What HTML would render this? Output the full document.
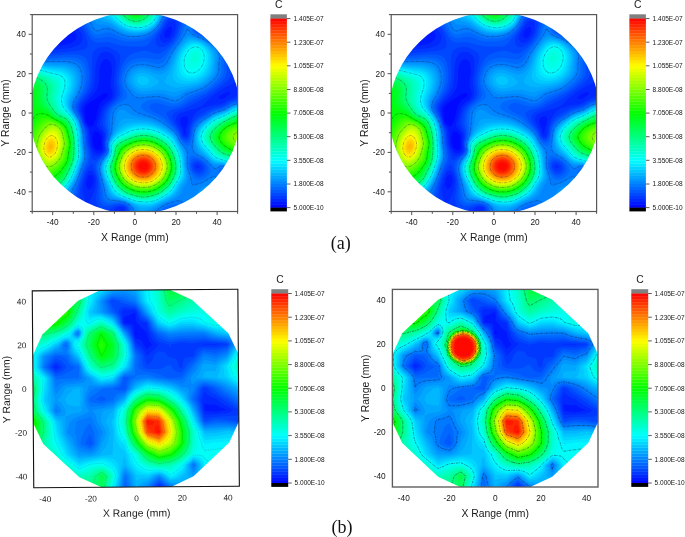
<!DOCTYPE html>
<html><head><meta charset="utf-8"><title>Figure</title>
<style>
html,body{margin:0;padding:0;background:#fff;}
svg{display:block;font-family:"Liberation Sans",sans-serif;}
</style></head><body>
<svg width="685" height="537" viewBox="0 0 685 537">
<rect width="685" height="537" fill="#fff"/>
<clipPath id="ct0"><ellipse cx="135.2" cy="113.0" rx="105.3" ry="100.9"/></clipPath>
<clipPath id="ct0f"><rect x="32.2" y="14.6" width="205.4" height="196.9"/></clipPath>
<g id="tf0"><g clip-path="url(#ct0f)"><g>
<rect x="30.2" y="12.6" width="209.4" height="200.9" fill="#0008ff"/>
<g transform="scale(.1)">
<path d="M240 2194l2218 0 0-2127-2218 0zM610 367l-21-4 21-20 16 20zM887 1252l-31-37-10-85 0-29 10-32 31-34 31-23 48-29 44-34 31-16 31-4 11 24-11 19-14 11-17 8-26 21-20 30-10 29-29 119-13 29-25 47zM979 1503l-31-23-12-25-9-29-3-30 1-29 7-30 16-27 31 13 14 14 17 24 2 6 2 29 0 89-4 7z" fill="#0018ff"/>
<path d="M240 2194l2218 0 0-2127-2218 0zM394 454l-27-32-6-30 10-29 28-30 118-69 47-20 46-7 30 1 30 6 32 18 15 12 26 30 18 29 6 30-9 29-33 30-23 10-31 10-38 9-23 3-93 3-61 9-31-1zM887 1896l-20-27-6-30 3-29 8-30 15-28 31-4 17 32 2 30-6 29-13 37zM948 1518l-22-33-13-30-6-29-3-30-2-59-4-29-11-20-3-10-19-29-9-9-9-21-22-93-3-25 3-30 18-29 13-17 42-42 27-30 23-29 20-30 11-29 8-30 3-29 0-89 12-59 12-30 27-34 31-5 31 30 12 39 4 29 1 30-4 30-7 29-4 30-1 29 3 30 17 59 1 29-13 30-9 10-26 19-34 30-22 29-22 59-16 60-10 29-7 30 15 29 29 31 16 28 7 30-6 59 6 59-13 29-10 10-31 9zM1657 379l-15-16 3-30 12-27 31-37 31 2 2 33-2 16-4 13-16 30-11 11zM1842 1344l-3-7-3-29-9-30-18-29-7-30 3-29 6-9 31-19 31 4 9 24-3 29-6 30-14 29-8 59zM2088 286l-24-12-4-30 28-14 31 11 3 3 13 30-16 20zM2212 993l-31-10 27-30 34-18 31-13 32 2-20 29-12 6-29 24z" fill="#0028ff"/>
<path d="M240 2194l2218 0 0-2127-2218 0zM425 513l-31-6-31-14-20-12-27-30-18-29-8-30-3-29 6-30 8-17 9-12 22-21 31-17 62-24 61-33 31-12 31-9 18-3 44-2 25 2 36 9 31 12 31 20 31 33 32 45 17 29 11 30 0 29-10 30-20 23-8 6-22 11-62 18-31 5-154 16-61 12zM856 2028l-20-71-6-29-3-30 6-59 15-59 11-29 28-41 31-4 29 45 9 29 2 30-4 59-7 29-23 59-6 20-8 10-23 49zM1164 2139l-18-4-10-30 31-29 28-9 31 0 17 9 5 29-22 22-31 12zM1626 425l-5-3-22-30 2-29 12-30 13-25 31-51 31-40 31-12 31 11 9 28-2 30-7 40-6 19-13 30-12 18-31 29-31 14zM1842 1373l-6-6-15-30-25-59-16-27-14-32-6-29 9-30 11-10 29-20 64-23 92-24 62-28 6-13 25-20 6-10 24-19 9-10 74-59 43-30 59-34 58-25 35-26 7-3 24-20 30 12 11 37 0 30-6 29-16 30-19 20-12 9-50 21-16 9-15 5-62 36-30 15-31 7-31 3-62 11-30 12-31 5-31 21-1 3-30 22-31 42-13 25-25 59-9 29-6 59-8 26-6 4zM1965 1687l-10-25 10-12 31 9 3 3-3 15zM948 1557l-30-43-22-59-10-59-3-59-4-29-11-30-12-16-18-43-35-118 1-30 12-29 9-14 38-45 45-59 29-59 7-30 4-29 6-119 7-59 8-29 10-26 23-33 8-8 31-15 31 0 31 13 14 10 26 29 10 30 3 29 0 30-18 148 0 29 14 89-2 29-13 30-4 5-30 31-28 23-25 29-16 30-11 29-21 89 0 30 33 59 6 12 5 17 3 30-8 59 1 29 4 30-4 29-32 30-31 14zM2150 363l-31-12-61-32-38-15-23-30 3-30 8-29 14-30 5-6 31-21 30-5 18 3 13 3 31 17 10 9 21 25 18 34 13 31 8 29-1 29-7 10-31 18z" fill="#0038ff"/>
<path d="M240 2194l459 0 14-30 49-88 12-30 9-29 11-84 19-94 12-43 28-75 34-55 9-4 22-26 22 56 8 13 22 75 5 30 0 59-12 88-2 30 3 30 9 29 6 14 11 16 20 21 31 7 31-4 31-14 14-10 47-17 31-7 31 2 31 15 6 7 5 29-11 18-12 12-19 12-31 13-31 7-31 3-30-1-62-6-31 2-31 7-31 10-26 12 1536 0 0-1268-31 33-30 19-11 5-51 14-33 15-29 16-31 20-61 20-62 15-31 15-92 51-31 24-31 38-20 38-9 29-10 59-9 30-13 20-31 3-21-23-10-18-18-41-56-89-13-29-2-30 20-30 131-61 106-57 17-7 62-36 65-45 81-59 73-59 22-30 11-29 5-30-2-89 14-88 0-30-4-29-11-30-8-9-24-20-38-14-92-17-31-13-61-34-62-28-19-12-8-30 5-89 7-29 15-23 7-7 24-14 31-11 30-3 31 3 31 10 28 15 34 34 16 25 25 59 20 34 31 37 20 18 11 13 31 22 48 24 44 25 0-350-2218 0 0 199 15-22 16-16 30-21 31-14 31-11 123-36 62-9 31 0 31 2 61 14 31 12 31 17 31 27 29 35 32 49 23 40 12 30 8 29 7 30 3 29-10 30-12 7-31 11-61 10-216 20-68 11-55 2-31-5-31-11-34-16-36-29-25-30-18-29-10-23zM948 1604l-30-11-9-49-20-59-7-30-5-29-6-89-6-29-36-89-18-59-24-59-2-30 9-30 31-44 12-14 40-59 16-30 12-29 12-59 3-30 1-89-2-88 2-30 5-29 10-30 12-10 31-18 31-9 31-5 31 1 31 9 60 32 33 30 8 29-3 30-31 148-7 59 1 29 10 59 3 30-3 29-14 30-26 29-32 30-27 29-18 30-11 29-8 30-10 59 4 30 22 59 7 29 0 30-12 59 0 29 6 30-4 29-10 17-31 29-22 14zM1595 473l-27-22-3-6-7-23 1-30 12-29 73-119 13-25 30-34 32-13 31 0 23 13 7 12 6 18 0 29-5 30-15 59-16 37-31 43-31 28-18 10-13 10-31 12zM1965 1716l-25-24-6-13-4-17 4-18 8-11 23-10 31 6 31 33 0 30-31 27z" fill="#0048ff"/>
<path d="M240 2194l343 0 27-30 61-55 32-33 30-42 9-17 12-30 40-143 31-92 31-75 24-44 7-29 4-30-2-30-24-118-7-89-5-29-9-30-19-46-13-42-12-30-28-59-5-30 9-29 16-30 42-59 18-29 15-30 11-29 13-59 3-59-1-30-6-53-8-36-11-29-12-18-14-12-17-10-31-9-30-4-31-1-62 1-92 6-123 12-31-1-31-5-62-19-45-29-33-29-14-17zM1145 2194l1313 0 0-1234-31 25-30 12-62 17-31 12-62 39-30 11-62 15-31 13-31 16-30 20-62 34-31 26-16 19-15 23-16 36-7 30-7 49-3 10-16 29-12 14-31-3-31-34-16-36-15-26-30-42-18-20-13-19-10-11-19-29-17-30-9-30 24-20 20-9 72-19 62-28 67-42 149-74 104-73 36-30 31-29 23-30 13-29 6-30-2-59 6-89 0-29-5-30-11-29-27-30-20-13-93-40-61-35-31-15-38-15-24-16-11-13-5-60-5-29-18-59 6-30 26-29 38-24 15-6-1771 0 0 81 31-16 30-11 31-8 93-16 31-3 61-3 62 4 61 12 31 10 23 9 39 21 31 22 17 16 25 30 20 29 65 119 27 37 30 19 31 6 93-5 31 4 61 20 62 14 61 8 154-1 31-14 31-30 16-29 70-88 21-30 47-84 31-29 31-14 31-6 30 1 30 14 1 2 9 27-5 30-29 118-12 30-24 40-31 38-31 30-31 27-31 23-31 14-30 3-31-7-31-12-31-9-31-5-14 5-47 9-31 9-31 13-31 16-30 33-31 53-17 44-16 60-8 59 1 29 17 89-4 29-14 30-27 29-33 30-28 29-18 30-12 29-8 30-6 59 3 30 16 57 3 31-2 30-16 59 0 29 7 30-3 29-20 32-59 57-20 30-5 29 3 30 19 70 9 48 5 59-2 88 2 30 9 30 8 13 16 16 15 10 31 6 31-4 41-12 20-4 31-2 31 2 31 14 21 20 6 29-17 30-41 29-31 14zM1965 1740l-31-26-13-22-8-30 4-29 17-25 31-6 31 9 34 22 19 29 3 30-14 29-11 10-31 13zM2420 274l38 19 0-226-274 0 28 15 21 15 30 29 21 30 20 36 18 23 13 13 31 20z" fill="#0058ff"/>
<path d="M240 2194l272 0 24-30 34-29 70-50 31-27 36-41 26-48 71-189 21-64 46-113 4-29 0-30-4-30-15-70-7-107-6-29-8-30-10-24-10-35-11-29-14-30-32-59-5-30 5-29 15-30 40-59 16-29 25-59 8-30 7-59-3-59-5-30-8-29-15-30-13-15-17-14-14-8-30-11-62-8-62 0-154 10-30 1-31-2-62-12-31-11-38-18-54-40zM1197 2194l457 0-17-30-3-29 18-30 5-4 31-15 31-7 31 4 30 15 10 7 30 30 20 29 10 30 608 0 0-1211-31 19-27 10-34 6-31 8-33 16-60 36-92 28-31 12-61 41-31 15-31 20-31 29-19 26-12 21-12 38-4 29-14 62-22 27-9 8-31-9-31-33-27-55-34-46-93-97-31-26-31-20-38-18-48-29-16-30 10-17 10-12 21-9 31-3 30 4 62 22 31 6 31 3 31-2 30-7 34-14 90-60 123-54 31-16 30-20 37-27 36-30 31-29 20-24 20-35 7-30-1-59 5-89-2-29-6-30-17-29-6-7-31-26-62-33-61-37-99-45-21-29-4-30-7-30-23-39-31-8-31 26-10 21-27 89-12 30-16 29-27 39-92 109-32 34-31 18-30 4-31-4-62-12-31-3-30 0-62 10-31 12-31 18-35 41-16 29-12 30-9 30-6 29-3 30 2 29 6 30 16 59-1 29-14 30-29 29-22 17-44 42-21 30-11 29-7 30-4 30-1 29 2 30 9 59 0 29-5 30-17 59-1 29 8 28-1 31-30 43-43 46-16 30-7 29 0 30 30 147 7 59 3 59 5 30 16 30 36 20 31 1 61-8 31 0 31 4 31 10 36 32 7 29-15 30-28 24-31 20zM1965 1766l-31-25-13-20-16-29-7-30 0-29 9-30 27-21 31 3 31 9 31 17 24 22 20 29 6 30-8 29-11 15-16 15-15 9-31 10zM2242 1790l-15-39 0-30 15-10 31 30 6 10 7 29-13 25zM1175 392l20 8 62 14 61 2 62-4 31-5 30-8 31-12 31-18 31-26 31-31 30-38 19-30 12-26 31-51 31-25 31-17 31-10 30-6 62-8 31-10 31-15 12-9-1292 0 47 16 62 30 31 21 25 22 28 29 21 30 17 29 30 60 18 29 15 20 30 23 31 7 31-2 62-11 31 1 30 7zM2413 156l45 27 0-116-157 0 65 54z" fill="#0068ff"/>
<path d="M240 2194l220 0 20-30 29-29 42-30 59-35 30-22 34-31 24-30 17-30 49-109 28-68 33-98 21-49 9-30 6-29 1-30-14-89-8-118-6-29-26-89-27-59-36-59-6-30 4-29 12-30 38-59 16-29 13-30 10-29 7-30 6-59-1-29-4-30-8-30-13-29-27-30-28-15-31-10-31-5-62-4-154 6-61-2-31-6-62-17-31-13-41-22-20-14zM1226 2194l383 0-18-30-4-29 17-30 37-29 16-9 31-13 27-8 35-3 30 5 31 17 49 40 29 30 23 29 16 30 530 0 0-1195-21 13-10 4-30 8-31 5-31 9-31 14-31 21-31 16-30 11-31 7-31 10-31 15-123 79-31 31-22 36-9 27-17 91-13 49-31 21-11-11-20-9-16-20-15-15-31-60-30-41-62-59-31-27-31-23-31-18-30-16-85-37-49-29-20-30 6-29 24-17 22-13 9-3 31-8 31-5 31-1 30 3 31 8 62 21 31 7 31 2 30-5 31-15 62-48 28-15 64-23 62-25 64-40 28-22 41-37 25-30 18-29 9-29 0-38-2-22 7-89-3-29-8-30-19-29-35-30-95-59-30-15-62-26-28-18-18-29-3-30-12-28-4-2-27-7-8 7-23 34-15 55-14 30-17 29-46 65-42 53-38 59-13 25-31 32-31 12-30 1-93-20-31-3-61 2-31 7-31 12-31 23-22 27-8 14-8 16-11 30-8 29-3 30 2 29 9 30 27 59 6 29-9 30-5 5-31 24-31 18-31 22-21 19-22 30-12 29-6 30-3 30-1 59 3 59-4 29-7 30-11 29-7 30-2 29 5 30 0 29-4 12-31 43-28 34-18 30-8 29 0 30 4 29 27 118 11 59 7 59 9 30 27 27 10 3 21 3 61-2 31 2 31 5 31 11 19 10 33 30 7 29-14 30-45 39zM1965 1798l-31-22-31-55-11-29-6-30-2-29 4-30 16-44 30-5 62 24 31 16 13 9 32 30 21 29 12 30-1 29-21 30-25 21-31 17-31 9zM2242 1853l-33-43-21-59-6-30 12-29 18-11 30-2 19 13 12 11 16 18 15 23 14 36 2 30-9 29-7 12-31 13zM1193 363l33 13 31 7 30 4 31 1 62-3 31-5 30-8 31-11 31-15 31-23 31-29 17-20 20-30 29-59 26-37 28-22 34-20 31-13 73-26-1117 0 58 35 31 24 31 30 24 29 19 30 43 89 6 8 30 28 31 6 31-5 31-10 31-7 31 2 30 9zM2445 67l13 8 0-8z" fill="#0078ff"/>
<path d="M240 2194l178 0 19-30 19-23 30-29 31-20 62-32 31-19 33-24 30-30 29-42 9-17 53-108 17-40 44-128 9-19 10-30 5-29 1-30-1-30-10-59-3-29-5-89-13-59-17-59-7-16-22-43-39-59-6-30 2-29 10-30 35-59 15-29 22-59 7-30 4-59-2-29-7-30-11-30-8-13-14-16-16-13-37-17-56-11-31-2-92-1-62 2-61-4-63-13-30-9-52-21-40-22zM1247 2194l326 0-19-30-8-29 17-30 39-29 50-30 67-25 31-9 30-6 31 3 48 37 84 59 35 30 27 29 21 30 432 0 0-1180-31 13-61 12-31 8-31 15-64 39-59 16-62 26-23 17-69 43-22 16-30 30-20 29-11 30-6 29-16 118 1 30 11 28 28 31 65 33 31 23 33 33 27 29 1 3 31 23 31-12 23-14 8-2 32 2 39 30 27 29 18 30 13 29 6 30 0 29-5 30-7 19-31 33-31 6-31-10-30-29-14-19-17-30-13-29-10-30-8-14-31 4-12 10-80 44-31 11-21 4-41 16-17-16-10-59-7-29-21-59-6-30-2-29 1-30 5-59-6-30-13-29-16-15-9-15-22-26-19-33-14-29-28-41-31-29-62-50-31-21-31-18-61-29-31-11-92-27-31-12-45-28-27-30-21-17-30-8-31 2-31 10-21 13-10 9-18 21-13 28-4 31-12 148-7 29-22 59-9 30-3 29 5 30 0 29-9 24-49 65-16 30-9 29-1 30 4 29 38 148 18 88 14 30 32 15 61 5 62 10 31 11 35 18 33 30 11 29-16 30-33 30zM1658 983l61 20 31 5 30-6 30-19 32-28 31-18 92-30 62-25 31-18 30-22 41-36 27-30 19-29 12-30 1-30-2-29 7-59 1-30-3-29-10-30-20-29-36-30-67-45-31-16-69-27-24-13-25-17-5-13-21-16-10-19-5 19-11 29-15 17-6 13-105 147-34 59-9 23-20 36-11 14-19 16-12 8-31 10-30-1-93-24-31-4-30 0-31 3-31 7-31 15-19 15-12 13-11 17-14 30-5 15-4 14-4 30 3 29 5 13 8 17 22 34 22 25 9 15 31 30 31 9 31 1 92-11 62-4 30 2 31 7zM1277 363l41 4 31 0 45-4 47-9 31-10 31-15 31-23 31-28 25-34 17-29 19-43 31-40 31-24 31-20 41-21-1002 0 41 30 33 29 24 25 27 34 19 30 46 89 31 4 62-22 31-2 31 7 30 13 31 17 62 29z" fill="#0087ff"/>
<path d="M240 2194l143 0 18-30 22-29 33-34 30-21 93-44 32-19 37-30 23-25 31-47 62-118 19-46 11-37 39-111 6-29 2-30-2-30-12-88-4-89-12-59-17-59-13-29-17-29-40-60-8-30 0-29 7-30 14-29 27-47 17-42 16-59 3-29 0-30-5-29-9-30-16-30-37-29-31-12-31-8-61-6-124-1-30-1-31-4-31-6-62-16-61-23-31-15zM1266 2194l275 0-22-30-14-29 14-30 107-63 121-55 46-30 21-29 27-59 20-30 14-29 8-30-1-29-14-59-5-30-4-118-8-30-9-14-6-15-19-30-6-6-30-53-14-29-17-25-31-29-31-25-62-42-31-17-61-27-31-10-157-32-28-11-31-18-30-23-31-13-31 4-25 31-6 20-4 40-5 29-23 89-10 29-26 59-11 30-4 29 4 30 1 29-14 35-39 54-16 30-8 29-2 30 3 29 6 30 17 59 20 59 15 59 11 29 24 25 30 9 93 18 31 11 51 26 10 10 26 20 5 13 10 16-10 15-7 15zM2190 2194l268 0 0-1169-31 13-61 10-31 8-31 16-46 29-16 7-92 30-31 16-92 62-31 26-31 41-10 25-7 29-5 30-2 29-1 30 2 29 7 30 16 29 33 30 29 17 31 23 61 57 31 16 31-1 31-5 30 3 20 8 39 30 25 29 20 30 14 29 6 19 8 40 1 30-3 29-6 30-31 60-31 32-31 18-31 5-30-18-60-127-33-39-31-7-30 7-31 12-35 27-31 59-6 30 12 30 29 25 31 19 31 16 78 28 14 8 25 22 6 12 5 17zM1678 953l41 12 31 5 30-9 62-38 31-12 92-26 50-20 43-25 42-34 28-30 20-29 13-30 4-30 1-29 6-59 1-30-3-29-11-30-22-29-34-30-45-32-31-17-23-10-70-25-18-4-12-7-31 2-31 27-62 81-29 44-18 30-45 103-31 38-31 21-31 7-30-2-64-20-29-7-31-5-30-1-31 4-32 9-30 19-10 11-21 31-9 28-4 30 5 29 17 30 22 25 31 28 31 17 31 8 30 1 93-9 31-2 30 1 31 4zM1237 333l20 7 30 7 31 4 62 0 31-4 30-8 31-10 31-14 31-22 31-29 15-20 15-27 31-64 31-36 31-26 36-24-923 0 67 59 53 59 27 36 31 23 62 4 31 4 31 11 92 52z" fill="#0097ff"/>
<path d="M240 2194l110 0 41-59 25-30 34-29 57-30 69-29 34-20 30-24 15-16 16-19 26-40 50-88 27-59 20-66 20-52 9-30 6-29 2-30-1-30-11-88-3-89-12-59-17-59-23-45-31-43-19-30-9-30-2-29 5-30 11-29 31-59 12-30 14-59 3-29-2-30-6-29-13-30-25-30-31-17-31-11-31-6-30-3-124-5-61-6-31-6-93-26-61-24zM1284 2194l227 0-27-30-12-17-14-12 1-30 44-16 26-13 36-14 30-18 52-27 63-30 46-30 25-29 18-30 12-26 40-62 12-30 3-29-3-30-10-59-6-88-4-30-8-30-13-29-36-59-31-59-5-8-21-22-41-33-62-40-61-31-31-11-31-9-62-11-184-16-31 7-31 33-12 23-19 29-14 30-47 88-12 30-5 29 4 30 1 29-11 30-8 15-30 44-17 30-8 29-2 30 3 29 15 59 33 89 18 59 18 29 31 20 93 25 31 10 68 34 24 19 21 11 10 15 21 14-21 19-7 11-24 12zM2333 2194l125 0 0-1159-15 7-16 4-61 9-31 10-31 16-30 20-32 15-44 14-48 18-31 16-80 55-35 30-8 9-16 20-15 30-8 29-4 30-2 29 2 30 6 29 11 30 20 29 68 54 61 55 31 17 31 3 31-1 30 4 37 16 37 30 26 29 24 36 12 23 19 58 5 31 2 29-3 59-4 28-8 32-23 77-15 41zM1368 894l12 8 31 10 30 3 31-2 62-10 61-6 31 1 31 6 62 16 31 2 30-6 62-22 117-29 37-14 31-15 43-30 30-30 22-29 15-30 6-30 7-59 4-59-5-29-11-30-23-29-33-30-24-18-31-19-31-14-62-18-30-4-31 8-31 25-31 37-43 62-29 59-20 57-15 32-16 28-31 35-31 19-31 5-30-4-62-24-31-10-31-6-30-1-31 5-31 13-30 29-13 29-4 30 8 29 21 30 18 17zM1304 333l45 5 31-1 31-4 30-6 31-9 31-16 31-21 31-30 23-36 38-77 31-35 31-28 12-8-862 0 110 101 31 23 31 14 62 19 31 14 92 57 31 16 31 13 30 7z" fill="#00a7ff"/>
<path d="M240 2194l79 0 21-30 47-59 38-37 34-22 89-34 31-14 31-19 30-26 23-25 21-30 49-81 31-64 12-32 17-59 12-29 9-30 6-29 3-30-1-30-10-88-3-89-12-59-17-59-16-32-59-86-11-30-4-29 3-30 9-29 28-59 12-30 14-59 1-29-2-30-9-29-13-23-5-7-26-22-13-8-49-16-61-7-93-5-61-8-31-6-62-16-92-30zM1303 2194l179 0-10-10-31-23-30-11-31 3-31 13-31 17zM2414 2194l44 0 0-1149-31 9-61 9-26 8-36 18-31 20-31 14-61 21-31 13-31 16-65 46-27 22-31 33-20 34-9 29-4 30-1 29 3 26 9 33 15 30 25 29 105 94 31 18 31 5 31 1 30 6 53 24 36 30 26 29 21 30 17 29 13 30 18 59 9 59 2 29-3 89-10 89zM1439 2076l33-2 31-5 31-9 31-14 123-62 31-18 31-26 11-12 50-89 22-29 13-30 7-29-1-30-9-59-6-88-5-30-9-30-14-29-59-108-38-40-55-39-34-20-28-15-61-24-62-14-92-6-31 0-62 6-30 9-31 18-30 26-32 35-31 44-22 39-14 30-6 29 5 59-11 30-13 26-23 33-15 30-9 29-2 30 3 29 16 59 11 30 19 42 15 46 13 30 26 29 7 5 31 14 62 19 61 23 57 28 36 20 31 8zM1372 865l8 5 31 12 30 3 31-3 31-8 29-9 52-30 1-29-20-11-19-19-43-25-31-14-31-8-30-1-31 8-19 11-12 12-11 17-4 30 9 29zM1714 865l36 8 30 1 31-3 93-14 61-16 31-12 31-16 10-7 35-30 25-29 16-30 9-30 10-59 3-29 0-30-5-29-12-30-22-29-32-30-37-25-31-14-31-10-31-5-30-1-31 11-31 27-31 38-31 49-23 48-38 113-31 59-24 35-7 17-13 13 15 29zM1245 304l42 13 31 6 62 3 61-10 36-12 26-13 31-22 31-31 14-23 28-59 19-32 31-36 23-21-807 0 75 64 31 22 31 18 31 13 62 31 85 59 38 22z" fill="#00b7ff"/>
<path d="M240 2194l49 0 72-89 33-35 28-24 34-17 92-33 31-15 31-19 37-34 43-59 37-59 29-59 50-148 7-29 2-30 0-30-10-88-3-89-11-59-18-59-15-29-62-89-13-30-6-29 1-30 7-29 37-89 9-29 5-30 0-29-3-25-13-34-25-30-24-15-41-15-20-4-124-11-61-9-31-6-62-16-92-28zM1322 2194l129 0-10-7-30-14-31-1-31 8zM1370 2046l10 5 31 7 30 3 31-1 31-4 62-20 123-64 31-21 24-23 7-9 14-21 16-34 37-54 16-30 7-29 1-30-9-88-1-30-3-29-6-30-24-59-48-89-31-39-31-25-62-38-61-29-31-11-62-13-61-4-62 2-31 5-31 9-30 12-31 18-31 23-31 28-31 39-30 53-7 29 4 59-10 30-18 36-16 23-14 30-9 29-2 30 3 29 7 30 9 29 27 59 23 59 15 30 18 19 31 18 93 34 30 12 62 29zM2457 1898l1-845-31 8-63 10-29 9-62 36-31 15-92 34-31 17-51 37-36 30-27 29-18 30-10 29-5 30 0 29 6 30 11 29 7 13 11 17 89 89 23 20 31 20 31 8 31 3 30 6 31 12 37 19 35 30 27 29 39 59 15 30 12 29zM1386 835l25 14 30 2 31-9 11-7 11-29-20-30-33-14-30-2-32 16-9 30 10 21zM1802 835l9 2 31 1 31-1 31-3 61-14 33-14 29-18 15-12 28-29 20-30 11-30 8-29 5-30 3-29 0-30-5-29-13-30-22-29-32-30-18-12-31-16-31-9-31-4-30 3-31 15-26 23-24 30-20 29-23 46-15 43-15 62-16 56-6 30 0 29 13 30 9 7 30 17zM1286 304l32 7 31 3 31 1 31-3 36-8 25-8 31-16 31-21 31-35 6-9 24-52 20-37 11-17 37-42-755 0 40 34 31 22 31 20 62 32 31 19 92 69 31 18 31 14z" fill="#00c7ff"/>
<path d="M240 2194l19 0 73-85 31-33 32-30 30-20 19-9 73-24 31-12 31-15 31-19 30-28 18-21 21-29 39-59 17-30 13-29 16-43 34-105 7-29 3-30-3-59-7-59-3-89-11-59-8-29-10-30-16-29-17-26-27-34-20-29-15-35-7-24-1-30 5-29 10-30 24-58 9-30 4-30 0-29-6-30-16-29-22-21-13-9-18-8-30-9-124-15-92-17-154-41zM1349 2194l63 0-32-6zM1456 2046l47-2 31-7 31-12 123-65 31-23 9-9 22-29 30-57 24-32 16-30 10-29 2-30-10-118-4-29-7-30-9-30-14-29-38-71-12-18-19-24-31-27-31-20-62-34-61-23-31-8-62-7-61 1-31 3-31 6-31 11-30 14-62 36-31 25-31 36-23 41-10 29 5 59-2 9-7 21-47 89-8 29-2 30 3 29 16 59 29 59 24 59 22 33 35 26 27 12 62 23 92 39 31 9 31 4zM2458 1839l0-777-31 7-61 9-31 10-62 35-31 15-92 35-31 18-38 28-35 30-28 29-20 30-11 29-5 30 0 29 8 30 14 29 21 30 85 89 42 29 29 10 31 4 30 7 31 11 31 15 20 12 35 30 27 29 41 59zM1831 806l42 5 31 0 32-5 29-9 31-14 31-21 16-15 22-30 15-30 16-59 3-29 0-30-5-29-13-30-23-31-31-27-31-17-31-9-31-2-30 6-31 17-31 32-21 31-17 30-12 29-9 30-6 29-9 59-2 30 2 30 14 29 29 22zM1357 304l54-2 30-6 31-10 31-16 31-22 31-37 30-66 11-19 20-32 23-27-708 0 38 30 31 21 62 35 31 20 48 42 44 33 31 20 31 15 30 10z" fill="#00d7ff"/>
<path d="M240 2164l0 17 71-76 52-51 31-25 18-12 13-7 31-12 61-19 31-12 31-15 31-20 30-28 28-35 41-59 24-43 19-46 30-88 9-30 6-29 3-30 0-30-8-88-3-89-11-59-8-29-11-30-16-29-21-30-25-30-20-29-17-30-10-29-3-30 4-29 9-30 22-59 8-29 4-30-1-29-8-30-20-29-25-17-33-13-121-19-61-12-185-46zM1337 2017l43 14 31 5 61 2 31-3 31-8 31-12 92-47 31-19 26-21 25-30 33-59 21-29 16-30 10-29 4-30 0-29-9-89-4-29-7-30-10-30-14-29-29-53-23-36-8-10-31-28-62-38-61-30-62-17-31-5-61-2-62 6-31 8-31 11-61 31-31 18-31 23-31 35-17 28-11 29 4 59-6 25-47 94-9 29-2 30 4 29 7 30 10 29 14 30 17 29 25 59 11 17 11 13 20 16 23 13 39 17zM2444 1780l14 25 0-735-92 15-31 10-62 36-123 51-31 18-60 49-29 29-21 30-12 29-6 30 2 29 3 12 6 18 16 29 24 30 83 89 25 18 30 11 62 14 31 10 31 14 31 19 31 26 34 35zM1845 776l28 8 31 2 30-3 31-9 31-16 15-11 16-15 12-15 19-30 11-29 12-59 0-30-5-29-12-30-23-29-14-13-31-21-31-9-31 0-38 13-23 17-12 13-23 29-16 30-11 25-9 34-8 59 0 29 3 30 12 30zM1264 274l23 8 31 7 31 5 31 1 31-2 30-7 31-10 31-16 31-23 19-22 12-20 30-67 31-49 10-12-663 0 41 30 89 57 61 56 31 25 31 21z" fill="#00e7ff"/>
<path d="M240 2135l0 15 109-104 45-34 31-16 23-9 69-21 31-12 31-15 31-20 30-28 18-22 44-62 31-57 12-29 39-118 6-29 3-30 0-30-7-88-3-89-5-29-14-58-12-31-19-33-67-85-19-30-11-29-5-30 3-29 6-27 22-62 8-29 3-30-2-29-11-30-20-23-30-16-31-8-93-18-246-58zM1360 2017l20 6 31 4 61 2 31-4 33-8 29-10 94-50 29-18 14-11 27-30 34-59 37-59 10-29 5-30 0-29-4-30-4-59-5-29-7-30-11-30-30-59-18-29-21-30-27-26-31-21-92-47-31-11-31-7-62-5-30 0-62 6-31 8-31 13-92 45-31 24-31 33-10 18-12 29 1 59-6 30-44 89-8 29-2 30 3 29 8 30 11 29 14 30 15 24 14 35 16 30 24 29 7 6 39 23 84 35zM2439 1751l19 27 0-701-31 6-61 8-27 10-97 51-92 38-31 19-14 10-63 59-21 30-14 29-6 30 2 29 11 30 18 29 87 99 21 20 10 7 31 13 92 26 31 12 31 18 17 12 34 30 28 29zM1859 747l14 6 31 7 30-2 34-11 28-18 13-12 18-21 19-38 12-37 4-22 1-30-5-31-13-28-18-23-31-25-30-11-9 0-23 2-30 12-21 16-10 11-15 18-18 30-12 29-7 30-3 29 0 30 3 29 11 30 10 15zM1296 274l53 11 31 1 31-2 30-7 31-11 31-16 31-24 9-11 22-37 30-67 28-44-620 0 100 70 30 26 31 32 31 27 31 21 31 18z" fill="#00f7ff"/>
<path d="M240 2105l0 18 87-77 36-29 31-19 31-15 92-29 31-12 31-15 31-21 30-28 52-68 18-30 23-48 45-129 6-29 3-60-6-88 0-30-5-59-4-29-15-59-12-30-17-29-26-35-49-54-20-30-13-29-5-30 1-29 6-30 19-59 7-29 2-30-3-29-15-30-22-17-31-13-62-14-176-45-101-21zM1398 2017l43 3 31 0 30-3 32-7 31-11 61-32 31-17 31-21 31-31 19-29 16-30 20-29 17-30 11-29 5-30 1-29-8-89-5-29-8-30-11-30-14-29-12-22-31-48-16-19-15-14-31-22-62-34-61-24-31-7-31-4-61-2-31 3-31 5-31 9-31 12-30 16-31 13-31 16-31 22-31 34-17 36 0 59-6 30-7 19-21 40-13 30-9 29-2 30 4 29 8 30 11 29 52 103 10 15 21 25 31 22 62 29 92 33 31 8zM2454 1751l4 6 0-672-92 13-31 12-93 49-74 31-51 29-62 59-23 30-14 29-7 30 3 29 12 30 21 29 72 85 31 30 31 15 123 39 31 16 31 22 31 27zM1876 717l28 12 30 0 31-10 31-25 25-36 12-30 7-29 2-30-4-29-12-30-30-31-31-11-31 3-30 16-23 23-19 30-13 29-7 29 0 43 2 17 10 29zM1340 274l9 2 31 1 31-2 30-7 31-11 31-17 31-25 31-55 14-34 16-32 17-27-582 0 79 59 24 21 31 33 31 29 31 23 31 19 30 12z" fill="#00fff7"/>
<path d="M240 2076l0 23 92-75 31-22 25-15 37-16 92-29 36-14 26-13 31-21 30-28 44-56 18-29 31-67 38-111 6-29 4-60-6-88-1-59-10-68-14-50-12-30-17-29-19-25-62-64-23-30-13-29-6-30 0-29 5-30 16-59 6-29 1-30-6-29-10-16-15-14-16-8-62-22-123-36-93-21-61-11zM1310 1987l39 13 31 8 31 4 30 1 31 0 31-4 31-7 31-11 92-49 31-23 31-33 11-17 16-30 20-29 16-30 12-29 6-30 1-29-4-59-4-30-5-29-9-30-11-30-18-36-31-50-31-34-31-23-31-19-61-29-31-11-31-7-62-6-61 3-62 15-123 56-31 23-31 34-11 25-2 59-6 30-11 31-15 28-13 30-8 29-2 30 4 29 8 30 11 29 45 88 19 30 12 14 31 25 31 17zM2443 1721l15 17 0-646-92 13-31 12-62 34-92 41-50 27-43 38-21 21-23 30-15 29-7 30 3 29 14 30 22 29 58 69 17 20 14 13 25 17 129 41 31 16 44 31zM1910 687l24 4 31-12 21-21 10-14 8-16 10-29 4-30-4-29-14-30-4-4-31-18-31 6-24 16-22 30-15 29-5 30 2 29 3 13 7 17 24 28zM1265 244l22 10 31 8 31 6 31 1 31-3 30-7 37-15 25-15 17-14 14-15 9-15 58-118-546 0 72 59 68 71 31 25 31 19z" fill="#00ffe7"/>
<path d="M240 2076l92-68 32-21 65-30 57-16 62-22 31-15 31-20 30-29 36-45 19-30 28-59 33-88 8-28 10-61 0-59-6-118-4-34-11-55-9-29-13-30-17-29-12-16-31-31-49-42-21-30-13-29-7-30-1-29 3-30 14-59 5-29-2-30-12-29-9-10-29-20-94-36-93-27-62-13-61-10zM1330 1987l50 14 31 5 61 0 31-4 31-8 61-24 71-42 33-30 20-24 39-64 16-30 12-29 7-30 2-29-1-30-7-59-6-29-9-30-11-30-15-29-27-44-31-36-10-9-52-34-31-16-61-24-31-8-31-4-31-1-61 3-31 6-31 9-123 56-31 22-31 37-6 13-3 30 0 29-5 30-16 42-22 47-8 29-2 30 4 29 8 30 12 29 38 75 31 46 30 27 32 19 61 26zM2458 1721l0-622-61 8-31 6-31 11-66 36-119 56-31 24-31 29-30 36-18 32-7 30 4 29 14 30 68 83 31 35 31 22 16 8 107 33 31 15 31 20 31 23zM1931 628l3 3 31-16 9-16 7-30-6-29-10-11-31 4-6 7-16 29-2 30zM1286 244l32 10 31 6 31 1 31-4 30-7 31-13 35-22 27-30 41-88 16-30-514 0 56 50 62 68 36 30 26 16z" fill="#00ffd7"/>
<path d="M240 2046l0 11 61-44 40-26 22-13 35-17 150-48 31-16 31-20 30-29 28-34 19-30 15-28 26-60 22-59 8-30 6-28 4-61-4-122-5-55-12-59-14-40-9-19-22-35-31-32-31-22-36-29-20-30-12-29-8-30-3-29 3-30 11-59 3-29-5-30-18-29-44-30-55-24-31-11-31-10-62-15-92-13zM1350 1987l30 8 31 4 30 2 31-1 31-5 62-18 61-31 31-20 31-26 31-37 48-83 11-29 8-30 2-59-3-29-11-59-9-30-15-37-30-52-32-39-23-20-39-24-31-17-30-13-31-11-31-8-62-6-61 4-31 6-62 22-61 27-31 16-31 22-32 41-4 30 0 29-5 30-10 30-26 59-8 29-2 30 4 29 9 30 26 59 33 59 15 21 31 30 31 20 61 27zM2442 1692l16 15 0-600-61 7-31 6-28 10-65 35-111 54-43 33-31 30-21 26-16 29-7 30 5 29 15 30 72 88 29 30 16 12 40 18 83 25 31 14 31 19 31 22zM1313 244l36 8 31 1 31-4 30-9 31-13 19-12 12-9 19-21 12-19 46-99-484 0 37 36 62 70 31 28 31 21 30 15z" fill="#00ffc7"/>
<path d="M240 2017l0 21 77-51 53-30 55-21 61-17 62-21 31-15 31-20 30-28 21-25 19-30 29-59 24-58 11-30 14-59 4-60-5-147-9-59-17-59-14-30-18-29-28-28-31-22-19-10-34-29-18-30-13-29-8-25-6-34 2-30 9-59 1-29-8-30-22-29-7-5-39-25-53-23-62-20-62-11-61-7zM1376 1987l35 6 30 2 31-2 31-5 62-18 30-14 49-28 44-37 31-38 41-73 12-29 7-30 3-29 0-30-3-29-11-59-22-60-27-48-32-40-30-26-31-20-61-30-31-11-31-7-31-5-61-1-62 10-62 22-61 27-31 16-31 23-24 31-8 30 0 29-5 30-10 30-25 59-8 29-1 30 5 29 8 30 26 59 11 20 31 49 17 19 14 13 23 17 39 21 61 23zM2457 1692l1-578-61 7-41 9-21 9-62 33-95 47-28 19-31 26-31 33-9 11-16 29-7 30 4 29 16 30 72 88 31 30 33 17 34 13 58 16 31 15 31 18 31 21zM1364 244l16 1 31-5 30-10 33-15 29-23 7-7 19-29 41-89-457 0 54 59 24 30 29 29 37 28 30 15 31 10 31 6z" fill="#00ffb7"/>
<path d="M240 2017l0 2 4-2 48-30 52-30 19-9 31-13 31-10 92-26 62-26 31-20 30-28 13-15 18-28 31-61 31-73 14-45 5-29 3-30 2-59-3-89-12-88-9-34-22-55-20-29-20-20-31-20-39-20-22-20-25-39-14-29-11-30-5-29 0-30 8-59-1-29-10-30-25-29-10-7-37-23-55-23-31-10-31-6-92-9zM1409 1987l32 2 31-2 31-5 31-8 61-24 38-22 24-18 42-41 20-26 19-33 27-59 8-30 3-29 0-30-3-29-5-30-16-59-13-30-20-36-31-41-31-28-19-13-73-38-31-11-62-12-61 0-31 3-31 6-31 10-99 42-24 13-23 17-8 7-17 22-9 30-1 29-5 30-10 30-24 59-8 29-1 30 5 29 20 59 19 39 31 50 27 29 35 28 31 17 61 23 31 9zM2436 1662l22 19 0-560-61 7-31 6-31 13-142 72-42 30-32 28-28 31-17 29-7 30 5 29 16 31 62 75 31 31 15 11 16 8 30 12 62 18 31 14 62 38zM1277 215l41 16 31 6 31 0 31-6 43-16 18-11 31-26 15-22 16-30 26-59-432 0 36 41 38 48 24 24 31 23z" fill="#00ffa7"/>
<path d="M240 1987l0 15 77-45 46-22 62-21 61-16 62-21 31-14 31-20 30-27 6-6 34-59 28-59 25-59 8-30 5-29 3-30 2-59-2-89-3-29-10-59-8-30-11-29-13-30-33-41-31-18-61-31-21-28-34-59-12-30-7-29 0-30 7-59-2-29-12-30-28-29-14-10-34-20-28-12-31-10-31-6-31-4-61-4zM1312 1957l68 19 31 5 30 2 62-8 62-18 30-13 27-16 35-26 31-30 31-39 31-61 8-21 8-30 4-29 0-30-8-59-7-29-5-17-18-43-13-24-25-35-37-37-33-22-59-29-31-12-31-8-31-4-31-2-61 4-31 7-31 10-92 39-31 16-31 26-9 12-11 30-8 59-9 30-23 59-8 29-1 30 5 29 9 30 24 56 31 52 31 35 31 24 31 19zM2451 1662l7 6 0-539-61 6-31 7-31 12-127 65-43 30-46 41-15 18-16 24-10 35 5 29 16 30 49 59 33 36 33 23 28 11 62 18 31 15 62 36zM1295 215l23 8 31 6 31 0 31-6 30-12 40-26 22-24 20-35 27-59-408 0 71 89 13 13 31 25 30 18z" fill="#00ff97"/>
<path d="M240 1957l0 28 61-34 62-28 31-11 123-34 31-11 31-14 31-19 27-24 20-30 14-27 31-63 24-57 9-30 5-29 6-89 0-59-2-30-8-59-6-29-19-59-15-30-25-32-31-18-61-29-11-10-23-29-36-59-14-30-9-28 0-32 7-58-4-29-13-30-31-29-51-30-31-11-62-9-30-2-31 0zM1332 1957l48 13 31 5 30 2 62-8 31-8 61-24 17-9 40-30 31-29 36-46 33-72 8-30 4-29 1-30-3-29-12-56-11-33-14-30-17-29-22-30-29-28-48-31-44-22-62-20-31-4-31-2-30 1-62 10-62 23-61 26-31 18-33 29-12 30-9 59-9 30-23 59-8 29 0 30 5 29 9 30 18 43 25 45 22 30 15 16 15 13 42 30 35 15zM2424 1633l34 24 0-521-61 7-31 6-31 12-113 58-41 29-36 30-26 26-22 33-7 30 5 29 16 30 39 48 37 40 25 19 30 14 62 18 31 14 62 35zM1316 215l33 7 31-1 31-7 30-14 24-15 7-5 22-24 9-14 24-45 12-30-383 0 70 91 31 27 30 18z" fill="#00ff87"/>
<path d="M240 1957l0 11 61-32 62-26 36-12 87-21 62-20 31-14 31-19 16-14 23-30 53-105 18-42 9-30 5-29 5-60 2-59-2-59-6-43-9-45-9-30-13-34-14-25-17-22-31-20-42-17-19-10-23-20-23-29-40-59-15-30-9-29 0-30 4-29 1-30-5-29-15-30-29-26-31-18-31-14-31-6-61-4-31 0zM1354 1957l26 7 31 5 30 2 31-3 62-14 31-10 36-16 56-42 31-31 31-43 15-32 16-44 4-15 4-29 1-30-3-29-6-33-7-26-24-59-31-47-31-32-31-22-31-18-30-15-31-11-31-8-31-5-31-2-30 1-31 4-31 7-62 22-61 27-18 10-13 8-23 21-8 11-8 19-10 59-9 30-22 59-8 29 0 30 5 29 9 30 12 30 14 29 17 29 31 37 31 27 39 25 22 9zM2440 1633l18 12 0-501-61 6-40 10-22 9-99 50-44 30-34 29-30 30-19 29-8 30 5 29 16 30 49 59 30 29 11 8 30 16 62 19 31 14 59 32zM1272 185l15 10 31 13 31 6 31-1 31-8 30-15 31-24 9-10 22-33 26-56-360 0 41 59 25 30z" fill="#00ff78"/>
<path d="M1380 1957l31 6 30 2 31-3 62-14 61-24 31-21 31-25 31-32 26-36 5-10 20-49 9-30 5-29 1-30-9-59-8-29-11-30-14-30-19-29-25-30-42-34-61-32-31-12-31-8-31-5-31-2-30 1-62 10-92 36-35 17-27 17-14 12-19 30-11 59-31 89-7 29-1 30 6 29 9 30 26 59 19 29 23 28 31 28 31 21 23 12 69 22zM240 1928l0 23 61-30 57-23 67-18 61-14 62-19 31-14 36-23 26-30 61-119 12-28 9-30 10-87 3-61-2-59-10-59-7-29-8-30-12-29-17-30-9-12-31-22-61-24-35-31-47-59-21-29-15-30-9-29 0-30 4-59-7-29-18-30-37-30-31-13-31-8-61-3-31 1zM2456 1633l2 1 0-483-61 7-31 7-31 12-85 42-46 30-54 49-30 39-8 30 5 29 16 30 48 57 31 29 30 17 62 20 31 14 62 33zM1286 185l32 15 31 6 31-1 31-10 30-17 27-22 22-30 16-29 12-30-337 0 40 59 26 30z" fill="#00ff68"/>
<path d="M1418 1957l23 2 31-3 62-14 31-11 30-14 31-21 32-27 30-32 19-27 12-24 14-35 9-30 5-29 1-30-3-29-14-59-12-31-14-29-17-26-31-35-31-24-31-18-61-28-31-8-31-4-31-2-30 1-31 3-31 7-92 36-31 15-35 24-22 30-5 15-9 44-22 66-14 52-1 30 5 29 10 30 31 66 15 22 27 30 20 18 31 22 39 19 53 16 62 13zM240 1928l0 5 78-35 45-15 154-36 31-11 31-14 31-19 20-23 10-16 68-131 8-30 5-29 10-119 0-29-3-30-4-29-13-59-9-31-13-28-17-30-32-25-74-34-33-30-51-59-22-29-16-30-7-29 0-89-8-29-22-30-13-10-31-18-31-8-31-3-61 2zM2425 1603l33 21 0-465-31 2-61 12-31 12-70 34-23 13-30 21-29 25-33 33-18 26-9 30 5 29 16 30 37 44 31 30 30 20 69 24 55 26zM1304 185l14 7 31 6 31-1 31-11 43-30 18-22 22-37 13-30-313 0 38 59 27 30 28 21z" fill="#00ff58"/>
<path d="M1315 1928l34 10 62 13 30 1 62-8 31-9 31-11 30-15 31-21 31-26 31-35 12-17 27-59 9-30 5-29 1-30-8-59-15-45-21-44-20-29-21-23-31-26-61-33-31-13-31-9-62-6-61 4-31 7-31 11-61 26-31 16-25 16-24 30-11 29-6 30-27 82-8 36-1 30 5 29 10 30 27 59 29 39 19 20 38 29 35 19zM240 1898l0 16 61-26 31-10 185-42 62-24 31-22 28-39 64-118 8-30 5-29 11-119 0-29-3-30-18-88-9-30-14-29-11-18-10-12-21-16-61-29-25-14-32-30-57-59-24-29-14-30-6-29 1-59-3-30-12-29-13-16-16-14-15-9-31-10-31-4-30 0-31 3zM2442 1603l16 10 0-446-31 2-61 12-31 12-55 26-38 21-48 38-29 30-22 29-9 30 5 29 17 30 25 31 31 32 30 21 93 37 62 31zM1326 185l23 5 31-2 31-12 29-20 26-30 17-29 13-30-290 0 17 30 21 29 29 30 14 11 31 16z" fill="#00ff48"/>
<path d="M1334 1928l46 11 31 5 30 2 31-3 31-6 31-8 31-12 30-15 31-21 31-27 14-15 22-29 26-54 11-35 5-29 1-30-2-29-6-30-9-30-12-29-16-30-34-44-16-15-15-11-61-35-33-13-29-8-31-5-31-2-30 1-31 4-41 10-82 34-45 25-17 16-10 14-12 29-17 60-11 29-9 30-5 29-1 30 5 29 10 30 28 59 21 29 29 30 34 25 30 16zM240 1869l0 23 92-30 124-22 30-7 31-8 42-15 20-10 31-23 30-47 39-68 15-29 8-23 6-36 13-119 0-29-3-30-11-59-18-59-18-34-22-25-9-7-30-17-31-14-36-21-98-89-23-29-13-30-5-29 0-59-5-30-5-10-13-19-18-16-31-15-31-4-30 0-31 3zM2406 1574l52 28 0-427-31 2-61 12-69 30-55 29-37 30-28 30-22 29-10 30 5 30 17 29 24 29 30 30 21 15 31 15 62 24zM1286 156l32 18 31 8 31-3 31-14 13-9 17-16 12-14 18-29 13-30-266 0 17 30 21 29z" fill="#00ff38"/>
<path d="M1356 1928l55 10 30 1 31-2 62-14 31-13 30-16 37-25 25-23 29-36 29-59 9-30 6-29 1-30-3-29-9-42-18-47-17-30-21-29-31-30-48-29-50-23-31-9-31-5-31-2-30 1-31 4-31 7-62 24-64 32-31 30-13 29-38 119-5 29 0 30 5 29 10 30 30 59 21 29 24 24 31 23 30 17 31 13zM240 1839l0 28 92-21 93-13 61-11 31-8 31-11 31-16 9-7 22-20 61-98 15-29 11-30 5-29 14-119 0-29-15-89-8-29-11-30-16-29-29-30-27-16-28-13-34-19-16-11-46-41-27-18-3-4-34-26-23-29-11-30-3-29-1-59-9-30-12-16-18-13-13-7-31-6-30 0-31 4zM2424 1574l34 18 0-409-31 2-30 5-31 8-62 26-31 15-31 18-25 21-29 30-22 29-10 30 5 29 17 30 34 39 30 25 62 29 62 26zM1303 156l15 8 31 9 31-4 28-13 32-30 19-29 14-30-242 0 16 30 22 29 18 18z" fill="#00ff28"/>
<path d="M1384 1928l57 4 31-2 31-5 31-9 31-13 30-16 31-21 31-28 22-28 30-59 10-30 5-29 1-30-2-29-4-21-11-38-30-60-21-27-35-32-57-33-31-13-31-9-31-5-31-1-30 0-31 4-31 7-31 11-83 39-34 30-6 9-10 20-39 119-5 29 0 30 5 29 11 30 14 29 17 30 22 29 16 17 17 13 14 10 30 17 31 14 31 11zM240 1810l0 27 185-17 63-10 29-8 31-12 31-17 31-30 69-110 10-30 6-29 16-119 0-29-4-30-13-59-8-29-11-30-18-29-17-18-16-12-14-9-62-32-27-18-35-28-30-19-24-12-41-30-20-29-7-30-3-88-21-30-8-6-31-9-30-1-31 5zM2443 1574l15 7 0-390-61 8-31 8-32 12-61 28-45 31-28 30-22 29-11 30 4 29 18 30 23 26 30 27 62 32 93 40zM1322 156l27 8 31-4 8-4 23-16 14-14 21-29 13-30-215 0 16 30 27 34z" fill="#00ff18"/>
<path d="M1306 1898l43 17 31 7 61 4 31-2 31-5 31-9 31-13 30-17 31-21 22-20 24-29 31-59 10-30 5-29 1-34-7-55-10-29-14-30-17-30-24-29-35-30-47-26-31-14-31-9-31-5-31-2-30 1-31 4-31 7-31 11-71 33-21 15-17 15-17 29-28 77-12 42-5 29 0 30 5 29 12 33 13 26 18 30 23 29 8 9 31 24zM240 1780l0 20 31 5 30 3 62 2 62-3 61-9 31-9 31-12 31-20 31-32 61-92 11-30 23-148 1-29-4-30-22-88-12-30-21-29-7-8-30-23-54-28-49-30-21-16-30-17-78-26-15-10-19-20-10-29-4-30-3-59-18-29-8-4-30-4-31 4zM2401 1544l57 27 0-371-61 8-31 8-62 25-31 15-31 20-31 32-21 29-12 30 5 29 19 30 10 12 30 29 31 20 62 29zM1299 126l19 15 31 13 31-7 31-21 21-29 14-30-189 0 17 30 13 17z" fill="#00ff08"/>
<path d="M1321 1898l28 11 31 7 31 3 61 0 31-6 31-9 31-14 30-17 45-34 25-29 23-40 20-49 5-29 1-30-2-29-6-30-10-29-14-30-17-30-25-29-39-30-36-20-31-14-31-9-31-5-31-2-61 4-31 8-31 11-59 27-41 30-20 29-33 89-8 30-5 29 0 30 6 29 11 30 32 59 24 29 32 26 30 18zM301 1780l31 7 31 4 31 3 31-1 61-8 31-9 31-13 31-21 31-34 33-46 18-29 14-30 13-89 12-59 1-29-28-118-13-30-20-27-30-25-31-18-37-18-56-35-30-13-31-6-31 1-31 11-15 12-18 30-26 29-20 30-12 29-9 30-12 59-9 88-2 49 0 237 6 10 25 16zM2422 1544l36 16 0-351-31 2-39 8-53 18-29 12-33 17-19 12-12 10-18 20-22 29-12 30 5 29 19 30 28 29 45 30zM1316 126l33 14 31-6 11-8 20-21 6-8 14-30-158 0 16 30z" fill="#08ff00"/>
<path d="M1337 1898l12 5 31 7 31 4 61-1 31-5 31-10 31-14 26-15 41-30 26-29 33-59 11-30 6-29 1-30-2-29-6-30-13-35-30-54-26-29-41-30-26-14-31-14-31-9-31-6-31-2-30 1-31 4-31 7-77 33-45 30-22 29-10 22-25 67-8 30-5 29 0 30 6 29 12 30 15 29 18 30 18 22 31 26 18 11 43 22zM310 1751l53 21 31 5 31 2 31-2 30-5 31-9 31-15 35-27 27-29 30-42 11-17 15-30 7-29 8-60 12-59 2-29-20-89-9-29-13-30-24-29-19-16-31-19-51-24-42-23-30-11-31 0-15 4-16 7-25 23-45 59-17 29-22 59-11 59-6 59-1 59 2 60-4 88 4 30 12 29zM2445 1544l13 6 0-333-31 3-30 6-31 9-38 14-55 26-31 26-6 7-22 29-11 30 5 29 20 30 14 15 17 14 46 30zM1349 126l31-10 18-19 13-21 3-9-125 0 19 30 10 11z" fill="#18ff00"/>
<path d="M1354 1898l26 6 31 4 61-1 31-5 31-10 61-32 31-23 25-27 19-30 18-36 8-23 7-29 1-30-2-29-7-30-10-29-15-30-19-30-27-29-44-30-46-22-31-10-31-5-31-2-61 4-31 8-64 27-28 16-20 14-11 10-14 19-17 36-20 53-8 30-4 29 1 36 5 23 12 30 34 59 27 29 15 12 30 18 31 16zM367 1751l27 8 31 4 31-1 30-4 31-9 31-16 31-24 31-34 31-42 15-30 8-29 22-119 2-29-12-59-17-59-14-30-5-7-30-30-31-20-93-43-30-6-31 5-22 13-28 29-22 30-21 34-12 25-11 29-18 89-4 59 14 182 6 25 17 29zM2396 1514l62 25 0-312-31 3-30 6-31 9-31 11-47 22-15 10-31 29-14 20-11 30 5 29 20 30 31 28 52 31zM1339 97l10 5 17-5 14-9 12-21-80 0 6 11z" fill="#28ff00"/>
<path d="M1378 1898l33 4 61-1 31-5 31-10 34-17 27-16 31-23 19-20 19-30 15-29 12-30 6-29 2-30-2-29-7-30-11-29-22-41-13-19-18-19-31-24-30-18-31-14-31-10-31-6-31-1-30 0-31 4-31 8-31 12-31 14-30 17-11 8-27 29-24 49-15 40-8 30-4 29 0 30 7 29 11 30 35 59 36 34 30 19 31 16 31 12zM364 1721l30 17 31 8 31 1 30-4 31-9 31-16 31-25 31-34 30-44 6-12 9-29 11-60 14-59 1-29-12-59-17-59-14-30-28-29-31-21-31-16-62-22-30-3-31 12-24 20-24 30-20 29-16 30-11 29-16 59-8 59 0 30 2 29 10 60 6 59 5 29 11 30zM2422 1514l36 14 0-291-31 3-42 9-77 29-35 23-7 7-24 29-10 30 6 29 21 30 14 13 31 23 31 17z" fill="#38ff00"/>
<path d="M1310 1869l39 17 31 7 61 4 31-2 31-5 31-10 61-33 31-25 12-12 19-28 17-31 11-30 7-29 2-30-2-29-8-30-11-29-16-32-19-28-32-29-49-30-54-21-31-5-31-2-30 1-31 3-31 8-31 12-31 15-30 18-32 30-16 30-14 32-10 27-8 30-4 29 1 30 6 29 12 30 16 29 20 30 29 27 30 20zM407 1721l18 6 31 4 30-3 31-8 31-17 31-26 38-44 19-30 10-29 11-60 16-59 1-29-5-30-24-88-15-30-20-21-31-22-31-16-31-11-31-7-30 3-31 17-31 35-16 22-18 30-14 29-21 89-4 29-1 30 4 29 14 60 8 59 8 29 15 30 25 22zM2452 1514l6 3 0-270-31 3-30 6-65 22-28 16-20 14-11 11-14 18-11 30 7 29 21 30 28 22 31 19 37 18z" fill="#48ff00"/>
<path d="M1323 1869l26 11 31 8 31 3 61-1 31-5 31-11 31-16 30-18 36-30 26-39 11-20 12-30 7-29 2-30-1-15-9-44-11-29-16-30-21-30-34-29-32-20-31-15-31-10-31-6-31-2-30 1-31 4-31 8-27 10-56 30-33 29-18 30-20 46-13 43-5 29 2 30 7 29 12 30 16 29 22 30 21 20 13 9zM399 1692l26 15 31 8 30-2 31-8 31-17 31-28 31-35 15-22 12-29 12-60 16-59 2-29-20-89-9-29-17-30-11-12-31-24-31-15-31-11-31-4-28 7-33 26-31 38-17 25-14 29-11 30-13 59-4 29-1 30 4 29 17 60 11 59 11 29zM2400 1485l58 19 0-246-31 3-30 6-31 9-62 32-28 29-10 30 7 31 23 28 39 29z" fill="#58ff00"/>
<path d="M1336 1869l44 13 31 3 30 1 31-2 31-5 31-11 31-16 30-19 29-23 22-30 16-29 12-30 7-29 3-30-3-29-8-30-11-29-16-30-22-30-37-29-53-29-31-10-31-6-31-2-30 0-31 4-44 13-59 30-20 14-16 15-15 21-31 68-8 30-5 29 2 30 8 29 12 30 16 29 23 30 14 13 30 21zM437 1692l19 6 30 0 31-8 31-17 31-29 31-36 18-34 12-56 17-63 2-29-5-30-14-59-10-29-17-30-34-28-31-16-31-10-31 0-30 14-31 30-31 39-17 30-11 30-15 59-5 29 0 30 4 29 20 60 14 59 15 29 26 25zM2433 1485l25 7 0-223-31 3-31 6-61 26-31 25-7 8-11 30 7 29 24 30 43 29z" fill="#68ff00"/>
<path d="M1350 1869l30 8 61 4 31-2 31-6 31-11 42-23 39-29 11-11 14-19 16-29 12-30 8-29 3-30-3-29-8-30-11-27-17-32-24-30-39-29-43-23-31-11-31-6-31-2-30 1-31 4-30 7-63 30-30 22-8 7-22 30-14 30-18 48-8 40 2 30 8 29 13 30 16 29 31 36 30 22 31 17zM422 1662l34 19 30 3 31-8 31-18 31-30 22-25 9-13 8-16 9-30 6-30 17-59 1-29-5-30-14-59-10-29-12-22-6-8-25-20-31-16-31-9-31 3-22 13-39 40-16 19-19 29-12 30-8 29-12 59-1 30 5 29 39 119zM2389 1455l38 15 31 9 0-198-31 3-30 8-40 16-37 29-13 30 7 29 21 25 31 22z" fill="#78ff00"/>
<path d="M1371 1869l40 6 61-2 31-5 31-12 31-16 42-30 19-20 7-10 17-29 7-17 13-42 3-30-3-29-8-30-12-29-16-30-27-30-40-29-33-17-37-13-25-4-31-2-30 0-31 4-31 8-50 24-43 29-22 30-16 30-21 59-5 29 3 31 8 28 13 30 17 29 25 30 29 21 31 18 31 14zM451 1662l35 7 31-7 31-19 31-29 31-44 32-115 1-29-5-30-14-59-14-38-17-21-14-11-31-18-31-7-31 7-34 29-28 30-21 29-13 30-9 29-8 30-5 29 0 30 4 29 10 30 13 30 8 29 14 30 8 10zM2425 1455l33 9 0-169-31 3-30 8-31 16-20 15-15 30 7 29 27 30 32 17z" fill="#87ff00"/>
<path d="M1408 1869l33 1 31-2 31-6 31-12 31-17 30-20 31-31 18-31 13-30 8-29 3-30-3-29-8-30-13-29-17-30-28-30-34-24-31-16-31-12-41-7-58 0-24 4-31 8-31 14-31 17-21 16-26 30-16 30-12 29-9 30-5 29 3 30 8 29 13 30 18 29 17 20 10 10 51 33 31 14 31 9zM435 1633l21 16 30 6 31-6 31-19 31-30 19-26 12-29 7-31 17-59 1-29-5-30-14-59-6-20-5-9-23-30-34-18-31-8-31 11-47 45-24 29-14 30-10 29-8 30-5 29-1 30 5 29 33 89 10 18zM2396 1426l31 13 31 9 0-139-31 4-30 12-21 12-18 30 7 29z" fill="#97ff00"/>
<path d="M1324 1839l25 12 31 9 31 4 61-2 31-6 31-12 31-17 25-17 30-30 18-29 12-30 9-29 4-30-6-37-19-51-18-30-30-30-46-29-41-17-31-6-61-2-31 4-31 9-31 14-31 18-12 9-28 30-21 39-17 50-5 29 3 30 8 29 13 30 19 29 29 30 42 27zM455 1633l31 9 31-6 31-19 15-14 25-29 13-30 25-89 1-29-5-30-14-59-14-29-15-20-14-10-17-8-31-5-31 13-32 30-26 29-17 30-18 59-6 29-1 30 5 29 22 60 14 29zM2446 1426l12 3 0-101-31 4-13 5-17 17-9 13 7 29 32 23z" fill="#a7ff00"/>
<path d="M1336 1839l13 6 31 9 31 4 61-2 31-6 31-12 31-18 30-22 17-18 19-29 13-30 9-29 4-33-4-26-9-30-18-39-14-20-31-30-47-28-31-12-31-6-31-3-30 1-31 4-31 9-14 6-51 29-27 26-20 34-11 24-11 35-5 29 3 30 8 29 14 30 22 33 30 27zM441 1603l15 16 30 10 31-5 31-19 30-31 15-30 17-56 8-33 1-29-5-30-4-20-12-39-14-29-5-6-31-22-31-3-31 16-30 27-15 17-16 24-15 35-14 59-1 30 5 29 10 30 12 30zM2449 1396l9 3 0-42-31 8-2 2 2 6z" fill="#b7ff00"/>
<path d="M1349 1839l31 10 61 4 31-2 31-7 31-13 31-17 40-34 20-29 13-30 9-29 4-30-4-29-9-30-13-29-20-30-34-30-37-21-31-13-31-7-31-2-30 1-31 4-31 9-31 15-31 20-25 24-5 7-14 23-13 29-10 30-4 29 3 30 7 23 16 36 19 29 26 24 31 19zM454 1603l32 15 31-5 31-20 18-19 13-19 24-70 7-30 1-29-5-30-8-29-10-30-9-18-31-25-31-3-31 16-33 30-21 30-13 29-14 59-1 30 4 29 17 46z" fill="#c7ff00"/>
<path d="M1368 1839l12 4 31 4 30 0 31-2 31-7 31-13 31-18 32-27 21-29 14-30 8-29 4-30-4-29-9-30-13-29-21-30-36-30-27-15-34-14-28-6-61-2-31 4-31 10-43 23-19 14-17 16-20 30-14 29-10 30-4 29 3 30 10 29 14 30 8 12 13 17 17 16 31 21 31 16zM480 1603l6 3 31-5 31-20 7-7 24-38 16-51 6-30 1-29-5-30-18-55-31-32-31-3-31 16-17 15-13 13-13 17-14 29-10 30-6 29-1 30 4 29 10 30 17 30 13 16z" fill="#d7ff00"/>
<path d="M1397 1839l44 3 32-3 30-7 45-22 17-11 23-19 7-8 15-21 15-30 9-29 4-30-4-29-9-30-15-29-22-30-23-19-31-19-31-14-29-7-33-3-30 1-31 4-31 11-31 15-31 23-31 38-13 29-10 30-5 29 4 30 10 29 13 30 32 37 31 22 31 16 31 11zM453 1574l33 20 31-4 31-21 17-25 14-30 14-59 0-29-5-30-9-29-20-30-11-10-31-5-31 14-30 29-17 31-11 30-6 29-2 30 4 29 12 30z" fill="#e7ff00"/>
<path d="M1330 1810l19 9 31 11 31 5 61-2 31-8 34-15 28-19 13-11 25-29 15-30 10-29 3-30-4-29-9-30-15-29-25-30-13-11-28-19-34-15-31-8-31-3-30 1-31 5-31 11-20 9-42 30-23 30-14 29-10 30-4 29 3 30 9 29 15 30 24 29zM471 1574l15 9 31-4 8-5 23-19 8-11 23-57 6-32-1-29-5-28-15-31-16-22-31-7-31 13-30 33-7 12-11 30-7 29-2 30 4 29 12 30 11 17z" fill="#f7ff00"/>
<path d="M1343 1810l37 14 31 4 30 1 31-2 31-8 31-15 31-21 31-32 14-30 10-29 4-30-4-29-10-30-14-29-31-33-31-21-31-15-31-7-31-3-30 1-31 4-31 11-31 18-31 25-15 20-16 29-9 30-4 29 3 30 9 29 17 30 15 19 31 25zM454 1544l32 27 31-4 31-27 12-26 10-29 6-30-1-29-10-30-17-30-31-12-31 12-26 30-13 30-7 29-2 30 5 29z" fill="#fff700"/>
<path d="M1359 1810l21 7 31 5 30 1 31-3 31-8 31-16 23-16 8-6 21-23 17-30 9-29 4-30-4-29-9-30-17-29-21-24-31-22-25-14-37-10-31-3-30 1-31 5-22 7-40 23-31 27-7 10-16 29-10 30-4 29 3 30 10 29 17 30 7 9 31 27 31 19zM471 1544l15 12 31-3 11-9 20-23 13-36 5-30-3-29-11-30-4-8-31-16-31 11-11 13-18 30-8 29-2 30 5 29 4 10z" fill="#ffe700"/>
<path d="M1377 1810l34 5 30 1 31-2 31-9 31-17 31-24 12-13 18-30 10-29 3-30-3-29-10-30-18-29-12-14-31-24-31-17-31-8-31-3-30 1-34 5-28 12-31 19-31 30-14 28-11 30-4 29 3 30 11 29 15 28 31 29 31 20zM466 1514l20 26 31-3 20-23 11-18 4-11 4-30-4-29-4-11-20-19-11-6-31 11-15 25-11 29-3 30z" fill="#ffd700"/>
<path d="M1334 1780l15 10 31 13 31 6 30 1 31-3 31-10 31-17 31-26 21-33 11-29 3-30-3-29-11-30-21-32-31-27-31-17-31-10-30-3-31 1-31 6-31 13-31 22-19 18-12 16-17 43-4 29 4 30 10 29 7 13 12 17zM482 1514l4 6 31-1 21-34 6-30-11-29-16-15-31 12-14 32-1 30z" fill="#ffc700"/>
<path d="M1347 1780l33 16 31 5 30 1 31-3 31-10 16-9 15-10 22-19 9-10 12-20 11-29 4-30-4-29-11-30-12-19-9-10-22-20-31-19-31-10-31-3-30 1-31 6-31 13-31 24-8 8-23 33-8 26-4 29 3 30 9 26 23 33zM485 1485l1 3 31 5 5-8 5-30-10-18-31 16z" fill="#ffb700"/>
<path d="M1363 1780l17 8 31 6 30 1 31-3 33-12 29-20 11-9 20-24 14-35 4-30-4-29-14-35-20-24-11-10-29-20-33-11-31-4-30 1-31 7-17 7-14 8-31 25-19 26-12 28-3 31 3 32 11 27 23 30 28 21z" fill="#ffa700"/>
<path d="M1381 1780l30 7 30 0 31-3 31-12 30-21 25-30 12-29 4-30-4-29-12-30-24-29-31-22-31-12-31-3-30 1-31 6-31 18-15 12-16 16-10 13-12 30-3 29 3 30 12 29 26 30 15 12z" fill="#ff9700"/>
<path d="M1346 1751l34 20 31 8 30 1 31-4 31-13 17-12 14-13 14-17 13-29 4-30-4-29-13-30-14-16-31-26-31-13-31-4-30 1-31 8-31 18-31 32-13 30-3 29 3 30 13 29z" fill="#ff8700"/>
<path d="M1360 1751l20 12 31 8 30 1 31-4 35-17 27-26 18-33 4-30-4-29-18-34-31-28-31-15-31-4-30 1-31 8-31 21-20 21-11 21-4 9-3 29 3 30 15 29z" fill="#ff7800"/>
<path d="M1374 1751l37 13 30 1 31-5 19-9 12-8 24-22 16-29 4-30-4-29-16-30-24-22-31-17-31-5-30 2-31 9-31 24-9 9-16 30-4 29 4 30 16 29 9 10z" fill="#ff6800"/>
<path d="M1395 1751l16 5 30 1 34-6 28-18 12-12 19-29 4-30-4-29-19-30-12-12-31-19-31-5-30 2-31 10-29 24-18 30-5 29 5 30 18 29 29 24z" fill="#ff5800"/>
<path d="M1363 1721l17 14 31 12 30 2 31-6 31-21 21-30 5-30-5-29-20-30-32-21-31-7-30 2-31 12-17 14-20 30-6 29 6 30 6 11z" fill="#ff4800"/>
<path d="M1375 1721l5 4 31 13 30 2 31-7 18-12 13-14 10-15 7-30-7-29-10-16-13-14-18-12-31-7-30 2-31 13-5 4-22 30-7 29 7 30z" fill="#ff3800"/>
<path d="M1392 1721l19 8 30 2 31-7 31-32 7-30-7-30-27-29-35-10-30 2-18 8-13 10-15 20-8 29 8 30 15 20z" fill="#ff2800"/>
<path d="M1431 1721l10 1 31-13 16-17 10-30-10-29-16-17-31-14-30 4-31 23-3 4-8 29 8 30 3 4 31 23z" fill="#ff1800"/>
<path d="M1399 1692l12 8 30 3 31-11 8-30-8-29-31-11-30 2-12 9-15 29z" fill="#ff0800"/>
<path d="M418 2194l19-30 19-23 30-29 31-20 62-32 31-19 33-24 30-30 29-42 62-125 28-69 33-99 9-19 10-30 5-29 0-60-10-59-8-118-6-29-24-89-29-59-39-59-6-30 2-29 10-30 35-59 15-29 22-59 7-30 3-29 1-30-2-29-7-30-11-30-8-13-14-16-16-13-31-15-31-8-31-5-31-2-92-1-62 2-61-4-63-13-30-9-52-21-40-22M1573 2194l-19-30-8-29 17-30 39-29 50-30 67-25 31-9 30-6 31 3 48 37 84 59 35 30 27 29 21 30M2458 1014l-31 13-61 12-31 8-31 15-64 39-59 16-62 26-23 17-69 43-22 16-30 30-20 29-11 30-6 29-16 118 1 30 11 28 28 31 65 33 31 23 33 33 27 29 1 3 31 23 31-12 23-14 8-2 32 2 39 30 27 29 18 30 13 29 6 30 0 29-5 30-7 19-31 33-31 6-31-10-30-29-14-19-17-30-13-29-10-30-8-14-31 4-12 10-80 44-31 11-21 4-41 16-17-16-10-59-7-29-21-59-6-30-2-29 1-30 5-59-6-30-13-29-16-15-9-15-22-26-19-33-14-29-28-41-31-29-62-50-31-21-31-18-61-29-31-11-92-27-31-12-45-28-27-30-21-17-30-8-31 2-31 10-21 13-10 9-18 21-13 28-4 31-12 148-7 29-22 59-9 30-3 29 5 30 0 29-9 24-49 65-16 30-9 29-1 30 4 29 38 148 18 88 14 30 32 15 61 5 62 10 31 11 35 18 33 30 11 29-16 30-33 30-40 29M1658 983l61 20 31 5 30-6 30-19 32-28 31-18 92-30 62-25 31-18 30-22 41-36 27-30 19-29 12-30 1-30-2-29 7-59 1-30-3-29-10-30-20-29-36-30-67-45-31-16-69-27-24-13-25-17-5-13-21-16-10-19-5 19-11 29-15 17-6 13-105 147-34 59-9 23-20 36-11 14-19 16-12 8-31 10-30-1-93-24-31-4-30 0-31 3-31 7-31 15-19 15-12 13-11 17-14 30-5 15-4 14-4 30 3 29 5 13 8 17 22 34 22 25 9 15 31 30 31 9 31 1 92-11 62-4 30 2 31 7 32 10M758 67l41 30 33 29 24 25 27 34 19 30 46 89 31 4 62-22 31-2 31 7 30 13 31 17 62 29 31 9 30 6 31 2 62-2 61-11 31-10 31-15 31-23 31-28 25-34 17-29 19-43 31-40 31-24 31-20 41-21M240 2123l87-77 36-29 31-19 31-15 92-29 31-12 31-15 31-21 30-28 52-68 18-30 23-48 45-129 6-29 3-60-6-88 0-30-5-59-4-29-15-59-12-30-17-29-26-35-49-54-20-30-13-29-5-30 1-29 6-30 19-59 7-29 2-30-3-29-15-30-22-17-31-13-62-14-176-45-101-21M1398 2017l43 3 31 0 30-3 32-7 31-11 61-32 31-17 31-21 31-31 19-29 16-30 20-29 17-30 11-29 5-30 1-29-8-89-5-29-8-30-11-30-14-29-12-22-31-48-16-19-15-14-31-22-62-34-61-24-31-7-31-4-61-2-31 3-31 5-31 9-31 12-30 16-31 13-31 16-31 22-31 34-17 36 0 59-6 30-7 19-21 40-13 30-9 29-2 30 4 29 8 30 11 29 52 103 10 15 21 25 31 22 62 29 92 33 31 8 18 2M2458 1085l-92 13-31 12-93 49-74 31-51 29-62 59-23 30-14 29-7 30 3 29 12 30 21 29 72 85 31 30 31 15 123 39 31 16 31 22 31 27 31 32 30 36M1876 717l28 12 30 0 31-10 31-25 25-36 12-30 7-29 2-30-4-29-12-30-30-31-31-11-31 3-30 16-23 23-19 30-13 29-7 29 0 43 2 17 10 29 22 30M1030 67l79 59 24 21 36 38 33 30 55 36 30 12 31 7 31 6 31 1 31-2 30-7 31-11 31-17 31-25 31-55 14-34 16-32 17-27M240 1968l61-32 62-26 36-12 87-21 62-20 31-14 31-19 16-14 23-30 53-105 18-42 9-30 5-29 5-60 2-59-2-59-6-43-9-45-9-30-13-34-14-25-17-22-31-20-42-17-19-10-23-20-23-29-40-59-15-30-9-29 0-30 4-29 1-30-5-29-15-30-29-26-31-18-34-15-28-5-61-4-31 0M1354 1957l26 7 31 5 30 2 31-3 62-14 31-10 36-16 56-42 31-31 31-43 15-32 16-44 4-15 4-29 1-30-3-29-6-33-7-26-24-59-31-47-31-32-31-22-31-18-30-15-31-11-31-8-31-5-31-2-30 1-31 4-31 7-62 22-61 27-18 10-13 8-23 21-8 11-8 19-10 59-9 30-22 59-8 29 0 30 5 29 9 30 12 30 14 29 17 29 31 37 31 27 39 25 22 9 67 20M2458 1144l-61 6-40 10-22 9-99 50-44 30-34 29-30 30-19 29-8 30 5 29 16 30 49 59 30 29 11 8 30 16 62 19 31 14 59 32 64 42M1169 67l41 59 25 30 22 18 30 21 31 13 31 6 31-1 31-8 30-15 31-24 9-10 22-33 26-56M1321 1898l28 11 31 7 31 3 61 0 31-6 31-9 31-14 30-17 45-34 25-29 23-40 20-49 5-29 1-30-2-29-6-30-10-29-14-30-17-30-25-29-39-30-36-20-31-14-31-9-31-5-31-2-61 4-31 8-31 11-59 27-41 30-20 29-33 89-8 30-5 29 0 30 6 29 11 30 32 59 24 29 32 26 30 18 34 15M240 1741l6 10 25 16 30 13 31 7 62 7 62-4 30-5 31-9 31-13 18-12 13-9 31-34 33-46 18-29 14-30 13-89 12-59 1-29-20-89-10-35-11-24-22-29-39-30-57-29-56-35-30-13-31-6-31 1-31 11-15 12-18 30-26 29-20 30-12 29-16 59-12 89-4 78M2458 1209l-31 2-39 8-53 18-29 12-33 17-19 12-12 10-18 20-22 29-12 30 5 29 19 30 28 29 45 30 171 75M1273 67l16 30 29 31 31 12 31-6 11-8 26-29 14-30M1371 1869l40 6 61-2 31-5 31-12 31-16 42-30 19-20 7-10 17-29 7-17 13-42 3-30-3-29-8-30-12-29-16-30-27-30-40-29-33-17-37-13-25-4-31-2-30 0-31 4-31 8-50 24-43 29-22 30-16 30-21 59-5 29 3 31 8 28 13 30 17 29 25 30 29 21 31 18 31 14 22 6M451 1662l35 7 31-7 31-19 31-29 31-44 32-115 1-29-5-30-14-59-14-38-17-21-14-11-31-18-31-7-31 7-34 29-28 30-21 29-13 30-9 29-8 30-5 29 0 30 4 29 10 30 13 30 8 29 14 30 8 10 26 19M2458 1295l-31 3-30 8-31 16-20 15-15 30 7 29 27 30 32 17 30 13 31 8M1343 1810l37 14 31 4 30 1 31-2 31-8 31-15 31-21 31-32 14-30 10-29 4-30-4-29-10-30-14-29-31-33-31-21-31-15-31-7-31-3-30 1-31 4-31 11-31 18-31 25-15 20-16 29-9 30-4 29 3 30 9 29 17 30 15 19 31 25 25 15M454 1544l32 27 31-4 31-27 12-26 10-29 6-30-1-29-10-30-17-30-31-12-31 12-26 30-13 30-7 29-2 30 5 29 11 30M1360 1751l20 12 31 8 30 1 31-4 35-17 27-26 18-33 4-30-4-29-18-34-31-28-31-15-31-4-30 1-31 8-31 21-20 21-11 21-4 9-3 29 3 30 15 29 31 30" fill="none" stroke="#1a1a3a" stroke-opacity="0.75" stroke-width="4.5" stroke-dasharray="30 8 8 8"/>
</g>
</g></g>
<path d="M31.2 13.6H238.6V212.5H31.2ZM29.90 113.00a105.28 100.88 0 1 0 210.60 0a105.28 100.88 0 1 0 -210.60 0Z" fill="#fff" fill-rule="evenodd"/>
</g>
<rect x="32.2" y="14.6" width="205.4" height="196.9" fill="none" stroke="#585858" stroke-width="1.2"/>
<path d="M32.2 211.5v2.3M32.2 211.5h-2.3M52.7 211.5v3.6M32.2 191.8h-3.6M73.3 211.5v2.3M32.2 172.1h-2.3M93.8 211.5v3.6M32.2 152.4h-3.6M114.4 211.5v2.3M32.2 132.7h-2.3M134.9 211.5v3.6M32.2 113.0h-3.6M155.4 211.5v2.3M32.2 93.4h-2.3M176.0 211.5v3.6M32.2 73.7h-3.6M196.5 211.5v2.3M32.2 54.0h-2.3M217.1 211.5v3.6M32.2 34.3h-3.6M237.6 211.5v2.3M32.2 14.6h-2.3" stroke="#505050" stroke-width="1" fill="none"/>
<text x="52.7" y="225.3" font-size="8.3" text-anchor="middle" fill="#181818">-40</text>
<text x="25.8" y="194.8" font-size="8.3" text-anchor="end" fill="#181818">-40</text>
<text x="93.8" y="225.3" font-size="8.3" text-anchor="middle" fill="#181818">-20</text>
<text x="25.8" y="155.4" font-size="8.3" text-anchor="end" fill="#181818">-20</text>
<text x="134.9" y="225.3" font-size="8.3" text-anchor="middle" fill="#181818">0</text>
<text x="25.8" y="116.0" font-size="8.3" text-anchor="end" fill="#181818">0</text>
<text x="176.0" y="225.3" font-size="8.3" text-anchor="middle" fill="#181818">20</text>
<text x="25.8" y="76.7" font-size="8.3" text-anchor="end" fill="#181818">20</text>
<text x="217.1" y="225.3" font-size="8.3" text-anchor="middle" fill="#181818">40</text>
<text x="25.8" y="37.3" font-size="8.3" text-anchor="end" fill="#181818">40</text>
<text x="134.9" y="240.7" font-size="10.4" text-anchor="middle" fill="#181818">X Range (mm)</text>
<text transform="translate(9.0 113.0) rotate(-90)" font-size="10.4" text-anchor="middle" fill="#181818">Y Range (mm)</text>
<rect x="270.4" y="14.3" width="16.5" height="4.6" fill="#808080"/>
<rect x="270.4" y="204.65" width="16.5" height="3.25" fill="#0008ff"/>
<rect x="270.4" y="201.69" width="16.5" height="3.25" fill="#0018ff"/>
<rect x="270.4" y="198.74" width="16.5" height="3.25" fill="#0028ff"/>
<rect x="270.4" y="195.79" width="16.5" height="3.25" fill="#0038ff"/>
<rect x="270.4" y="192.83" width="16.5" height="3.25" fill="#0048ff"/>
<rect x="270.4" y="189.88" width="16.5" height="3.25" fill="#0058ff"/>
<rect x="270.4" y="186.93" width="16.5" height="3.25" fill="#0068ff"/>
<rect x="270.4" y="183.97" width="16.5" height="3.25" fill="#0078ff"/>
<rect x="270.4" y="181.02" width="16.5" height="3.25" fill="#0087ff"/>
<rect x="270.4" y="178.07" width="16.5" height="3.25" fill="#0097ff"/>
<rect x="270.4" y="175.12" width="16.5" height="3.25" fill="#00a7ff"/>
<rect x="270.4" y="172.16" width="16.5" height="3.25" fill="#00b7ff"/>
<rect x="270.4" y="169.21" width="16.5" height="3.25" fill="#00c7ff"/>
<rect x="270.4" y="166.26" width="16.5" height="3.25" fill="#00d7ff"/>
<rect x="270.4" y="163.30" width="16.5" height="3.25" fill="#00e7ff"/>
<rect x="270.4" y="160.35" width="16.5" height="3.25" fill="#00f7ff"/>
<rect x="270.4" y="157.40" width="16.5" height="3.25" fill="#00fff7"/>
<rect x="270.4" y="154.44" width="16.5" height="3.25" fill="#00ffe7"/>
<rect x="270.4" y="151.49" width="16.5" height="3.25" fill="#00ffd7"/>
<rect x="270.4" y="148.54" width="16.5" height="3.25" fill="#00ffc7"/>
<rect x="270.4" y="145.58" width="16.5" height="3.25" fill="#00ffb7"/>
<rect x="270.4" y="142.63" width="16.5" height="3.25" fill="#00ffa7"/>
<rect x="270.4" y="139.68" width="16.5" height="3.25" fill="#00ff97"/>
<rect x="270.4" y="136.72" width="16.5" height="3.25" fill="#00ff87"/>
<rect x="270.4" y="133.77" width="16.5" height="3.25" fill="#00ff78"/>
<rect x="270.4" y="130.82" width="16.5" height="3.25" fill="#00ff68"/>
<rect x="270.4" y="127.87" width="16.5" height="3.25" fill="#00ff58"/>
<rect x="270.4" y="124.91" width="16.5" height="3.25" fill="#00ff48"/>
<rect x="270.4" y="121.96" width="16.5" height="3.25" fill="#00ff38"/>
<rect x="270.4" y="119.01" width="16.5" height="3.25" fill="#00ff28"/>
<rect x="270.4" y="116.05" width="16.5" height="3.25" fill="#00ff18"/>
<rect x="270.4" y="113.10" width="16.5" height="3.25" fill="#00ff08"/>
<rect x="270.4" y="110.15" width="16.5" height="3.25" fill="#08ff00"/>
<rect x="270.4" y="107.19" width="16.5" height="3.25" fill="#18ff00"/>
<rect x="270.4" y="104.24" width="16.5" height="3.25" fill="#28ff00"/>
<rect x="270.4" y="101.29" width="16.5" height="3.25" fill="#38ff00"/>
<rect x="270.4" y="98.33" width="16.5" height="3.25" fill="#48ff00"/>
<rect x="270.4" y="95.38" width="16.5" height="3.25" fill="#58ff00"/>
<rect x="270.4" y="92.43" width="16.5" height="3.25" fill="#68ff00"/>
<rect x="270.4" y="89.47" width="16.5" height="3.25" fill="#78ff00"/>
<rect x="270.4" y="86.52" width="16.5" height="3.25" fill="#87ff00"/>
<rect x="270.4" y="83.57" width="16.5" height="3.25" fill="#97ff00"/>
<rect x="270.4" y="80.62" width="16.5" height="3.25" fill="#a7ff00"/>
<rect x="270.4" y="77.66" width="16.5" height="3.25" fill="#b7ff00"/>
<rect x="270.4" y="74.71" width="16.5" height="3.25" fill="#c7ff00"/>
<rect x="270.4" y="71.76" width="16.5" height="3.25" fill="#d7ff00"/>
<rect x="270.4" y="68.80" width="16.5" height="3.25" fill="#e7ff00"/>
<rect x="270.4" y="65.85" width="16.5" height="3.25" fill="#f7ff00"/>
<rect x="270.4" y="62.90" width="16.5" height="3.25" fill="#fff700"/>
<rect x="270.4" y="59.94" width="16.5" height="3.25" fill="#ffe700"/>
<rect x="270.4" y="56.99" width="16.5" height="3.25" fill="#ffd700"/>
<rect x="270.4" y="54.04" width="16.5" height="3.25" fill="#ffc700"/>
<rect x="270.4" y="51.08" width="16.5" height="3.25" fill="#ffb700"/>
<rect x="270.4" y="48.13" width="16.5" height="3.25" fill="#ffa700"/>
<rect x="270.4" y="45.18" width="16.5" height="3.25" fill="#ff9700"/>
<rect x="270.4" y="42.22" width="16.5" height="3.25" fill="#ff8700"/>
<rect x="270.4" y="39.27" width="16.5" height="3.25" fill="#ff7800"/>
<rect x="270.4" y="36.32" width="16.5" height="3.25" fill="#ff6800"/>
<rect x="270.4" y="33.37" width="16.5" height="3.25" fill="#ff5800"/>
<rect x="270.4" y="30.41" width="16.5" height="3.25" fill="#ff4800"/>
<rect x="270.4" y="27.46" width="16.5" height="3.25" fill="#ff3800"/>
<rect x="270.4" y="24.51" width="16.5" height="3.25" fill="#ff2800"/>
<rect x="270.4" y="21.55" width="16.5" height="3.25" fill="#ff1800"/>
<rect x="270.4" y="18.60" width="16.5" height="3.25" fill="#ff0800"/>
<rect x="270.4" y="207.6" width="16.5" height="3.8" fill="#000"/>
<line x1="286.9" y1="207.6" x2="290.5" y2="207.6" stroke="#333" stroke-width="0.8"/>
<text x="293.6" y="209.9" font-size="6.5" fill="#151515">5.000E-10</text>
<line x1="286.9" y1="184.0" x2="290.5" y2="184.0" stroke="#333" stroke-width="0.8"/>
<text x="293.6" y="186.3" font-size="6.5" fill="#151515">1.800E-08</text>
<line x1="286.9" y1="160.3" x2="290.5" y2="160.3" stroke="#333" stroke-width="0.8"/>
<text x="293.6" y="162.7" font-size="6.5" fill="#151515">3.550E-08</text>
<line x1="286.9" y1="136.7" x2="290.5" y2="136.7" stroke="#333" stroke-width="0.8"/>
<text x="293.6" y="139.1" font-size="6.5" fill="#151515">5.300E-08</text>
<line x1="286.9" y1="113.1" x2="290.5" y2="113.1" stroke="#333" stroke-width="0.8"/>
<text x="293.6" y="115.4" font-size="6.5" fill="#151515">7.050E-08</text>
<line x1="286.9" y1="89.5" x2="290.5" y2="89.5" stroke="#333" stroke-width="0.8"/>
<text x="293.6" y="91.8" font-size="6.5" fill="#151515">8.800E-08</text>
<line x1="286.9" y1="65.8" x2="290.5" y2="65.8" stroke="#333" stroke-width="0.8"/>
<text x="293.6" y="68.2" font-size="6.5" fill="#151515">1.055E-07</text>
<line x1="286.9" y1="42.2" x2="290.5" y2="42.2" stroke="#333" stroke-width="0.8"/>
<text x="293.6" y="44.6" font-size="6.5" fill="#151515">1.230E-07</text>
<line x1="286.9" y1="18.6" x2="290.5" y2="18.6" stroke="#333" stroke-width="0.8"/>
<text x="293.6" y="20.9" font-size="6.5" fill="#151515">1.405E-07</text>
<text x="278.8" y="8.0" font-size="10.4" text-anchor="middle" fill="#222">C</text>
<use href="#tf0" x="359"/>
<rect x="391.2" y="14.6" width="205.4" height="196.9" fill="none" stroke="#585858" stroke-width="1.2"/>
<path d="M391.2 211.5v2.3M391.2 211.5h-2.3M411.7 211.5v3.6M391.2 191.8h-3.6M432.3 211.5v2.3M391.2 172.1h-2.3M452.8 211.5v3.6M391.2 152.4h-3.6M473.4 211.5v2.3M391.2 132.7h-2.3M493.9 211.5v3.6M391.2 113.0h-3.6M514.4 211.5v2.3M391.2 93.4h-2.3M535.0 211.5v3.6M391.2 73.7h-3.6M555.5 211.5v2.3M391.2 54.0h-2.3M576.1 211.5v3.6M391.2 34.3h-3.6M596.6 211.5v2.3M391.2 14.6h-2.3" stroke="#505050" stroke-width="1" fill="none"/>
<text x="411.7" y="225.3" font-size="8.3" text-anchor="middle" fill="#181818">-40</text>
<text x="384.8" y="194.8" font-size="8.3" text-anchor="end" fill="#181818">-40</text>
<text x="452.8" y="225.3" font-size="8.3" text-anchor="middle" fill="#181818">-20</text>
<text x="384.8" y="155.4" font-size="8.3" text-anchor="end" fill="#181818">-20</text>
<text x="493.9" y="225.3" font-size="8.3" text-anchor="middle" fill="#181818">0</text>
<text x="384.8" y="116.0" font-size="8.3" text-anchor="end" fill="#181818">0</text>
<text x="535.0" y="225.3" font-size="8.3" text-anchor="middle" fill="#181818">20</text>
<text x="384.8" y="76.7" font-size="8.3" text-anchor="end" fill="#181818">20</text>
<text x="576.1" y="225.3" font-size="8.3" text-anchor="middle" fill="#181818">40</text>
<text x="384.8" y="37.3" font-size="8.3" text-anchor="end" fill="#181818">40</text>
<text x="493.9" y="240.7" font-size="10.4" text-anchor="middle" fill="#181818">X Range (mm)</text>
<text transform="translate(368.0 113.0) rotate(-90)" font-size="10.4" text-anchor="middle" fill="#181818">Y Range (mm)</text>
<rect x="629.4" y="14.3" width="16.5" height="4.6" fill="#808080"/>
<rect x="629.4" y="204.65" width="16.5" height="3.25" fill="#0008ff"/>
<rect x="629.4" y="201.69" width="16.5" height="3.25" fill="#0018ff"/>
<rect x="629.4" y="198.74" width="16.5" height="3.25" fill="#0028ff"/>
<rect x="629.4" y="195.79" width="16.5" height="3.25" fill="#0038ff"/>
<rect x="629.4" y="192.83" width="16.5" height="3.25" fill="#0048ff"/>
<rect x="629.4" y="189.88" width="16.5" height="3.25" fill="#0058ff"/>
<rect x="629.4" y="186.93" width="16.5" height="3.25" fill="#0068ff"/>
<rect x="629.4" y="183.97" width="16.5" height="3.25" fill="#0078ff"/>
<rect x="629.4" y="181.02" width="16.5" height="3.25" fill="#0087ff"/>
<rect x="629.4" y="178.07" width="16.5" height="3.25" fill="#0097ff"/>
<rect x="629.4" y="175.12" width="16.5" height="3.25" fill="#00a7ff"/>
<rect x="629.4" y="172.16" width="16.5" height="3.25" fill="#00b7ff"/>
<rect x="629.4" y="169.21" width="16.5" height="3.25" fill="#00c7ff"/>
<rect x="629.4" y="166.26" width="16.5" height="3.25" fill="#00d7ff"/>
<rect x="629.4" y="163.30" width="16.5" height="3.25" fill="#00e7ff"/>
<rect x="629.4" y="160.35" width="16.5" height="3.25" fill="#00f7ff"/>
<rect x="629.4" y="157.40" width="16.5" height="3.25" fill="#00fff7"/>
<rect x="629.4" y="154.44" width="16.5" height="3.25" fill="#00ffe7"/>
<rect x="629.4" y="151.49" width="16.5" height="3.25" fill="#00ffd7"/>
<rect x="629.4" y="148.54" width="16.5" height="3.25" fill="#00ffc7"/>
<rect x="629.4" y="145.58" width="16.5" height="3.25" fill="#00ffb7"/>
<rect x="629.4" y="142.63" width="16.5" height="3.25" fill="#00ffa7"/>
<rect x="629.4" y="139.68" width="16.5" height="3.25" fill="#00ff97"/>
<rect x="629.4" y="136.72" width="16.5" height="3.25" fill="#00ff87"/>
<rect x="629.4" y="133.77" width="16.5" height="3.25" fill="#00ff78"/>
<rect x="629.4" y="130.82" width="16.5" height="3.25" fill="#00ff68"/>
<rect x="629.4" y="127.87" width="16.5" height="3.25" fill="#00ff58"/>
<rect x="629.4" y="124.91" width="16.5" height="3.25" fill="#00ff48"/>
<rect x="629.4" y="121.96" width="16.5" height="3.25" fill="#00ff38"/>
<rect x="629.4" y="119.01" width="16.5" height="3.25" fill="#00ff28"/>
<rect x="629.4" y="116.05" width="16.5" height="3.25" fill="#00ff18"/>
<rect x="629.4" y="113.10" width="16.5" height="3.25" fill="#00ff08"/>
<rect x="629.4" y="110.15" width="16.5" height="3.25" fill="#08ff00"/>
<rect x="629.4" y="107.19" width="16.5" height="3.25" fill="#18ff00"/>
<rect x="629.4" y="104.24" width="16.5" height="3.25" fill="#28ff00"/>
<rect x="629.4" y="101.29" width="16.5" height="3.25" fill="#38ff00"/>
<rect x="629.4" y="98.33" width="16.5" height="3.25" fill="#48ff00"/>
<rect x="629.4" y="95.38" width="16.5" height="3.25" fill="#58ff00"/>
<rect x="629.4" y="92.43" width="16.5" height="3.25" fill="#68ff00"/>
<rect x="629.4" y="89.47" width="16.5" height="3.25" fill="#78ff00"/>
<rect x="629.4" y="86.52" width="16.5" height="3.25" fill="#87ff00"/>
<rect x="629.4" y="83.57" width="16.5" height="3.25" fill="#97ff00"/>
<rect x="629.4" y="80.62" width="16.5" height="3.25" fill="#a7ff00"/>
<rect x="629.4" y="77.66" width="16.5" height="3.25" fill="#b7ff00"/>
<rect x="629.4" y="74.71" width="16.5" height="3.25" fill="#c7ff00"/>
<rect x="629.4" y="71.76" width="16.5" height="3.25" fill="#d7ff00"/>
<rect x="629.4" y="68.80" width="16.5" height="3.25" fill="#e7ff00"/>
<rect x="629.4" y="65.85" width="16.5" height="3.25" fill="#f7ff00"/>
<rect x="629.4" y="62.90" width="16.5" height="3.25" fill="#fff700"/>
<rect x="629.4" y="59.94" width="16.5" height="3.25" fill="#ffe700"/>
<rect x="629.4" y="56.99" width="16.5" height="3.25" fill="#ffd700"/>
<rect x="629.4" y="54.04" width="16.5" height="3.25" fill="#ffc700"/>
<rect x="629.4" y="51.08" width="16.5" height="3.25" fill="#ffb700"/>
<rect x="629.4" y="48.13" width="16.5" height="3.25" fill="#ffa700"/>
<rect x="629.4" y="45.18" width="16.5" height="3.25" fill="#ff9700"/>
<rect x="629.4" y="42.22" width="16.5" height="3.25" fill="#ff8700"/>
<rect x="629.4" y="39.27" width="16.5" height="3.25" fill="#ff7800"/>
<rect x="629.4" y="36.32" width="16.5" height="3.25" fill="#ff6800"/>
<rect x="629.4" y="33.37" width="16.5" height="3.25" fill="#ff5800"/>
<rect x="629.4" y="30.41" width="16.5" height="3.25" fill="#ff4800"/>
<rect x="629.4" y="27.46" width="16.5" height="3.25" fill="#ff3800"/>
<rect x="629.4" y="24.51" width="16.5" height="3.25" fill="#ff2800"/>
<rect x="629.4" y="21.55" width="16.5" height="3.25" fill="#ff1800"/>
<rect x="629.4" y="18.60" width="16.5" height="3.25" fill="#ff0800"/>
<rect x="629.4" y="207.6" width="16.5" height="3.8" fill="#000"/>
<line x1="645.9" y1="207.6" x2="649.5" y2="207.6" stroke="#333" stroke-width="0.8"/>
<text x="652.6" y="209.9" font-size="6.5" fill="#151515">5.000E-10</text>
<line x1="645.9" y1="184.0" x2="649.5" y2="184.0" stroke="#333" stroke-width="0.8"/>
<text x="652.6" y="186.3" font-size="6.5" fill="#151515">1.800E-08</text>
<line x1="645.9" y1="160.3" x2="649.5" y2="160.3" stroke="#333" stroke-width="0.8"/>
<text x="652.6" y="162.7" font-size="6.5" fill="#151515">3.550E-08</text>
<line x1="645.9" y1="136.7" x2="649.5" y2="136.7" stroke="#333" stroke-width="0.8"/>
<text x="652.6" y="139.1" font-size="6.5" fill="#151515">5.300E-08</text>
<line x1="645.9" y1="113.1" x2="649.5" y2="113.1" stroke="#333" stroke-width="0.8"/>
<text x="652.6" y="115.4" font-size="6.5" fill="#151515">7.050E-08</text>
<line x1="645.9" y1="89.5" x2="649.5" y2="89.5" stroke="#333" stroke-width="0.8"/>
<text x="652.6" y="91.8" font-size="6.5" fill="#151515">8.800E-08</text>
<line x1="645.9" y1="65.8" x2="649.5" y2="65.8" stroke="#333" stroke-width="0.8"/>
<text x="652.6" y="68.2" font-size="6.5" fill="#151515">1.055E-07</text>
<line x1="645.9" y1="42.2" x2="649.5" y2="42.2" stroke="#333" stroke-width="0.8"/>
<text x="652.6" y="44.6" font-size="6.5" fill="#151515">1.230E-07</text>
<line x1="645.9" y1="18.6" x2="649.5" y2="18.6" stroke="#333" stroke-width="0.8"/>
<text x="652.6" y="20.9" font-size="6.5" fill="#151515">1.405E-07</text>
<text x="637.8" y="8.0" font-size="10.4" text-anchor="middle" fill="#222">C</text>
<clipPath id="cb0"><polygon points="238.6,354.6 228.8,333.9 192.9,300.4 170.8,290.1 100.8,290.1 78.7,300.4 42.8,333.9 33.0,354.6 33.0,422.5 42.8,443.2 78.7,476.7 100.8,487.0 170.8,487.0 192.9,476.7 228.8,443.2 238.6,422.5"/></clipPath>
<g transform="rotate(-0.44 135.8 388.6)">
<clipPath id="cb0r"><rect x="33" y="290.1" width="205.6" height="196.9"/></clipPath>
<g clip-path="url(#cb0r)">
<rect x="33" y="290.1" width="205.6" height="196.9" fill="#0008ff"/>
<g transform="scale(.1)">
<path d="M216 4979l2284 0 0-2187-2284 0zM1358 3346l-2-7 2-22 21 22z" fill="#0018ff"/>
<path d="M216 4979l2284 0 0-2187-2284 0zM558 3668l0-3 2 2zM1472 3497l-13-22-23-27-8-27-13-17-18-11-39-9-13-45-3-55-5-27-8-13-28-9-57-4-2-2 2-58 67-24 47-23 6 78 13 27 38 44 57 54 17 66 13 28 21 27zM1586 4877l-2-7 2-2 4 2zM2043 4111l-2-7 2-62 32 8 83 3 38 24 47 20 22 7-50 11-57 9-86-8z" fill="#0028ff"/>
<path d="M216 4979l2284 0 0-2187-2284 0zM558 3690l-23-23 23-30 5 2 33 28zM1472 3564l-15-34-13-23-25-32-32-30-29-22-15-57-10-27-4-28-9-27-19-23-29-12-28-6-11-14-3-55-4-27-8-27 26-26 114 7 14 19 5 27 8 27 17 28 13 10 29 12 20 5 8 9 9 46 8 27 14 28 10 27 16 30 29 31 28 19 6 2-6 3-82 79zM1586 4920l-11-23-10-27 21-18 24 18-11 27zM2043 4151l-14-47-8-109 22-77 17 22 35 28 34 15 29 10 28 25 29 20 28 17 29 13 28 19 31 17-2 3-29 19-28 10-114 12zM2043 3451l-25-3 25-3 115 0 26 3-26 5z" fill="#0038ff"/>
<path d="M216 4979l2284 0 0-2187-2284 0zM558 3713l-28-32-17-14 19-28 26-31 29 16 20 15 24 28-15 14-18 13zM1130 3018l-4-8 4-2 9 2zM1586 4963l-22-38-11-28-7-27 40-34 45 34-8 27-11 28-17 27zM1786 3668l-4-29-8-27-16-21-11-6-18-6-28-5-28-17-14-27-15-9-29-5-29-2-45 43-7 28-14 27-19 22-29 17-15-39-8-27-5-26-17-29-12-17-28-31-29-23-16-66-20-54-8-28-13-23-29-23-28-10-19-26-9-55-8-27-20-27 10-28 17-18 29-11 57 12 57 7 28 38 8 27 21 35 25 20 32 13 11 14 5 28 9 27 12 27 21 28 15 27 13 18 28 27 29 13 77 24 9 31 10-31 104-21 114 9 114-13 57 6 58 3 114 12 5 4-5 8-114 24-115-6-28 3-29 7-28 22-10 24-6 27-13 16-28 1-29 4-18 7-11 9-7 18-5 27-2 28-14 19zM2043 4192l-17-60-10-28-7-54-14-55 20-57 15-52 13-9 29 9 28 33 29 21 29 16 16 12 46 27 23 17 29 17 28 23 57 35 29 14 20 3-20 49-5 6-24 7-199 7-58 7-35 6z" fill="#0048ff"/>
<path d="M216 4979l1345 0-14-27-9-27-11-55 31-28 28-22 28 23 38 27-12 55-10 27-16 27 886 0 0-791-14 26-71 10-29 2-84-12-30-10-29-3-85-4-70 17-45 7-5-7-15-55-19-55-5-27-13-47-17-35 22-55 18-54 6-6 28-17 74 23 67 54 42 28 46 24 28 24 46 34 40 22 57 6 57 9 0-1295-2284 0zM558 3735l-28-34-39-34 16-28 20-27 31-33 29 10 29 16 9 7 26 27 16 28-23 28-28 20-29 12zM901 4436l-6-4 6-11 3 11zM1244 3886l-5 0 5-25zM1786 3723l-28-10-25-19-16-27-16-18-29 11-28 17-29 9-29 5-114-1-28-15-11-8-6-28-11-82-29-39-29-28-25-97-32-78-26-31-31-17-28-38-5-27-8-28-16-30-29-24-8-28-23-27-22-55 25-18 28 6 41 12 16 14 57 19 57 15 29 5 23 29 19 28 15 32 18 22 11 9 28 17 22 29 8 28 11 27 16 27 28 28 29 38 29 15 73 29 13 4 114-20 114 5 114-9 86 15 143 16 20 16-20 29-86 21-28 9-115-11-28 11-30 23-16 27-40 47-19 8-9 6-24 21-14 28-48 62z" fill="#0058ff"/>
<path d="M216 4979l1304 0-8-54-4-55 50-45 28-20 48 38 38 27-4 55-8 54 840 0 0-741-114 3-114-16-114-6-115 18-15-23-13-44-24-66-6-27-10-27-12-28-20-27 15-32 29-77 28-24 28-13 57 15 58 20 57 45 28 19 29 16 79 58 35 22 114-3 0-1249-2284 0zM558 3758l-27-37-27-27-35-27 14-28 18-29 29-35 19-18 9-4 51 4 35 13 29 26 5 16 23 32 29 17 20 6-27 27-22 15-27 12-30 19-28 9zM873 4447l-26-15 24-54 19-28 11-13 15 41 10 54-25 27zM958 3995l43-27 14-11 29 15 18 23-47 14zM1158 3897l-22-11 22-4 29-9 20-15 8-11 7-16 7-28 4-27 11-9 50 9-19 27-3 8-5 20-7 55-16 19-57-4zM1244 4873l0-12 2 9zM1672 3779l-18-3-10-9-29-15-57-18-29-7-57-8-28-8-29-13-29-31 4-110-32-36-18-73-27-82-29-55-12-12-28-20-37-50-7-27-11-28-19-27-12-11-29-16-15-28-13-31-17-51 35-27 11-7 57 9 57 18 28 14 29 11 57 16 37 48 35 55 14 16 28 21 29 38 5 7 9 28 14 28 20 26 37 31 40 24 46 22 29 11 114-16 114 2 114-6 48 14 38 8 143 19 28 21 6 7-34 51-29 7-57 18-28 11-115-17-20 12-27 27-38 47-29 31-28 26-86 111-57 8-57 3z" fill="#0068ff"/>
<path d="M216 4979l1262 0 8-54 4-55 39-39 29-23 28-19 68 54 39 27 4 55 7 54 796 0 0-714-28-4-86-5-114-16-114-2-115 14-26-38-17-55-41-109-17-28-13-15-7-12 7-24 15-31 22-54 24-28 25-14 28-9 57 13 58 17 42 21 35 27 42 27 109 76 29-3 57-10 28-8 0-1203-2284 0zM558 3792l-2-16-19-27-23-28-41-37-26-17 12-28 14-27 17-27 24-28 44-21 115 8 12 13 8 28 8 16 8 11 21 20 12 7 16 8 29 9 5 11-2 109-3 2-171 6zM844 4461l-29-16-16-13 11-54 5-18 26-64 17-28 28-27 15-9 14 36 25 55 8 109-21 28-26 23zM1244 4905l-14-35 14-111 24 111-16 27zM1929 4659l-2-8 2-2 3 2zM644 3455l0-8 29-2 1 3-1 13zM930 4023l-29-7-9-21 9-26 57-36 57-42 9-5 106-13 28-9 12-6 17-12 13-15 13-28 7-27 24-20 85-1 21-6 8-159 5-33-5-5-7-22-19-82-18-55-13-31-29-47-28-24-46-62-11-33-12-22-17-21-7-6-21-14-31-13-27-73-9-37 38-31 29-19 85 8 29 5 72 37 42 14 52 68 34 51 33 31 24 31 16 24 12 29 16 26 13 16 28 24 45 15 41 22 29 13 114-13 228-4 57 22 29 7 29 6 114 16 28 17 21 23-49 72-57 18-29 11-28 14-21-6-94-16-20 16-44 55-50 55-86 111-28 28-57-6-57-2-57-10-88-12-27-12-57-17-85 3-29 9-5 17-24 12-19 15-9 11-9 17-10 27-7 28-31 37-29 4-28 7-15 6-14 10-14 18-10 27-4 4-115 35-57-6z" fill="#0078ff"/>
<path d="M216 4979l1163 0 36-19 10-8 22-27 14-28 9-27 31-32 25-23 32-24 28-18 29 25 58 45 28 18 26 9 16 109 757 0 0-687-57-14-171-22-114 1-115 11-36-54-9-28-40-105-16-31-34-55 4-27 7-28 14-27 11-27 15-28 27-22 29-10 28-5 57 11 58 15 57 25 24 14 90 61 57 41 114-16 0-735-3-8 3-6 0-431-2284 0zM558 4115l-7-11 7-26 21 26zM844 4491l-29-11-28-16-20-32-5-54-5-28-11-27 16-109 25-15 57-15 29-11 28-14 18 27 39 87 28 50-11 55-5 54-17 28-23 25-29 21-28-6zM1244 4938l-7-13-20-55 16-109 11-27 22 27 24 109-7 27-11 21-6 7zM1929 4694l-14-43 14-13 16 13-9 28zM558 3871l-8-40-8-55-20-27-25-28-31-27-22-15-10-12 10-52 16-30 18-28 52-22 28-16 29 1 29-5 21-12-9-28 3-27 13-19 29-7 11 26-1 27-10 27-4 1 4 2 5 25 25 27 13 28 14 17 10 10 18 13 29 14 14 28 5 54 6 28 3 10 11 17-11 11-28 16-114 8-29 6-37 14-20 12-18 15zM901 4064l-10-14-12-28-9-27 17-55 14-29 37-25 20-6 172-21 28-13 19-15 10-11 10-17 11-27 36-31 28-4 29-9 16-11 16-27 6-27 11-110-21-83-4-26-24-65-29-51-18-21-10-8-55-74-11-27-16-28-32-29-60-25-17-55-11-55 30-27 29-21 29-18 114 0 57 25 57 32 4 9 43 55 37 55 59 68 28 41 13 28 16 23 28 29 95 30 20 9 114-9 114-4 114 2 57 25 29 9 57 12 86 13 28 13 15 12 14 15 7 12-36 50-28 43-45 16-41 19-28 18-115-28-28 37-56 64-18 27-64 82-12 27-22 23-7 5-21 9-29-12-28-7-57-8-49-10-179-27-58 7-57 12-14 8-15 13-13 15-15 27-10 28-27 27-20 28-29 9-28 16-25 29-32 31-115 32zM787 3345l-17-6 17-19 4 19z" fill="#0087ff"/>
<path d="M216 4979l1056 0-28-8-22-46-18-55 18-109 10-28 12-23 21 23 21 28 25 109 3 27 8 28 7 11 29 13 35-24 25-28 16-27 42-27 28-28 25-21 29-20 28-15 69 56 46 33 28 6 29 10 11 6 12 109 719 0 0-660-28-13-29-9-28-6-143-20-114 4-115 9-31-43-16-27-19-55-23-55-43-82-18-27-3-82-11-27-7-4-29-7-28-2-21-15-36-16-29-9-57-12-102-18-98-14-57 10-57 17-17 15-12 13-9 14-14 28-29 27-21 27-12 20-29 14-60 48-25 30-86 24-29 7-57 10-39 11 11 9 14 19 14 33 10 49 60 109-23 55-13 54-13 28-21 29-28 25-29 16-57-8-29-6-28-9-29-43-18-32-10-34-9-20-19-28-29-22-3-5 3-24 10-31 14-54 4-5 28-23 29-15 86-35 29-18 17-14-22-27-10-27-9-55 10-55 30-82 12-9 45 9 69 3 115-15 28-18 22-25 7-10 8-17 49-42 28-8 29-17 13-15 12-27 14-110-11-43-12-66-16-44-19-38-16-27-22-24-29-41-35-45-12-27-20-28-18-16-29-14-61-24-16-82-3-28 23-23 28-23 29-20 28-16 86-8 29-5 37 13 48 21 29 15 20 46 42 55 36 55 47 54 20 28 35 58 28 33 51 18 64 19 28-1 86-9 114-3 114 6 86 33 29 9 114 19 28 9 29 19 7 9 14 27-50 70-28 44-57 25-29 17-28 22-115-24-54 65-12 27-19 29-29 28-20 25 2 27 5 28 13 19 10-19 19-13 28-7 57-4 57 9 58 13 57 22 57 31 57 37 57 40 114-10 0-660-17-32-9-28 26-49 0-388-2284 0zM558 4135l-21-31 13-54 8-19 29 29 13 17 16 26 0 2-29 21-15 6zM1929 4729l-13-23-8-27-5-28 26-23 29 23-7 28-10 27zM558 3942l-15-56-9-55-6-55-21-27-27-28-36-29-21-25 14-82 7-28 64-27 22-11 28-18 29-1 21-25 8-16 2-11 20-27 6-4 29-4 11 8 9 27 1 27-6 28 8 27 25 27 18 28 19 18 29 18 24 46 4 32 6 22 12 28 11 14 18 13-8 27-10 12-29 10-142 15-40 18-17 12-18 16-17 27zM758 3343l-3-4 3-8 19-20 10-4 4 4 6 28-10 14z" fill="#0097ff"/>
<path d="M216 4979l1013 0-23-54-15-55 12-55 12-69 15-40 14-21 43 48 19 28 27 109 13 27 12 15 29-27 11-15 17-16 29-18 28-12 41-36 40-27 33-10 21 10 65 53 29 20 57 8 28 10 26 18 8 109 680 0 0-635-41-21-44-15-29-7-114-14-143 9-86 3-24-31-34-54-9-28-18-45-30-64-30-55-20-27-4-27-9-28-21-27-29-14-57-37-29-11-28-9-57-13-58-11-114-16-57 13-28 10-29 12-19 21-10 14-7 14-32 27-23 27-23 38-66 44-28 28-20 28-100 26-15 37-8 45-2 28 10 19 29 46 18 44-18 54-14 28-15 23-10 32-18 36-29 30-27 16-30 7-114-2-7-5-22-32-31-50-27-55-27-35-23-47 3-109 0-28-3-27 23-6 28-14 24-7 33-7 29-3 32-18 6-54 4-82 6-55 5-27-25-24-28-10-114 17-27 17-30 58-17 24-23 27 30 27 10 11 11 17 15 27 12 27 0 28-10 24-86-2-34-50 2-27 10-55 13-27-10-27-12-55-9-82-4-55-41-46-29-24-32-39 7-55 10-55 15-13 57-25 29-15 28-21 29-8 18-27 22-27 17-12 29-4 22 16 8 27 2 27-2 28 11 27 25 27 19 24 29 23 33 63 6 27 9 27 9 16 9 12 20 15 24 12 13 27 20 21 11 7 17 7 29 6 28 4 115-16 28-22 24-34 33-30 32-25 25-10 22-17 7-8 11-19 11-55 7-55-12-54-9-55-22-55-15-27-18-27-60-82-23-28-14-27-23-28-4-4-29-14-57-24-35-12-3-28-4-82 13-17 29-27 28-21 27-17 31-16 64-11 7-27 7-82-992 0zM1929 4764l-6-3-19-28-7-27-6-55 38-34 29 20 13 14-13 59-10 23zM758 3354l-11-15 11-25 3-3 26-11 11 11 4 28-15 22zM2362 3913l24 16 114-2 0-587-5-1-23-23-3-5-10-27-8-55 23-55 18-27 8-9 0-346-1131 0-11 47-29 21-14 14-22 27 66 27 28 59 7 23 50 68 26 42 46 54 53 83 17 20 58 22 57 18 57-6 57-9 114-4 57 7 57 4 115 42 57 12 85 14 29 10 9 6 20 28 7 27-21 27-38 55-34 53-29 13-29 16-37 27-19 18-115-19-24 29-7 27-11 27-16 28-27 27 28 10 133 17 39 8 28 9 57 22 31 16 55 32z" fill="#00a7ff"/>
<path d="M216 4979l994 0-11-27-8-27-13-55 9-34 19-103 7-27 14-27 17-18 44 45 21 27 17 28 29 109 3 4 29-36 28-18 10-5 47-13 29-24 28-19 29-10 28-6 29 12 9 6 48 39 29 21 114 0 22 22 7 27 12 82 6 27 638 0 0-610-57-28-32-18-25-8-114-13-114 11-115 2-28-35-29-45-11-21-21-55-38-82-15-29-37-53-9-27-17-28-52-41-57-31-28-11-115-26-114-17-57 17-57 27-21 28-36 29-22 25-19 28-15 27-30 17-14 10-14 11-29 29-11 15-17 29-29 27-29 42-17 39 26 54 16 55-11 55-7 27-22 55-13 22-29 29-23 31-91 22-114 8-39-30-18-28-29-50-15-32-32-54-25-55-7-109-6-10-21-18-37-12-28-43-20-27-1-109-8-219-28-31-29-25-23-26-20-27 5-55 8-55 31-27 59-27 26-15 28-23 29-11 29-34 28-19 29-5 28 19 5 6 9 54 2 28 15 27 26 29 29 27 29 53 13 28 15 44 6 10 24 28 45 27 21 27 18 13 29 12 28 7 115-16 28-27 11-16 62-55 44-27 24-27 12-55 9-55-19-111-23-53-16-27-56-82-43-55-17-27-16-19-16-9-70-31-29-11-46-12 10-55 4-55 19-27 29-27 41-30 46-25 12-23 22-32 6-12 14-42-956 0zM1929 4793l-28-6-29-26 6-55 1-55 50-44 29 16 26 28-7 55-7 27-10 28zM787 3369l-29-5-18-25 12-28 6-5 29-13 18 18 3 28zM708 4050l79 13 6-13 8-28 5-27-6-109-13-9-49 9-26 27-39 35-9 20-16 27 17 27 8 17zM2365 3886l21 14 114 4 0-543-57-3-28-4-23-15 23-29 7-26 7-55 6-27 9-28 13-27 18-27 25-59 0-269-1109 0-25 109 21 39 16 43 7 27 34 46 41 64 44 54 34 55 23 32 58 24 57 19 85-14 29-7 114-4 57 10 57 7 57 19 60 24 83 17 29 5 57 1 28 4 20 27 3 55-22 27-39 55-47 73-29 15-28 18-29 23-8 8-20 48-86 4-20 2-9 3-4 25-9 27 13 3 29 2 86 11 39 11 75 29 28 20z" fill="#00b7ff"/>
<path d="M216 4979l974 0-15-54-10-55 22-87 10-77 6-27 12-24 4-4 6-54 13-28 6-5 5 33 13 54 39 41 30 41 16 28 11 43 29-13 13-3 15-3 57-5 29-21 28-11 57-14 29 12 26 15 60 46 57-8 28-9 5-2 24-21 28-26 5-8 10-27 6-27 3-28 62-55 29 14 18 14 10 10 12 17-6 82-4 28-18 27-12 13-29 21-28 12-10 9-15 27 12 55 15 54 597 0 0-585-35-16-79-41-68-14-46-5-47 5-67 14-115 3-7-17-22-27-36-55-14-27-22-55-41-90-30-47-22-27-13-27-24-28-26-22-28-19-57-27-52-14-63-14-114-17-57 20-28 13-29 18-5 8-24 16-39 38-18 24-28 46-21 12-36 29-24 26-19 27-14 82-20 28 13 54 7 45 0 54-8 175-50 8-57 4-85 20-86 12-57 12-34-29-37-27-45-82-11-28-28-54-23-55-12-82-7-27-32-20-28-44-34-46-7-54-6-28-13-27 6-27 7-55 3-55 1-82-55-55-43-54 10-110 28-27 17-13 32-14 54-31 28-24 29-10 15-17 42-27 29-6 14 5 14 9 14 19 4 27 13 55 19 27 36 38 38 71 23 55 16 27 9 10 22 18 45 27 18 19 29 17 28 11 115-18 28-30 57-52 57-42 13-14 15-55 10-55-16-109-25-55-33-54-49-70-33-40-24-34-41-21-74-32-57-10-29-12 15-28 10-27 11-55 14-27 8-11 28-26 24-18 44-27 8-27 11-28 16-27 12-14 6-13-920 0zM758 3373l-11-7-14-27 13-28 12-12 29-12 25 24 1 28-17 27-9 10zM2348 3858l38 19 114 4 0-498-45 10-12 6-26 22-13 27-18 10-29 38-85 127-29 17-35 27-4 27-7 27-10 28-20 27 48 12 57 19 28 22 29 19zM2219 3339l53 10 55-10 30-22 28-33 13-27 8-28 15-82 10-27 46-110 23-27 0-191-1088 0-21 109 22 55 14 54 45 67 12 15 16 28 42 54 44 71 25 12 90 34 57-11 57-16 114-3 57 12 57 9 115 40z" fill="#00c7ff"/>
<path d="M216 4979l955 0-13-64-6-45 9-27 20-82-1-82-2-28-12-27-8-11-18-16-10-6-29-9-29-5-57-5-28 7-143 26-29 8-28 11-57-50-46-32-11-20-37-90-26-54-22-55-11-55-18-54-35-55-42-55-5-27-8-27-13-28-12-15-3-12 3-26 10-29 12-54 7-110-57-58-38-51 6-110 25-27 35-26 57-29 29-18 28-21 29-13 42-30 15-8 29-6 28 8 9 6 15 28 2 27 3 12 19 43 9 13 29 32 48 91 24 55 14 20 28 26 60 36 26 20 13 7 15 7 115-19 28-29 46-41 68-54 9-28 20-82-9-54-6-55-27-55-17-27-14-27-19-28-22-31-42-51-15-21-65-34-50-21-57-5-28-5-29-11-4-12 4-13 12-15 17-29 26-80 15-27 16-16 61-39 6-55 5-27 8-27-851 0zM758 3383l-25-17-9-27 15-28 19-19 29-13 7 5 24 27 1 28-16 27-16 17zM1943 4952l25 27 366 0-20-54-28-55 14-11 29-14 57-16 29 14 28 27 12 27 17 21 7 7 21 13 0-520-57-24-57-29-57-7-57-10-57 11-57 8-115 7-21-51-22-27-14-21-33-61-45-110-14-27-36-55-23-27-20-30-24-25-33-25-29-16-28-12-57-17-58-14-114-16-47 18-38 20-11 8-18 6-29 21-28 28-29 38-28 45-29 19-35 34-21 27-21 110 6 82 6 54 4 28 7 27 27 55 27 28 29 14 3 12 13 28 12 55 8 27 11 27 45 55 22 37 29 7 28 4 57 5 29-14 43-12 42-7 22 7 36 17 57 44 28-6 29-10 27-17 30-23 24-32 10-27 6-28 74-65 29 10 28 19 8 9 17 27 1 55 4 55-11 27-19 27-28 23-29 13-21 19 21 69zM2385 3858l115-2 0-452-36 17-21 18-7 9-50 29-58 80-33 55-23 31-34 24 5 71 9 38 20 6 28 24 29 21 28 17zM2183 3311l32 7 57 17 28-13 29-20 19-18 20-27 15-28 4-109 42-110 14-21 28-33 29-27 0-137-1066 0-18 109 16 55 11 54 58 82 13 28 41 54 31 55 59 28 56 21 84-21 30-11 114-4 54 15 60 11 57 18 58 21z" fill="#00d7ff"/>
<path d="M216 4979l935 0-12-109 18-55 13-54-2-28-4-27-8-27-26-37-19-18-10-7-29-12-28-9-29-5-30 6-84 12-28 6-58 19-28 15-57-52-57-42-14-13-22-55-38-82-22-55-19-61-11-75-36-55-42-55-8-27-17-35-6-20-7-27 13-99 7-38 8-82-54-55-18-23-20-31 2-110 21-27 34-27 77-43 57-37 29-11 27-19 30-16 29-7 28 1 9-5 3-27 19-28 26-25 29-15 19 13 9 9 9 18-1 28-13 27-23 24-39 3-11 28 1 27 20 43 29 33 83 170 31 34 114 69 29-4 86-15 60-57 68-54 19-55 14-55-13-109-12-27-46-82-18-28-72-91-29-16-60-30-26-11-85 3-29 3-8-22-7-27 15-51 17-31 11-28 4-27 7-27 18-31 29-18 22-6-18-55-26-54-749 0zM2031 4925l12 15 29-8 28-4 58-4 28-12 17-15 12-18 3-9 8-55 13-27 4-5 29-15 57 8 57 3 29-1 28-3 29-8 28-20 0-296-27-19-87-38-114-9-86 10-143 12-16-29-20-55-21-28-31-54-54-130-29-51-28-38-45-54-29-28-12-9-29-18-28-13-29-9-86-22-114-16-28 11-29 14-12 8-45 16-29 22-16 16-23 28-46 69-29 22-19 18-23 27-21 110 12 109 6 27 9 28 14 27 22 24 6 3 23 24 7 31 11 27 10 19 7 9 16 55 11 27 14 27 22 28 16 24 29 17 28 10 57 11 22-8 35-8 57-7 46 15 12 6 28 19 29 23 50-20 64-49 5-6 14-27 9-28 86-76 29 7 29 15 28 31 9 23 6 55 5 27 9 28-5 27-6 27-14 28-4 5-29 19-8 3 37 35zM2368 3831l18 10 114-10 0-405-32 22-53 32-29 15-45 62-31 55-38 52-5 3 5 18 12 64 8 27 37 30zM2136 3284l22 7 57 8 57 12 28-18 38-36 19-28-9-109 38-119 9-18 17-27 31-38 19-17 38-20 0-89-1045 0-14 109 11 55 7 54 13 20 29 33 17 29 11 28 21 27 18 27 18 33 29 21 65 29 21 7 57-15 57-22 114-5 29 11 114 30z" fill="#00e7ff"/>
<path d="M216 4979l916 0-5-109 18-55 15-54-5-28-8-27-17-31-29-23-29-20-15-8-42-14-115 14-56 18-57 26-23-17-34-32-65-50-27-27-22-53-29-57-29-74-7-35-16-109-36-55-44-55-11-27-23-82 12-82 9-110 4-27-30-27-29-34-15-21-16-27-2-110 18-27 15-16 29-22 57-29 85-51 29-12 29-18 28-13 12-3 45-22 22-33 35-33 29-16 28 18 3 4 12 27-2 28-11 27-25 27-5 9-29 11-5 8-3 27 8 18 29 33 25 58 42 82 11 28 17 27 19 22 114 68 29-4 86-15 46-44 69-54 21-55 15-55-10-109-45-82-13-27-19-28-64-79-56-30-58-28-58 7-28 8-25 13-4 4-16-32-7-27-3-27 26-89 10-21-5-82-5-17-8-65-7-27-11-27-659 0zM1693 4761l8 6 16-6 69-50 29-25 16-35 59-54 39-32 31 4 26 7 29 19 15 29 7 27 6 36 29 13 28 10 58 15 114-20 114 0 37-26 27-28 50-34 0-122-28-14-29-18-34-31-23-10-114 0-114 6-44 4-71 17-7-17-16-27-12-27-9-28-6-27-19-27-30-55-15-34-17-48-25-55-16-27-28-40-57-64-28-26-29-20-28-15-29-10-86-21-114-15-42 20-72 25-29 24-28 31-40 56-16 28-30 25-27 29-23 110 16 109 9 27 14 28 11 16 29 25 10 41 9 27 9 21 27 34 9 27 21 50 20 32 24 28 14 10 30 17 55 18 57-10 57-4 29 7 42 16 15 9zM2354 3803l32 20 86-11 28-6 0-359-57 36-57 30-32 44-29 55-38 55 13 59 7 23 11 27zM2257 3284l15 2 36-29 23-28-9-55-14-54 49-149 28-70 115-61 0-48-1024 0-10 109 11 109 24 23 21 32 13 27 9 28 37 54 5 11 62 44 53 22 57-17 57-26 114-10 29 9 28 14 12 8 102 28 58 19z" fill="#00f7ff"/>
<path d="M216 4979l899 0 2-109 33-109-8-28-11-27-22-27-8-7-29-16-57-28-114 11-35 12-79 36-29-20-49-43-65-52-26-30-26-55-29-55-10-27-7-27-22-164-38-55-42-51-33-113 16-109 2-110-28-27-14-17-27-38-16-27-5-110 15-27 23-27 10-9 31-19 26-10 114-65 29-11 91-50 23-10 13-18 28-27 16-14 24-13 5-7 28 13 14 21 7 27-3 28-10 27-8 12-14 15-14 23-9 5-13 27 22 26 28 66 36 72 23 55 27 36 114 69 115-20 32-31 68-54 14-28 27-82-8-109-45-82-13-27-18-27-29-37-28-33-86-44-29-13-57 12-28 14-20 18-9 4-26-4-7-27-3-28-1-54 32-110-2-27-6-55-15-67-5-15-14-27-10-14-14-13-614 0 0 599 22 57-11 27-11 16zM1682 4733l19 16 24-16 37-27 33-27 20-18 4-10 28-27 25-23 57-47 57 3 29 5 15 7 13 22 29 22 28 40 58 25 85-22 14-5 15-11 28-8 29-8 57-11 29-21 38-23 47-21 0-10-28-8-29-11-28-15-29-21-116 4-84 7-143 20-19-27-9-27-6-28-12-27-8-27-11-55-18-27-31-63-28-79-25-50-16-27-42-55-60-59-30-23-27-16-28-11-58-17-29-5-62-5-52-7-15 7-42 13-57 22-29 25-28 33-32 43-25 43-15 12-27 27-23 110 18 109 18 36 13 19 16 16 19 66 9 24 18 30 11 13 17 15 11 29 13 26 16 27 29 35 24 20 33 17 28 10 114-4 29 5 29 8zM2383 3803l3 2 29-4 85-19 0-313-56 34-58 28-19 26-27 55-11 19-25 36 7 27 19 55 14 27zM2145 3257l13 3 28 1 86 0 33-32-14-55-19-49-4-5 29-82 43-137 46-41 114-61 0-7-1002 0-5 109 15 109 21 28 13 27 10 27 7 28 27 42 54 40 40 27 21 9 28-9 86-40 114-14 57 10 29 11 9 6 19 18 7 9 79 22z" fill="#00fff7"/>
<path d="M216 4979l882 0 6-54 3-55 32-109-9-28-17-27-12-14-29-21-57-24-114 8-47 24-67 26-42-26-62-55-38-27-28-28-20-27-27-55-34-55-6-42-5-67-13-109-18-28-50-63-13-19-30-109 17-109-5-110-27-27-21-28-32-54-3-47-3-8-17-27-9-8-28-17-9-3-20-14-28 0zM1654 4706l18 6 29 16 57-42 40-35 17-7 57-54 57-47 24-1 5-4 14-24 6-27 4-55-12-54-6-55-17-27-18-36-14-46-14-38-35-72-23-34-38-48-47-43-29-24-28-18-29-14-28-10-58-15-114-9-28 8-57 21-29 13-11 9-18 17-57 73-28 49-27 25-25 110 22 109 16 27 14 18 10 37 18 55 13 27 16 24 28 26 8 5 26 55 15 27 9 10 28 23 35 22 22 10 114 5 58 9zM2370 3776l16 11 86-19 28-4 0-273-57 32-57 27-6 7-25 55-34 55 9 27 23 55zM998 3749l17 10 115-20 50-45 35-27 29-57 17-53-6-109-11-22-29-49-18-38-10-16-57-72-48-22-67-34-28 7-29 12-28 18-29 13-28 0-29 6-5 6 2 54-3 28-9 27-35 55-7 27 28 67 46 97 22 55 18 24zM266 3530l7 11 57 1 6-12 23-33 27-22 30-14 28-9 57-34 48-25 60-27 46-27 46-22 4-6 28-27 25-22 10-5 19-27 28-8 22-20 9-28 6-54 21-62 13-48-3-27-10-56-18-53-13-28-20-27-35-27-533 0-10 12-22 42-6 17 0 469 5 7 44 109zM2103 3229l55 16 114-9 7-7-7-22-7-5-25-28-15-27-10-27 28-64 23-46 29-109 59-55 32-25 54-29-921 0 0 109 20 109 19 41 11 41 4 28 13 20 29 22 55 40 31 20 57-27 57-24 114-20 86-4 28-5 7 5 26 27 16 28z" fill="#00ffe7"/>
<path d="M216 4979l865 0 10-54 6-55 32-109-13-28-20-27-35-27-17-9-29-11-57 6-28 5-29 9-62 27-52 17-34-17-37-27-25-28-18-15-22-12-35-27-23-28-17-27-18-35-33-47-16-28 3-109-11-109-19-28-38-48-23-34-30-109 17-109-7-83-5-27-25-27-19-28-22-38-29-17-14-27-14-17-10-10-19-13-28-15zM1699 4706l39-27 32-28 45-20 68-62 34-27 12-51 18-31 8-28-6-109-20-37-28-89-30-65-34-55-22-29-23-26-34-27-29-26-28-20-29-15-28-11-58-17-114-10-57 19-56 25-30 28-43 54-19 28-23 42-13 12-25 110 9 46 16 63 13 19 9 36 19 57 10 25 14 27 22 27 11 10 27 18 9 27 13 28 20 27 17 14 57 33 38 8 134 12 28 6zM2377 3749l9 14 57-10 57-5 0-236-57 31-32 14-25 19-16 36-31 55 18 46zM974 3721l41 25 115-20 69-59 16-27 27-55 9-28-3-109-33-54-28-60-57-73-115-55-28 9-86 42-28 6-19 21-11 55-8 27-30 55-7 27 46 109 29 60 20 50 8 11zM328 3503l3 0 23-28 33-20 57-18 80-44 62-27 47-27 59-28 9-6 29-28 24-20 33-44 19-11 9-10 11-18 10-27 5-27 36-110-4-24-15-58-14-34-27-48-30-29-35-25-460 0-19 18-25 36-32 73 0 384 30 36 55 134zM2157 3229l3 0 2-109 53-129 31-90 83-76 42-33-831 0 6 109 12 60 19 77 13 82 82 62 29 20 59-28 55-22 151-32 77-30 57 10 29 10 15 10 6 27z" fill="#00ffd7"/>
<path d="M216 4979l849 0 13-54 9-55 14-55 17-54-16-28-24-27-34-24-29-13-57 10-28 9-37 18-49 19-57 17-29-12-40-24-31-27-14-18-13-10-16-8-29-19-28-28-29-47-45-62-31-55 7-27 8-55 2-27-10-109-16-24-29-36-34-50-23-85-6-24 18-109-12-83-8-27-22-27-27-42-68-40-24-28-22-17zM1623 4679l49 2 29 4 42-34 43-17 29-15 55-50 34-27 9-28 12-54 4-28 6-109-6-10-30-99-27-61-27-49-19-27-21-27-26-28-78-60-29-17-28-13-58-18-114-10-57 20-57 26-29 29-35 43-22 32-27 50-26 110 25 96 1 13 15 55 12 37 19 45 17 27 21 25 29 21 9 9 10 27 15 28 23 25 29 19 28 13 29 10 28 6 57 7zM995 3721l20 13 115-21 57-50 28-49 26-57-2-109-18-27-15-28-24-54-52-68-115-55-85 37-57 28-3 3-12 27-17 55-26 55-6 27 46 109 18 37 29 73zM2382 3721l4 7 114 5 0-199-46 23-68 52-30 58zM318 3448l12 17 23-17 34-16 57-10 52-29 91-41 24-13 62-27 28-18 41-37 22-28 23-34 20-21 14-27 46-137-6-27-17-53-30-56-27-32-57-42-13-8-388 0-28 22-27 32-16 28-42 84 0 315 28 35 28 31zM1691 3174l10 7 114-48 58-13 65-28 77-30 28-13 52-11 34-17 13-11 16-19 35-90 60-55 64-54-755 0 10 109 14 59 16 105 13 48 3 7z" fill="#00ffc7"/>
<path d="M216 4979l100 0 14-13 16 13 702 0 18-54 10-55 30-109-18-28-16-17-28-22-29-14-57 14-28 12-29 20-57 20-57 14-29-9-38-18-19-12-28-25-32-17-27-28-34-27-22-29-24-26-15-27-18-25-18-30-28-55 13-27 5-16 9-39 4-27-8-109-34-45-45-65-12-45-16-64 19-109-4-28-13-55-10-27-21-27-12-19-57-35-50-28-7-7zM330 4777l-7-16 7-5 101 5-44 9zM1504 4651l25 8 57 10 58-1 57-4 15-13 42-15 57-29 28-26 47-39 11-27 8-28 11-55 4-109-34-109-24-55-32-55-40-54-28-28-39-27-26-21-29-18-33-16-53-18-114-11-57 21-57 28-56 62-30 44-21 38-7 64-11 46 11 43 7 66 7 27 14 45 28 65 29 39 29 23 19 20 12 27 18 28 8 8 29 23 28 14zM970 3694l45 27 115-20 39-34 34-55 26-55-1-109-13-21-17-34-13-27-10-27-45-58-115-54-57 23-28 14-37 20-20 15-6 12-18 55-22 55-7 27 81 192 23 27zM2389 3694l26 9 28 6 57 8 0-161-114 86-13 25 13 26zM320 3393l10 22 29-5 85-4 57-29 153-66 46-27 31-27 41-55 15-27 20-28 32-82 18-55-16-54-13-28-41-61-57-45-47-30-289 0-35 12-29 13-30 29-27 40-23 42-34 69 0 246 32 41 49 55zM1682 3147l19 13 98-40 16-9 57-22 57-30 52-21 57-28 34-13 23-14 27-27 15-28 10-27 11-17 39-38 46-40 19-14-679 0 13 136 18 110 18 54 14 28z" fill="#00ffb7"/>
<path d="M549 4952l9 8 6 19 467 0 13-27 9-27 19-81 23-83-23-30-29-25-28-16-28 7-29 11-28 16-12 9-17 17-109 38-10 0-24-8-33-19-24-11-28-19-29-5-28-10-16-10-13-13-9-14-11-28-9-9-36-18-22-27-10-28-6-27-17-28-23-44-9-38 23-54 9-28 6-27-7-109-77-110-8-27-20-82 20-109-13-55-9-28-13-27-16-22-51-33-63-37 0 1137 12-6 16-12 12-15 12-27 33-22 29-23 57-7 57-11 29 9 31 26 10 28-3 54-6 55 9 27 13 28zM1541 4651l45 10 58-5 57-8 57-22 55-29 30-28 33-27 23-55 13-55 3-109-33-109-25-55-52-82-22-27-25-24-86-59-57-28-29-9-114-11-56 21-58 30-47 52-21 28-18 28-14 26-13 110 12 109 15 52 11 30 27 55 19 27 29 25 29 29 14 28 21 28 22 18 28 17zM991 3694l24 15 115-21 24-21 19-28 17-27 27-55 1-109-16-27-25-55-10-27-37-48-115-55-85 39-29 17-23 19-5 6-9 22-7 27-20 55-6 27 70 167 18 24 26 28zM2465 3694l35 7 0-111-102 77 45 21zM340 3366l19 10 28 8 57 7 57-28 143-57 40-22 34-27 23-28 36-55 30-54 40-110-8-27-25-55-27-36-55-46-59-40-41-14-171 0-17 3-57 18-28 13-29 17-29 32-16 26-57 109-12 67 0 92 11 60 45 55 50 55 8 18zM1674 3120l27 20 48-20 66-36 57-26 29-16 28-19 28-13 29-9 57-25 29-19 27-29 17-27 13-27 17-28 12-16 43-38-601 0 6 109 18 109 8 28 12 32 11 22z" fill="#00ffa7"/>
<path d="M614 4952l3 27 396 0 2-1 14-26 15-37 39-154-23-28-16-14-29-19-28 9-29 13-17 11-30 28-10 21-57 21-57 16-57-9-29-10-19-12-9-10-29 14-22 23-14 28-7 27zM216 4733l0 26 57-34 28-22 29-27 57-16 23-9 6-4 17-23 9-27 7-55-12-28-8-27-10-55 33-82 8-27-5-109-77-110-27-109 20-109-12-49-14-34-16-27-113-70zM1579 4651l7 2 115-14 39-15 54-27 21-14 47-41 10-17 16-38 16-55 3-109-33-109-27-55-52-82-23-27-14-13-18-15-44-27-24-17-28-17-29-13-29-11-114-11-57 23-57 31-29 30-28 35-29 45-8 14-14 110 9 82 4 27 17 55 21 50 18 32 22 27 17 15 39 40 18 30 22 25 35 24 7 3 50 16zM1012 3694l3 2 115-21 9-8 20-28 28-45 18-37 3-109-28-55-22-56-28-37-115-54-57 25-28 15-38 25-19 23-2 5-6 27-17 55-5 27 58 142 14 22 22 27 29 28zM2445 3667l55 18 0-60zM404 3366l40 9 86-36 28-7 29-11 57-25 29-15 32-24 25-29 19-26 47-82 22-55 19-55-10-27-12-27-16-28-12-15-17-12-40-34-57-41-57-22-42-12-44 1-86 18-28 9-55 26-31 22-29 39-54 103-22 110 17 82 8 27 22 28 58 64 29 21 28 17zM1678 3092l23 27 152-81 44-28 32-15 57-22 35-17 22-13 29-27 12-15 23-55 22-36 15-18-528 0 4 109 19 109 22 55z" fill="#00ff97"/>
<path d="M670 4979l292 0 25-17 28-11 13-26 16-47 28-117-28-30-29-21-28 11-23 12-34 27-11 28-18 32-87 23-84 12-29 8-16 7-12 71zM216 4706l0 25 38-25 34-27 42-41 29-12 28-23 22-34 9-27-10-55-5-55 24-54 20-55-4-109-17-28-59-82-26-109 21-109-3-14-15-41-14-30-57-39-57-35zM1507 4624l51 15 28 6 115-15 57-24 17-9 40-26 33-29 24-42 16-40 7-28 3-109-32-109-13-28-48-82-19-26-28-31-31-25-83-51-58-26-114-12-57 25-28 14-29 18-31 32-22 28-34 54-9 55-6 55 9 82 7 39 26 70 13 27 17 28 50 54 29 28 18 27 27 28 20 14zM987 3667l28 16 89-16 26-7 33-48 31-55 4-109-27-55-19-54-22-29-115-55-57 26-51 30-6 4-21 24-26 109 19 44 28 73 12 20 19 27 26 30zM2491 3667l9 3 0-10zM392 3339l24 11 28 10 51-21 63-16 29-11 57-26 29-16 18-13 10-10 37-45 33-55 14-27 42-110-12-29-28-49-29-20-86-66-56-24-58-19-114 23-57 26-28 18-29 24-29 48-35 68-25 110 13 54 18 55 47 55 28 27 12 9zM1681 3065l20 27 148-82 52-24 28-15 36-15 50-27 28-19 9-9 16-55 11-27 14-27-461 0 1 109 22 109 11 28z" fill="#00ff87"/>
<path d="M861 4979l50 0 11-27 8-8 28-13 57-6 12-28 9-27 24-109-16-18-29-22-28 12-29 18-11 10-6 27-11 34-13 21-16 14-28 7-36 6zM216 4679l0 24 34-24 80-74 13-8 16-14 12-14 16-25 0-112 26-54 21-55 0-109-18-28-59-82-26-109 22-109-9-28-14-32-71-50-43-27zM1536 4624l50 14 115-16 57-26 43-27 34-27 18-28 14-27 20-55 2-109-31-109-29-55-33-55-20-27-18-19-29-25-28-19-35-19-22-15-29-15-29-12-114-12-57 25-28 15-29 18-29 30-28 37-24 38-16 110 14 109 8 27 22 55 24 44 58 65 30 28 20 27 30 28 34 15zM1009 3667l6 4 22-4 93-26 37-56 15-28 6-109-14-27-16-40-14-42-14-19-115-56-42 20-48 27-24 16-10 12-14 54-11 55 35 89 9 20 17 28 31 39zM430 3339l14 6 14-6 43-13 57-12 58-24 60-33 30-28 21-27 34-55 14-27 42-110-12-27-18-31-29-19-85-66-57-27-58-21-114 23-28 13-29 17-28 20-10 9-19 25-46 84-14 55-12 55 15 54 22 55 23 28 41 42 28 19zM1683 3038l18 27 100-55 71-32 86-45 28-15 26-17 18-55 13-54-395 0-2 109 24 109z" fill="#00ff78"/>
<path d="M1013 4897l2 1 11-28 10-55 13-54-34-30-28 14-23 16-1 27-5 44-2 11-10 27 12 9 29 12zM216 4651l0 24 30-24 55-56 33-26 25-29 8-53 4-55 28-54 22-55 3-109-37-55-41-55-16-69-17-40 17-41 13-68-13-36-114-80zM1564 4624l22 6 115-17 37-16 20-11 27-17 36-27 22-31 14-24 22-55 2-109-32-109-6-13-55-97-30-36-29-26-28-20-86-48-29-13-114-13-57 26-57 33-29 31-28 39-17 27-10 55-8 55 6 48 9 61 19 55 29 58 18 24 40 45 40 37 17 22 28 26 57 23zM993 3639l22 18 57-15 58-20 40-65 6-82 1-27-19-44-22-65-6-9-115-56-73 37-41 28-24 109 24 60 29 59 12 18 22 27zM404 3311l40 19 57-15 57-10 58-25 57-31 21-20 22-27 35-55 15-27 7-28 14-29 20-53-20-39-25-15-39-28-50-41-57-29-58-23-114 23-30 16-40 27-22 27-19 28-30 54-29 110 8 27 19 50 16 32 22 28 26 27 22 17zM1701 3038l57-32 28-13 30-10 55-27 98-55 15-27 21-55 8-27-349 0-4 109 25 109z" fill="#00ff68"/>
<path d="M1013 4870l3 0 21-109-22-20-33 20 6 54 8 28zM216 4624l0 20 28-33 46-42 37-27 3-5 9-23 7-27 9-55 30-54 23-55 6-109-18-28-61-82-5-22-18-32-11-26-8-29 8-30 10-25 19-33 4-21-4-11-65-44-49-36zM1509 4597l77 25 115-17 57-29 49-34 23-28 13-21 17-33 10-28 2-110-31-108-14-28-48-82-21-26-29-27-41-29-52-27-21-13-29-13-114-13-57 27-57 33-29 32-39 56-10 55-8 59 14 105 21 55 22 45 27 37 31 36 28 28 22 18 24 27 11 10zM1011 3639l4 4 29-8 28-9 58-23 28-46 9-109-22-55-15-52-56-30-59-28-57 29-41 27-17 54-11 55 12 31 36 78 19 28 24 27zM432 3311l12 6 29-7 85-14 58-26 57-32 28-32 23-32 32-54 14-55 17-27 10-28-10-20-56-34-30-22-39-33-46-25-58-25-114 23-44 27-24 27-46 67-8 15-32 110 11 31 36 78 21 28 30 27zM1700 3010l1 1 28-22 11-6 46-15 29-5 86-46 25-16 19-27 13-23 26-59-303 0-8 109z" fill="#00ff58"/>
<path d="M1006 4788l9 25 11-52-11-10-15 10zM216 4597l0 2 29-30 33-27 23-24 21-31 8-15 10-40 31-54 25-55 8-109-45-66-29-37-20-7-9-13-16-41-13-55 13-55 16-41 8-13-93-65zM1532 4597l54 18 113-18 59-31 34-24 23-24 21-31 26-55 2-109-31-109-29-55-34-55-23-27-18-17-28-22-25-16-90-46-114-13-57 28-54 31-32 35-32 47-20 110 15 109 22 55 15 31 14 23 44 55 28 28 29 24 28 30zM997 3612l18 16 29-8 21-8 36-14 29-14 16-27 11-109-11-27-16-51-21-31-94-47-37 19-45 28-33 109 14 27 36 82 21 28zM411 3284l33 20 29-6 85-11 29-12 36-18 46-28 32-38 29-42 17-29 3-28 8-38 7-16 22-26 0-3-57-32-29-20-35-29-37-27-42-22-29-12-114 22-19 12-25 27-22 28-37 54-19 55-15 55 10 27 36 82 24 28zM1700 2956l58-10 57-4 74-41 15-27 25-34 25-48-257 0-10 109z" fill="#00ff48"/>
<path d="M1555 4597l31 10 115-19 57-32 20-14 37-39 26-43 13-28 1-109-30-109-45-82-18-28-25-27-36-31-38-24-77-38-114-14-57 29-41 23-16 11-36 44-18 27-7 28-14 82 3 27 12 82 31 73 29 46 14 18 43 47 42 35 15 16 29 16zM216 4542l0 12 57-49 15-18 18-27 14-28 10-9 29-49 24-51 12-109-36-52-29-37-60-21-12-54-6-55 7-55 5-27 8-27-56-39zM1013 3612l2 2 7-2 50-19 58-28 4-8 4-27 9-82-17-49-40-60-75-38-65 38-19 54-16 55 15 31 33 78 22 28zM433 3284l11 6 57-7 57-4 58-28 36-22 21-16 30-39 35-54 2-55 3-27 8-28-50-30-85-66-29-18-29-13-85 16-29 8-43 49-21 27-18 27-12 28-19 54-8 28 47 109 26 28zM1700 2901l1 2 28 8 29 5 57 5 36-20 25-55 18-27 25-27-182 0-4 27-7 27-10 28z" fill="#00ff38"/>
<path d="M1577 4597l9 3 115-21 57-33 34-32 23-26 17-28 13-28 2-109-30-109-45-82-19-28-26-27-26-23-29-19-22-13-64-30-114-14-57 28-28 16-29 20-29 34-19 28-22 110 16 109 23 55 15 27 16 26 22 29 24 27 28 27 35 28 5 6 57 30zM216 4514l0 6 38-33 19-22 21-33 36-33 12-21 28-55 5-27 10-82-26-38-29-38-57-17-29-10-14-7 4-218-18-13zM1000 3585l15 15 40-15 56-28 19-50 7-59-7-20-43-62-15-26-56-29-50 28-36 109 46 109zM415 3257l29 20 29-3 85-4 58-29 19-12 38-30 28-37 27-42-6-82-9-28-40-26-29-26-39-30-47-29-57 14-57 20-28 32-34 45-24 55-19 55 47 109zM1805 2874l10 18 13-46 15-36 11-18-69 0 11 54z" fill="#00ff28"/>
<path d="M1530 4569l56 23 115-21 48-29 37-35 29-34 22-41 1-109-28-109-29-55-23-36-13-19-27-27-46-35-35-20-51-23-114-14-85 45-29 20-22 27-19 27-24 110 17 109 24 55 32 54 21 28 25 27 32 29 28 23zM216 4487l0 4 31-31 21-28 33-33 29-24 29-58 16-103-45-63-29-6-46-13-39-15zM1014 3585l4 0 26-11 35-17 22-46 22-63-51-74-19-35-38-19-32 19-21 54-18 55 13 27 32 82zM434 3257l10 6 114-2 9-4 52-28 30-27 24-16 46-66-9-55-10-27-25-28-29-27-59-47-29-19-57 18-57 23-42 52-15 31-21 51-10 28 11 27 35 82z" fill="#00ff18"/>
<path d="M1549 4569l37 15 115-22 34-20 23-20 34-35 21-27 16-28 0-109-14-53-12-56-45-79-22-31-28-27-36-27-28-18-29-15-29-12-114-12-59 29-43 28-12 9-29 36-6 9-19 82-5 28 2 15 15 94 13 32 12 23 32 54 42 50 57 50 24 10zM216 4460l0 2 28-33 29-30 28-26 29-23 15-27 14-67 6-42-35-49-57-12-57-17zM1002 3557l13 14 32-14 17-27 14-27 22-55-28-41-38-68-19-10-16 10-40 109 34 82zM419 3229l25 21 114 2 44-23 27-27 15-12 29-18 36-52-5-28-9-27-17-27-62-59-58-42-57 20-57 26-22 27-27 55-23 55z" fill="#00ff08"/>
<path d="M1568 4569l18 8 115-24 19-11 38-32 22-23 22-27 13-18 5-10 1-109-25-109-38-67-30-43-27-25-29-22-28-18-58-29-114-11-47 23-44 28-23 17-29 38-25 109 8 54 10 55 7 18 34 64 17 27 23 28 41 41 28 23zM216 4405l0 27 28-33 21-21 32-28 35-27 24-109-26-36-57-9-57-14zM1006 3530l9 27 20-27 17-27 26-55-34-54-29-55-41 109zM435 3229l9 8 114 6 27-14 24-27 35-28 29-15 27-39-8-28-12-27-7-11-21-16-36-37-58-45-66 27-48 25-44 84-11 28z" fill="#08ff00"/>
<path d="M1528 4542l58 27 58-11 57-13 5-3 52-44 33-38 20-28 2-109-24-109-31-55-39-55-18-17-57-41-58-30-114-10-57 29-58 42-21 27-21 82-5 28 19 114 25 50 33 54 23 28 27 27 35 30zM216 4378l0 21 28-31 20-18 35-27 2-5 29-33 16-71-16-22-86-12-28-6zM1010 3503l5 15 11-15 29-55-40-70-26 70zM494 3229l64 5 10-5 19-25 32-30 25-15 29-14 17-25-17-43-29-21-19-18-23-28-44-34-75 34-39 31-39 79 39 92z" fill="#18ff00"/>
<path d="M1544 4542l42 20 58-12 57-15 26-21 31-29 28-32 15-21 5-109-24-109-32-55-40-55-9-9-29-23-28-19-29-17-29-14-114-10-57 30-57 42-15 20-14 47-14 63 18 109 43 82 18 27 21 25 30 30 27 23zM216 4350l0 16 15-16 31-27 11-28 18-27 10-9 29-17 6-28-6-9-114-12zM1014 3475l1 4 18-31-18-31-11 31zM511 3202l47 15 29-36 8-7 41-27 37-15 8-12-8-20-29-19-20-16-26-27-21-28-19-15-33 15-31 28-50 36-22 46 22 53 29 14z" fill="#28ff00"/>
<path d="M1561 4542l25 12 58-12 57-17 28-24 41-41 21-28 7-109-23-109-33-55-41-56-32-26-25-17-58-32-114-10-57 32-28 19-29 24-9 11-20 70-9 40 9 55 10 54 28 55 16 27 32 43 29 30 28 25zM216 4323l0 9 10-9 2-82 6-27-18-2zM523 3174l35 14 12-14 34-27 12-7 51-20-23-13-28-20-24-22-22-27-12-18-28 26-29 23-57 39-6 12 6 14 29 17z" fill="#38ff00"/>
<path d="M1577 4542l9 4 21-4 37-9 57-18 58-55 22-28 10-109-23-109-39-63-36-47-49-37-29-18-29-15-114-10-57 33-28 20-31 27-17 55-13 55 19 109 28 55 16 27 26 35 18 20 39 36zM531 3147l27 12 29-22 34-17-34-26-29-32-37 30-41 28z" fill="#48ff00"/>
<path d="M1533 4514l53 25 58-15 57-20 20-17 27-27 23-28 8-54 5-55-23-109-34-55-43-55-40-31-29-18-29-15-114-9-57 33-51 40-11 28-22 82 20 109 28 55 17 27 19 26 26 29 31 29zM538 3120l20 10 17-10-17-16z" fill="#58ff00"/>
<path d="M1550 4514l36 17 29-7 57-18 29-12 36-34 24-28 16-109-23-109-35-55-18-25-26-30-31-24-58-34-114-9-57 34-42 33-15 32-22 78 21 109 28 55 30 44 29 33 28 27z" fill="#68ff00"/>
<path d="M1566 4514l20 10 58-17 57-23 28-27 22-25 7-30 12-79-23-109-46-70-35-40-37-27-43-25-114-9-57 36-32 25-15 28-10 24-16 58 20 109 29 55 18 27 21 27 26 28 16 14z" fill="#78ff00"/>
<path d="M1583 4514l3 2 29-8 57-21 29-13 40-42 13-54 9-55-23-109-36-55-22-27-25-28-42-30-29-16-114-9-28 17-52 38-16 28-12 27-17 55 21 109 29 55 18 26 22 28 27 28 8 7z" fill="#87ff00"/>
<path d="M1538 4487l48 21 58-19 57-26 30-31 8-27 17-82-23-109-32-49-53-61-39-27-23-13-114-8-34 21-37 27-18 28-13 27-17 55 20 109 30 55 41 54 28 28z" fill="#97ff00"/>
<path d="M1555 4487l31 14 58-21 57-27 20-21 16-54 12-55-23-109-38-55-49-55-53-35-114-7-62 42-19 28-14 27-10 27-9 28 20 109 37 63 29 37 28 30z" fill="#a7ff00"/>
<path d="M1573 4487l13 6 58-21 57-29 10-11 18-54 13-55-23-109-18-28-21-27-36-41-14-14-44-29-114-7-53 36-4 5-16 23-15 27-21 55 21 109 31 54 29 38 28 31z" fill="#b7ff00"/>
<path d="M1525 4460l61 26 58-23 57-31 20-54 14-55-23-109-11-18-29-37-28-32-23-23-35-23-114-6-43 29-14 16-24 39-22 55 20 109 26 45 27 37 30 34z" fill="#c7ff00"/>
<path d="M1543 4460l43 18 46-18 40-20 12-8 17-22 19-60 7-27-5-27-17-82-4-7-15-21-42-50-32-32-26-17-114-6-34 23-23 27-17 28-24 55 20 109 34 55 44 54z" fill="#d7ff00"/>
<path d="M1561 4460l25 10 27-10 31-15 24-13 4-4 18-23 11-18 19-64-19-98-3-11-20-28-34-40-41-42-17-11-114-6-25 17-25 28-18 27-24 55 20 109 15 27 19 28 38 46z" fill="#e7ff00"/>
<path d="M1580 4460l6 3 8-3 58-28 26-27 23-41 12-41-22-109-47-59-29-31-21-20-8-5-114-6-16 11-26 28-19 27-26 55 20 109 10 18 25 37 32 39z" fill="#f7ff00"/>
<path d="M1531 4432l55 23 29-12 20-11 9-6 21-21 19-27 17-37 5-18-23-109-39-50-58-59-114-5-7 4-21 21-26 34-28 55 20 109 5 9 31 46 26 31z" fill="#fff700"/>
<path d="M1549 4432l37 16 33-16 25-19 29-35 15-28 11-27-23-109-32-41-58-60-114-7-28 28-19 25-10 15-19 40 19 109 37 55 20 24 29 10z" fill="#ffe700"/>
<path d="M1568 4432l18 8 29-15 29-24 19-23 16-28 12-27-22-109-25-32-29-32-29-28-114-8-28 29-12 16-17 26-14 29 20 109 17 27 34 45 30 10z" fill="#ffd700"/>
<path d="M1522 4405l64 27 29-18 29-26 28-41 11-24-22-109-46-55-29-29-114-9-34 38-23 37-9 18 20 109 38 55 8 9z" fill="#ffc700"/>
<path d="M1543 4405l43 19 29-20 27-26 19-28 15-27-22-109-47-55-21-21-114-9-27 30-18 27-15 28 19 109 41 57z" fill="#ffb700"/>
<path d="M1564 4405l22 10 15-10 30-27 13-15 24-40-22-109-22-28-38-40-114-10-28 34-27 44 20 109 35 49z" fill="#ffa700"/>
<path d="M1584 4405l4 0 32-27 24-28 16-27-21-109-23-28-30-31-114-11-33 42-16 28 19 109 30 42 86 29z" fill="#ff9700"/>
<path d="M1535 4378l51 19 29-24 29-36 8-14-20-109-46-51-114-11-27 34-17 28 19 109 25 35z" fill="#ff8700"/>
<path d="M1558 4378l28 11 29-27 30-39-21-109-38-43-114-12-21 27-18 28 20 109 19 27z" fill="#ff7800"/>
<path d="M1581 4378l5 2 3-2 26-26 22-29-20-109-31-34-114-13-15 19-18 28 19 109 14 20 27 7z" fill="#ff6800"/>
<path d="M1525 4350l61 21 22-21 21-27-19-109-24-26-114-14-28 40 19 109 9 12z" fill="#ff5800"/>
<path d="M1551 4350l35 12 13-12 22-27-19-109-16-18-114-14-23 32 20 109 3 5z" fill="#ff4800"/>
<path d="M1577 4350l9 4 27-31-18-109-9-10-114-15-17 25 17 99 10 10z" fill="#ff3800"/>
<path d="M1512 4323l74 22 20-22-20-110-114-16-12 17 12 68 22 14 7 7z" fill="#ff2800"/>
<path d="M1542 4323l44 13 12-13-12-69-28 3-12 11zM1470 4241l2 11 29-1 28-5 5-5 5-27-67-10-6 10z" fill="#ff1800"/>
<path d="M1572 4323l14 4 4-4-4-22zM1471 4214l1 7 13-7-13-2z" fill="#ff0800"/>
<path d="M1115 4979l2-109 33-109-8-28-11-27-22-27-8-7-29-16-57-28-114 11-35 12-79 36-29-20-49-43-65-52-26-30-26-55-29-55-10-27-7-27-22-164-38-55-42-51-33-113 16-109 2-110-28-27-14-17-27-38-16-27-5-110 15-27 23-27 10-9 31-19 26-10 114-65 29-11 91-50 23-10 13-18 28-27 16-14 24-13 5-7 28 13 14 21 7 27-3 28-10 27-8 12-14 15-14 23-9 5-13 27 22 26 28 66 36 72 23 55 27 36 114 69 115-20 32-31 68-54 14-28 27-82-8-109-45-82-13-27-18-27-29-37-28-33-86-44-29-13-57 12-28 14-20 18-9 4-26-4-7-27-3-28-1-54 32-110-2-27-6-55-15-67-5-15-14-27-10-14-14-13M2500 4538l-28-8-29-11-28-15-29-21-116 4-84 7-143 20-19-27-9-27-6-28-12-27-8-27-11-55-18-27-15-28-16-35-28-79-25-50-16-27-42-55-60-59-30-23-27-16-28-11-58-17-29-5-62-5-52-7-15 7-42 13-57 22-29 25-28 33-32 43-25 43-15 12-27 27-23 110 18 109 18 36 13 19 16 16 19 66 9 24 18 30 11 13 17 15 11 29 13 26 16 27 21 27 32 28 33 17 28 10 114-4 29 5 29 8 28 12 10 6 19 16 57-40 37-30 20-18 4-10 28-27 25-23 57-47 57 3 29 5 15 7 13 22 29 22 28 40 58 25 85-22 14-5 15-11 28-8 29-8 57-11 29-21 38-23 47-21M2500 3469l-56 34-58 28-19 26-27 55-11 19-25 36 7 27 19 55 14 27 42 29 29-4 85-19M216 3391l22 57-11 27-11 16M1498 2792l-5 109 15 109 21 28 13 27 10 27 7 28 27 42 86 62 29 14 28-9 86-40 114-14 57 10 29 11 9 6 19 18 7 9 79 22 16 6 13 3 28 1 86 0 33-32-14-55-19-49-4-5 29-82 43-137 46-41 114-61M911 4979l11-27 8-8 28-13 57-6 12-28 9-27 24-109-16-18-29-22-28 12-29 18-11 10-6 27-11 34-13 21-16 14-28 7-36 6 24 109M216 4703l34-24 80-74 13-8 16-14 12-14 16-25 0-112 26-54 21-55 0-109-18-28-59-82-26-109 22-109-9-28-14-32-71-50-43-27M1536 4624l50 14 115-16 57-26 43-27 34-27 18-28 14-27 20-55 2-109-31-109-29-55-33-55-20-27-18-19-29-25-28-19-35-19-22-15-29-15-29-12-114-12-57 25-28 15-29 18-29 30-28 37-24 38-16 110 14 109 8 27 22 55 24 44 58 65 30 28 20 27 30 28 34 15 35 12M1009 3667l6 4 22-4 93-26 37-56 15-28 6-109-14-27-16-40-14-42-14-19-115-56-42 20-48 27-24 16-10 12-14 54-11 55 35 89 9 20 17 28 31 39 51 43M430 3339l14 6 14-6 43-13 57-12 58-24 60-33 30-28 21-27 34-55 14-27 42-110-12-27-18-31-29-19-85-66-57-27-58-21-114 23-28 13-29 17-28 20-10 9-19 25-46 84-14 55-12 55 15 54 22 55 23 28 41 42 28 19 43 21M1648 2792l-2 109 24 109 13 28 18 27 100-55 71-32 86-45 28-15 26-17 18-55 13-54M1568 4569l18 8 115-24 19-11 38-32 22-23 22-27 13-18 5-10 1-109-25-109-38-67-30-43-27-25-29-22-28-18-58-29-114-11-47 23-44 28-23 17-29 38-25 109 8 54 10 55 7 18 34 64 17 27 23 28 41 41 28 23 96 45M216 4432l28-33 21-21 32-28 35-27 24-109-26-36-57-9-57-14M1006 3530l9 27 20-27 17-27 26-55-34-54-29-55-41 109 32 82M435 3229l9 8 114 6 27-14 24-27 35-28 29-15 27-39-8-28-12-27-7-11-21-16-36-37-58-45-66 27-48 25-44 84-11 28 46 109M1583 4514l3 2 29-8 57-21 29-13 40-42 13-54 9-55-23-109-36-55-22-27-25-28-42-30-29-16-114-9-28 17-52 38-16 28-12 27-17 55 21 109 29 55 18 26 22 28 27 28 8 7 111 47M1531 4432l55 23 29-12 20-11 9-6 21-21 19-27 17-37 5-18-23-109-39-50-58-59-114-5-7 4-21 21-26 34-28 55 20 109 5 9 31 46 26 31 59 23M1558 4378l28 11 29-27 30-39-21-109-38-43-114-12-21 27-18 28 20 109 19 27 86 28" fill="none" stroke="#334" stroke-opacity="0.6" stroke-width="4" stroke-dasharray="9 9"/>
</g>
</g>
<path d="M32 289.1H239.6V488H32ZM238.6 354.6 L228.8 333.9 L192.9 300.4 L170.8 290.1 L100.8 290.1 L78.7 300.4 L42.8 333.9 L33.0 354.6 L33.0 422.5 L42.8 443.2 L78.7 476.7 L100.8 487.0 L170.8 487.0 L192.9 476.7 L228.8 443.2 L238.6 422.5Z" fill="#fff" fill-rule="evenodd"/>
<rect x="33" y="290.1" width="205.6" height="196.9" fill="none" stroke="#111" stroke-width="1.1"/>
<text x="44.4" y="501.2" font-size="8.3" text-anchor="middle" fill="#181818">-40</text>
<text x="26.7" y="478.7" font-size="8.3" text-anchor="end" fill="#181818">-40</text>
<text x="90.1" y="501.2" font-size="8.3" text-anchor="middle" fill="#181818">-20</text>
<text x="26.7" y="434.9" font-size="8.3" text-anchor="end" fill="#181818">-20</text>
<text x="135.8" y="501.2" font-size="8.3" text-anchor="middle" fill="#181818">0</text>
<text x="26.7" y="391.2" font-size="8.3" text-anchor="end" fill="#181818">0</text>
<text x="181.5" y="501.2" font-size="8.3" text-anchor="middle" fill="#181818">20</text>
<text x="26.7" y="347.4" font-size="8.3" text-anchor="end" fill="#181818">20</text>
<text x="227.2" y="501.2" font-size="8.3" text-anchor="middle" fill="#181818">40</text>
<text x="26.7" y="303.6" font-size="8.3" text-anchor="end" fill="#181818">40</text>
<text x="135.8" y="516.6" font-size="10.4" text-anchor="middle" fill="#181818">X Range (mm)</text>
<text transform="translate(9.9 388.6) rotate(-90)" font-size="10.4" text-anchor="middle" fill="#181818">Y Range (mm)</text>
</g>
<rect x="271.3" y="289.2" width="16.9" height="4.6" fill="#808080"/>
<rect x="271.3" y="480.04" width="16.9" height="3.26" fill="#0008ff"/>
<rect x="271.3" y="477.08" width="16.9" height="3.26" fill="#0018ff"/>
<rect x="271.3" y="474.12" width="16.9" height="3.26" fill="#0028ff"/>
<rect x="271.3" y="471.16" width="16.9" height="3.26" fill="#0038ff"/>
<rect x="271.3" y="468.20" width="16.9" height="3.26" fill="#0048ff"/>
<rect x="271.3" y="465.23" width="16.9" height="3.26" fill="#0058ff"/>
<rect x="271.3" y="462.27" width="16.9" height="3.26" fill="#0068ff"/>
<rect x="271.3" y="459.31" width="16.9" height="3.26" fill="#0078ff"/>
<rect x="271.3" y="456.35" width="16.9" height="3.26" fill="#0087ff"/>
<rect x="271.3" y="453.39" width="16.9" height="3.26" fill="#0097ff"/>
<rect x="271.3" y="450.43" width="16.9" height="3.26" fill="#00a7ff"/>
<rect x="271.3" y="447.47" width="16.9" height="3.26" fill="#00b7ff"/>
<rect x="271.3" y="444.51" width="16.9" height="3.26" fill="#00c7ff"/>
<rect x="271.3" y="441.55" width="16.9" height="3.26" fill="#00d7ff"/>
<rect x="271.3" y="438.59" width="16.9" height="3.26" fill="#00e7ff"/>
<rect x="271.3" y="435.62" width="16.9" height="3.26" fill="#00f7ff"/>
<rect x="271.3" y="432.66" width="16.9" height="3.26" fill="#00fff7"/>
<rect x="271.3" y="429.70" width="16.9" height="3.26" fill="#00ffe7"/>
<rect x="271.3" y="426.74" width="16.9" height="3.26" fill="#00ffd7"/>
<rect x="271.3" y="423.78" width="16.9" height="3.26" fill="#00ffc7"/>
<rect x="271.3" y="420.82" width="16.9" height="3.26" fill="#00ffb7"/>
<rect x="271.3" y="417.86" width="16.9" height="3.26" fill="#00ffa7"/>
<rect x="271.3" y="414.90" width="16.9" height="3.26" fill="#00ff97"/>
<rect x="271.3" y="411.94" width="16.9" height="3.26" fill="#00ff87"/>
<rect x="271.3" y="408.98" width="16.9" height="3.26" fill="#00ff78"/>
<rect x="271.3" y="406.02" width="16.9" height="3.26" fill="#00ff68"/>
<rect x="271.3" y="403.05" width="16.9" height="3.26" fill="#00ff58"/>
<rect x="271.3" y="400.09" width="16.9" height="3.26" fill="#00ff48"/>
<rect x="271.3" y="397.13" width="16.9" height="3.26" fill="#00ff38"/>
<rect x="271.3" y="394.17" width="16.9" height="3.26" fill="#00ff28"/>
<rect x="271.3" y="391.21" width="16.9" height="3.26" fill="#00ff18"/>
<rect x="271.3" y="388.25" width="16.9" height="3.26" fill="#00ff08"/>
<rect x="271.3" y="385.29" width="16.9" height="3.26" fill="#08ff00"/>
<rect x="271.3" y="382.33" width="16.9" height="3.26" fill="#18ff00"/>
<rect x="271.3" y="379.37" width="16.9" height="3.26" fill="#28ff00"/>
<rect x="271.3" y="376.41" width="16.9" height="3.26" fill="#38ff00"/>
<rect x="271.3" y="373.45" width="16.9" height="3.26" fill="#48ff00"/>
<rect x="271.3" y="370.48" width="16.9" height="3.26" fill="#58ff00"/>
<rect x="271.3" y="367.52" width="16.9" height="3.26" fill="#68ff00"/>
<rect x="271.3" y="364.56" width="16.9" height="3.26" fill="#78ff00"/>
<rect x="271.3" y="361.60" width="16.9" height="3.26" fill="#87ff00"/>
<rect x="271.3" y="358.64" width="16.9" height="3.26" fill="#97ff00"/>
<rect x="271.3" y="355.68" width="16.9" height="3.26" fill="#a7ff00"/>
<rect x="271.3" y="352.72" width="16.9" height="3.26" fill="#b7ff00"/>
<rect x="271.3" y="349.76" width="16.9" height="3.26" fill="#c7ff00"/>
<rect x="271.3" y="346.80" width="16.9" height="3.26" fill="#d7ff00"/>
<rect x="271.3" y="343.84" width="16.9" height="3.26" fill="#e7ff00"/>
<rect x="271.3" y="340.88" width="16.9" height="3.26" fill="#f7ff00"/>
<rect x="271.3" y="337.91" width="16.9" height="3.26" fill="#fff700"/>
<rect x="271.3" y="334.95" width="16.9" height="3.26" fill="#ffe700"/>
<rect x="271.3" y="331.99" width="16.9" height="3.26" fill="#ffd700"/>
<rect x="271.3" y="329.03" width="16.9" height="3.26" fill="#ffc700"/>
<rect x="271.3" y="326.07" width="16.9" height="3.26" fill="#ffb700"/>
<rect x="271.3" y="323.11" width="16.9" height="3.26" fill="#ffa700"/>
<rect x="271.3" y="320.15" width="16.9" height="3.26" fill="#ff9700"/>
<rect x="271.3" y="317.19" width="16.9" height="3.26" fill="#ff8700"/>
<rect x="271.3" y="314.23" width="16.9" height="3.26" fill="#ff7800"/>
<rect x="271.3" y="311.27" width="16.9" height="3.26" fill="#ff6800"/>
<rect x="271.3" y="308.30" width="16.9" height="3.26" fill="#ff5800"/>
<rect x="271.3" y="305.34" width="16.9" height="3.26" fill="#ff4800"/>
<rect x="271.3" y="302.38" width="16.9" height="3.26" fill="#ff3800"/>
<rect x="271.3" y="299.42" width="16.9" height="3.26" fill="#ff2800"/>
<rect x="271.3" y="296.46" width="16.9" height="3.26" fill="#ff1800"/>
<rect x="271.3" y="293.50" width="16.9" height="3.26" fill="#ff0800"/>
<rect x="271.3" y="483.0" width="16.9" height="3.9" fill="#000"/>
<line x1="288.2" y1="483.0" x2="291.8" y2="483.0" stroke="#333" stroke-width="0.8"/>
<text x="294.6" y="485.3" font-size="6.5" fill="#151515">5.000E-10</text>
<line x1="288.2" y1="459.3" x2="291.8" y2="459.3" stroke="#333" stroke-width="0.8"/>
<text x="294.6" y="461.7" font-size="6.5" fill="#151515">1.800E-08</text>
<line x1="288.2" y1="435.6" x2="291.8" y2="435.6" stroke="#333" stroke-width="0.8"/>
<text x="294.6" y="438.0" font-size="6.5" fill="#151515">3.550E-08</text>
<line x1="288.2" y1="411.9" x2="291.8" y2="411.9" stroke="#333" stroke-width="0.8"/>
<text x="294.6" y="414.3" font-size="6.5" fill="#151515">5.300E-08</text>
<line x1="288.2" y1="388.2" x2="291.8" y2="388.2" stroke="#333" stroke-width="0.8"/>
<text x="294.6" y="390.6" font-size="6.5" fill="#151515">7.050E-08</text>
<line x1="288.2" y1="364.6" x2="291.8" y2="364.6" stroke="#333" stroke-width="0.8"/>
<text x="294.6" y="366.9" font-size="6.5" fill="#151515">8.800E-08</text>
<line x1="288.2" y1="340.9" x2="291.8" y2="340.9" stroke="#333" stroke-width="0.8"/>
<text x="294.6" y="343.2" font-size="6.5" fill="#151515">1.055E-07</text>
<line x1="288.2" y1="317.2" x2="291.8" y2="317.2" stroke="#333" stroke-width="0.8"/>
<text x="294.6" y="319.5" font-size="6.5" fill="#151515">1.230E-07</text>
<line x1="288.2" y1="293.5" x2="291.8" y2="293.5" stroke="#333" stroke-width="0.8"/>
<text x="294.6" y="295.8" font-size="6.5" fill="#151515">1.405E-07</text>
<text x="280" y="282.8" font-size="10.4" text-anchor="middle" fill="#222">C</text>
<clipPath id="cb1"><polygon points="598.0,354.2 588.2,333.3 552.3,299.7 530.2,289.4 460.2,289.4 438.1,299.7 402.2,333.3 392.4,354.2 392.4,422.2 402.2,443.1 438.1,476.7 460.2,487.0 530.2,487.0 552.3,476.7 588.2,443.1 598.0,422.2"/></clipPath>
<g transform="rotate(0 495.2 388.2)">
<clipPath id="cb1r"><rect x="392.4" y="289.4" width="205.6" height="197.6"/></clipPath>
<g clip-path="url(#cb1r)">
<rect x="392.4" y="289.4" width="205.6" height="197.6" fill="#0008ff"/>
<g transform="scale(.1)">
<path d="M3810 4980l2284 0 0-2196-2284 0zM4952 3341l-2-8 2-22 21 22z" fill="#0018ff"/>
<path d="M3810 4980l2284 0 0-2196-2284 0zM4152 3663l0-2 2 1zM5066 3492l-13-22-23-27-8-28-13-16-18-11-39-9-13-46-3-55-5-27-8-13-28-9-57-4-2-2 2-58 67-24 47-23 6 78 13 27 38 44 57 55 17 66 12 26 22 29zM5180 4877l-2-7 2-2 4 2zM5637 4108l-2-6 2-63 32 8 83 3 38 24 69 28-50 11-57 9-58-5z" fill="#0028ff"/>
<path d="M3810 4980l2284 0 0-2196-2284 0zM4152 3686l-23-24 23-30 38 30zM5066 3559l-15-34-13-23-25-32-32-30-29-22-7-30-18-55-4-27-9-28-19-22-8-5-21-8-28-6-11-14-3-55-4-27-8-27 26-26 114 7 14 19 5 27 8 27 17 28 13 10 29 13 20 4 8 9 9 46 8 28 14 27 10 28 16 29 29 32 28 19 6 2-6 3-82 79zM5180 4920l-11-23-10-27 21-18 24 18-11 27zM5637 4149l-14-47-8-110 22-77 17 22 12 11 23 16 34 16 29 10 28 25 29 20 28 17 29 13 28 19 31 18-31 21-28 11-114 12zM5637 3446l-25-3 25-3 115 0 26 3-26 5z" fill="#0038ff"/>
<path d="M3810 4980l2284 0 0-2196-2284 0zM4152 3709l-28-32-17-15 17-25 28-34 29 16 20 16 24 27-15 15-18 13zM4724 3012l-4-8 4-3 9 3zM5180 4963l-22-38-11-28-7-27 40-34 45 34-8 27-11 28-17 27zM5380 3663l-4-28-8-27-16-22-11-6-18-6-28-4-28-17-14-28-15-8-29-6-29-2-45 44-7 27-14 28-19 22-29 17-15-39-8-28-5-26-17-29-12-17-28-31-29-23-16-66-28-82-13-23-4-5-25-18-28-10-19-27-9-55-8-27-20-27 10-28 17-18 29-11 57 11 57 7 28 39 8 27 21 35 25 20 32 13 11 14 5 28 13 38 8 17 21 27 15 28 13 18 28 27 58 23 48 14 9 31 10-31 104-21 114 9 114-13 229 20 5 5-5 8-114 24-115-6-28 3-29 7-28 22-10 24-6 28-13 15-57 6-18 6-11 10-7 18-5 27-2 27-14 19zM5637 4189l-17-60-10-27-7-55-14-55 20-58 15-52 13-9 28 9 29 33 29 22 29 16 62 39 23 17 29 17 25 21 32 21 57 30 20 4-20 49-5 5-24 8-57 3-142 3-58 7z" fill="#0048ff"/>
<path d="M3810 4980l1345 0-14-28-9-27-11-55 31-28 28-22 28 23 38 27-12 55-10 27-16 28 886 0 0-795-14 26-43 7-57 6-86-13-28-10-114-7-70 17-45 8-5-8-15-55-19-54-5-28-13-47-17-35 22-55 18-55 34-23 74 23 12 12 55 43 42 27 46 25 57 46 28 19 29 16 57 5 57 9 0-1300-2284 0zM4152 3731l-28-34-39-35 16-27 23-31 28-30 18 6 40 20 28 26 23 36-23 29-28 20-29 12zM4495 4434l-6-3 6-12 3 12zM4838 3883l-5-1 5-24zM5380 3719l-28-10-25-19-16-28-16-17-29 11-28 17-29 9-29 5-114-1-28-15-11-9-6-27-11-82-29-40-29-28-25-97-32-78-26-32-31-16-28-39-5-27-8-28-16-30-29-24-8-28-23-27-22-55 25-19 57 14 12 5 16 13 57 20 29 8 57 11 29 38 13 20 15 32 18 22 11 9 28 17 22 29 8 28 11 27 16 28 28 27 20 28 9 10 32 17 54 22 29 10 114-20 114 5 114-9 57 11 172 20 20 16-20 29-57 14-57 17-115-12-28 11-30 23-16 28-40 46-28 14-24 22-14 27-48 63z" fill="#0058ff"/>
<path d="M3810 4980l1304 0-8-55-4-55 21-21 57-45 48 39 38 27-4 55-8 55 840 0 0-745-114 4-114-17-114-5-86 14-29 3-15-23-26-82-11-27-6-28-10-27-12-28-20-27 24-55 20-55 28-23 28-14 57 15 58 20 57 46 28 19 34 19 74 55 35 22 114-3 0-1254-2284 0zM4152 3754l-27-37-30-30-32-25 32-57 20-25 28-27 9-5 58 6 28 11 29 27 5 16 23 32 29 16 20 6-27 28-22 14-27 13-30 19-28 9zM4467 4445l-26-14 24-55 30-41 15 41 10 55-25 27zM4552 3992l57-38 22 10 7 5 18 23-47 14zM4752 3893l-22-11 22-4 29-9 20-14 8-12 7-16 7-27 4-28 11-9 50 9-22 35-5 20-7 55-16 19-57-3zM4838 4873l0-12 2 9zM5266 3775l-18-3-10-9-29-15-57-18-57-12-29-3-28-8-29-13-29-32 4-109-32-37-26-101-19-54-29-55-12-13-28-19-37-51-7-27-11-28-19-27-12-11-29-16-15-28-13-32-17-50 35-28 11-7 45 7 40 10 29 10 28 14 29 11 57 16 29 37 43 67 14 16 28 21 34 45 9 28 14 28 20 27 35 27 2 4 40 24 46 22 29 11 114-16 114 2 114-6 48 14 38 8 144 19 27 21 6 7-34 51-29 7-57 18-28 11-115-17-20 12-27 28-67 78-28 25-86 112-57 8-57 3z" fill="#0068ff"/>
<path d="M3810 4980l1262 0 8-55 4-55 39-39 29-23 28-19 68 54 39 27 4 55 7 55 796 0 0-717-28-4-86-5-114-16-29-1-85-1-115 14-26-39-17-55-41-109-17-28-13-15-7-12 7-24 15-31 22-55 24-27 25-14 28-10 57 13 58 18 42 20 43 33 29 18 114 80 29-3 57-10 28-8 0-1208-2284 0zM4152 3788l-2-16-19-27-23-28-41-37-26-18 12-27 14-28 28-41 13-13 44-22 29 3 57 2 29 4 12 13 8 27 16 28 21 19 12 8 16 8 29 9 5 10-2 110-3 2-171 6zM4438 4460l-29-17-16-12 11-55 5-18 29-70 14-22 15-16 28-21 14 37 25 55 8 110-18 24-29 26-28-9zM4838 4905l-14-35 14-112 24 112-16 27zM5523 4658l-2-8 2-2 3 2zM4238 3450l0-8 29-2 1 3-1 13zM4524 4020l-29-7-9-21 9-26 46-29 68-50 9-5 106-13 40-14 17-13 13-15 13-27 7-28 24-20 85-1 21-6 8-160 5-32-5-6-7-22-19-82-18-55-13-31-13-24-16-23-28-24-46-63-11-33-12-22-17-21-7-6-21-14-31-13-27-74-9-36 38-32 29-19 57 5 57 9 21 9 51 28 42 14 29 36 57 82 33 32 24 31 16 24 12 29 16 26 13 16 28 25 45 14 70 36 114-13 228-4 20 9 66 20 57 10 86 12 22 12 27 28-49 72-57 19-57 24-58-13-57-9-20 17-44 55-50 54-86 112-28 29-57-7-57-2-143-21-29-13-57-17-85 3-29 9-5 17-24 12-19 16-9 11-9 16-10 28-7 27-24 27-7 11-29 4-28 7-15 6-14 10-14 17-10 28-4 4-115 35-57-6z" fill="#0078ff"/>
<path d="M3810 4980l1163 0 8-3 28-17 10-8 19-22 17-33 9-27 26-27 30-28 32-24 28-18 29 25 58 45 28 18 26 9 16 110 757 0 0-690-57-14-171-22-114 1-115 11-36-55-49-133-16-31-34-55 4-28 7-27 10-19 15-36 14-26 28-23 14-6 43-10 86 18 57 20 29 14 24 13 147 103 114-16 0-738-3-8 3-6 0-433-2284 0zM4152 4112l-7-10 7-27 21 27zM4438 4490l-29-11-28-16-20-32-5-55-5-27-11-28 16-110 25-15 57-14 29-11 28-14 18 27 39 87 28 50-11 55-5 55-17 27-23 26-29 21-28-6zM4838 4938l-7-13-20-55 16-110 11-26 22 26 24 110-7 27-11 21-6 7zM5523 4694l-14-44 14-12 16 12zM4152 3868l-16-96-20-27-25-28-24-22-29-21-10-12 10-52 16-30 18-27 52-23 28-16 29 1 29-4 21-13-9-28 3-27 13-19 29-8 11 27-1 27-10 27-4 1 4 2 5 25 25 28 13 27 14 18 10 10 18 13 29 13 14 28 5 55 6 28 3 10 11 17-11 11-28 16-114 8-57 16-29 16-18 16zM4495 4061l-10-14-12-28-9-27 17-55 14-30 37-25 20-5 29-4 143-17 28-14 19-15 10-11 10-16 11-28 36-31 28-4 29-9 16-11 16-27 6-28 11-109-21-84-4-26-9-28-15-37-29-52-18-20-10-8-55-75-11-27-16-28-32-29-60-25-17-55-11-55 30-28 29-21 29-18 114 0 57 25 57 32 4 10 25 30 55 80 59 68 28 41 13 28 16 23 28 29 95 30 20 10 128-10 100-3 114 1 57 26 29 9 57 12 86 13 28 13 15 11 14 16 7 12-36 50-28 44-57 21-29 14-28 18-115-28-36 46-48 54-18 28-64 82-12 28-22 23-7 4-21 9-29-12-28-7-285-45-58 7-57 13-14 8-15 12-13 15-15 27-10 28-27 27-20 29-29 9-30 17-23 28-32 31-115 32zM4381 3340l-17-7 17-19 4 19z" fill="#0087ff"/>
<path d="M3810 4980l1056 0-28-9-22-46-18-55 18-110 10-27 12-24 42 51 25 110 3 27 8 28 7 11 29 14 29-19 6-6 25-28 16-27 42-27 28-28 25-21 29-20 23-14 5-1 4 1 31 28 34 27 46 33 28 6 29 10 11 6 12 110 719 0 0-663-28-13-29-9-28-6-143-20-114 4-115 9-31-43-16-28-19-55-19-46-17-36-30-55-18-27-3-83-11-27-7-4-29-6-28-2-29-20-28-12-40-11-74-15-172-27-57 10-57 17-17 15-12 13-23 42-29 27-33 47-29 15-60 48-25 30-86 24-29 7-57 10-39 12 11 9 14 18 12 27 12 55 19 38 41 72-23 55-13 55-13 27-21 30-28 25-29 16-57-8-29-6-28-9-29-43-18-32-10-35-9-20-19-27-29-23-3-5 3-24 10-31 14-55 4-4 29-24 28-15 57-21 29-14 29-18 17-13-22-28-10-27-9-55 10-55 30-82 12-10 29 8 16 2 69 2 115-15 28-18 22-24 15-28 49-42 28-8 29-17 13-15 12-28 14-109-11-44-12-66-16-44-19-38-16-28-22-23-29-42-35-45-12-27-20-28-18-16-29-14-61-24-16-83-3-27 28-28 23-19 57-36 86-8 29-5 37 13 48 21 29 15 20 47 42 55 36 55 47 54 20 28 35 58 28 33 51 19 64 19 114-10 114-4 114 6 86 34 29 9 114 19 28 9 29 19 7 8 14 28-50 70-28 45-52 22-34 20-28 21-115-23-54 64-12 28-19 29-29 28-20 25 2 28 5 27 13 20 10-20 19-13 28-7 57-4 86 15 29 7 57 23 28 14 29 16 48 31 66 46 114-9 0-663-17-32-9-28 26-49 0-390-2284 0zM4152 4132l-21-30 13-55 8-19 29 29 13 17 16 26 0 3-29 21zM5523 4729l-13-24-8-27-5-28 26-23 29 23-7 28-10 27zM4152 3939l-9-30-11-54-10-83-21-27-27-28-36-29-21-26 14-82 7-28 64-27 50-28 29-2 21-25 8-16 2-11 20-28 6-4 29-3 11 7 9 28 1 27-6 28 8 27 25 28 18 27 19 19 29 18 24 45 4 33 6 22 12 28 11 14 18 13-8 28-10 11-29 10-142 15-40 19-17 11-18 16-17 27zM4352 3338l-3-5 3-8 19-19 10-5 4 5 6 27-10 15z" fill="#0097ff"/>
<path d="M3810 4980l1013 0-23-55-15-55 12-55 12-69 15-41 14-20 20 20 23 28 19 27 27 110 13 27 12 15 29-27 11-15 17-16 29-18 28-12 41-36 40-28 33-10 21 10 65 54 29 20 57 8 28 10 26 18 8 110 680 0 0-638-41-21-73-23-114-13-143 9-86 3-24-31-34-55-27-73-30-64-30-55-20-27-4-28-9-27-21-28-29-13-57-37-29-12-57-15-57-12-143-22-57 13-28 10-29 12-29 35-7 14-32 27-18 21-28 45-66 44-28 28-20 29-100 26-15 37-4 17-6 55 39 66 18 44-8 28-10 26-14 28-15 23-10 32-13 28-21 27-13 11-27 17-30 7-114-2-7-5-22-32-31-51-27-55-27-35-23-47 3-110 0-27-3-28 23-5 28-15 24-7 62-10 32-17 6-55 4-83 6-55 5-27-25-23-28-10-114 17-27 16-30 59-29 39-11 12 11 8 19 19 10 11 11 17 17 31 10 24 0 27-10 24-86-1-34-50 2-28 10-55 13-27-10-28-12-55-9-82-4-55-41-46-29-24-32-40 7-54 10-55 15-14 57-25 29-15 28-21 29-7 18-28 11-12 11-16 17-11 29-5 22 16 8 28 2 27-2 28 11 27 44 52 29 22 33 63 6 28 9 27 9 16 9 12 20 16 24 11 13 28 20 21 28 13 29 7 28 4 115-17 34-28 18-28 33-30 32-25 25-10 22-17 7-8 11-20 11-54 7-55-12-55-9-55-22-55-33-55-10-11-50-71-23-28-14-27-23-28-4-4-29-14-57-24-35-12-3-28-4-82 13-18 42-37 15-11 27-17 31-16 64-11 7-27 7-83-992 0zM5523 4764l-6-4-19-27-7-28-6-55 38-34 29 20 13 14-13 59-10 24zM4352 3348l-11-15 11-25 29-13 11 11 4 27-15 23zM5956 3909l24 17 114-3 0-589-5-1-23-22-3-5-10-28-8-55 23-55 26-37 0-347-1131 0-11 48-29 21-14 14-22 27 66 27 26 55 9 28 50 68 26 42 46 54 53 83 17 20 29 12 86 29 54-6 60-10 114-4 114 12 115 42 74 15 68 11 29 10 9 6 20 27 7 28-21 27-38 55-34 53-29 13-28 16-29 20-28 26-115-19-24 28-7 28-11 27-16 28-27 27 28 10 143 19 29 6 28 9 29 10 57 27 28 18 21 11z" fill="#00a7ff"/>
<path d="M3810 4980l994 0-11-28-8-27-13-55 19-82 9-55 7-28 14-27 17-18 44 45 21 28 17 27 29 110 3 5 29-37 28-19 29-10 28-7 16-14 41-30 57-16 38 18 48 40 29 21 114-1 22 23 7 27 12 82 6 28 638 0 0-613-38-18-51-28-25-8-114-13-114 11-115 2-28-35-29-45-11-22-21-55-38-82-15-29-37-53-9-28-17-27-33-28-47-30-57-25-29-8-86-19-114-16-57 16-57 27-21 28-33 27-32 36-27 47-30 17-14 10-14 11-29 30-11 14-17 29-29 28-19 25-10 17-17 38 26 55 16 55-5 28-13 54-22 55-17 28-25 23-23 32-91 22-114 8-39-30-18-28-29-51-15-31-32-55-25-55-7-110-6-9-21-18-8-4-29-8-9-16-39-54-1-110-8-220-28-31-29-25-23-26-20-28 5-54 8-55 31-28 59-27 26-15 28-23 29-11 28-34 29-19 29-5 28 18 5 6 9 55 2 28 15 27 26 30 29 26 42 81 8 28 13 27 24 28 45 27 21 28 18 12 29 13 28 7 115-17 18-15 21-28 62-55 13-10 31-17 24-28 12-54 9-55-19-112-23-53-16-27-56-83-43-55-17-27-16-19-16-9-70-31-29-11-46-12 10-55 4-55 19-28 29-27 41-30 46-25 12-23 22-32 6-12 14-43-956 0zM5523 4793l-28-6-29-27 6-55 1-55 50-44 29 16 26 28-7 55-7 28-10 27-2 4zM4381 3363l-29-5-18-25 12-27 6-6 29-12 18 18 3 27zM4302 4047l79 13 6-13 8-28 5-27-6-110-13-8-49 8-37 38-28 25-25 47 17 27 8 17zM5959 3882l21 15 114 3 0-544-57-3-28-4-23-16 23-29 7-26 7-55 6-27 9-28 13-27 18-27 25-60 0-270-1109 0-25 110 21 39 16 43 7 28 34 46 41 64 44 54 34 55 23 32 58 24 57 19 57-8 57-13 114-3 114 16 57 20 58 23 57 12 57 10 57 2 28 4 20 27 3 55-22 27-39 55-47 73-57 34-37 30-10 28-10 21-86 3-29 6-4 25-9 27 13 3 115 13 57 17 57 23 39 27z" fill="#00b7ff"/>
<path d="M3810 4980l974 0-15-55-10-55 22-87 10-78 6-27 16-28 6-54 13-28 6-5 5 33 13 54 50 55 19 28 16 27 11 43 29-12 13-3 15-3 57-5 29-22 28-11 57-13 29 11 26 15 31 26 29 21 57-8 28-9 5-2 24-21 28-27 5-7 10-28 6-27 3-28 62-55 29 14 18 14 22 27-6 83-4 27-18 28-12 13-29 21-28 12-10 9-15 27 12 55 15 55 597 0 0-588-35-16-79-41-68-14-46-5-47 5-67 14-115 3-7-17-22-27-36-55-14-28-22-55-41-90-30-47-22-27-13-28-21-24-29-26-28-18-57-27-57-16-58-13-114-16-28 8-29 11-28 14-29 18-5 7-36 27-27 28-18 23-28 47-29 18-26 22-26 27-19 28-14 81-20 28 13 55 7 45 0 54-8 176-50 8-57 3-85 21-86 12-57 12-34-29-37-27-15-25-30-58-11-27-28-55-23-55-12-82-7-28-32-20-28-44-34-45-7-55-6-28-13-27 6-28 7-55 3-54 1-83-55-55-23-27-20-28 10-109 28-28 17-12 32-15 54-31 28-24 29-11 15-17 42-27 29-6 28 14 14 19 4 28 13 55 19 27 24 28 12 11 38 71 13 27 10 28 16 27 9 10 22 18 45 27 18 19 12 9 45 19 115-18 28-30 57-52 29-23 11-6 17-13 13-15 15-54 10-55-16-110-25-55-25-39-8-16-38-55-44-55-24-34-58-29-57-24-57-10-29-12 15-28 10-27 11-55 14-28 8-11 28-26 24-18 44-27 8-27 11-28 16-27 12-14 6-14-920 0zM4352 3368l-11-7-14-28 13-27 12-13 29-12 25 25 1 27-17 28-9 10zM5942 3855l38 18 114 4 0-500-28 6-29 10-26 22-13 28-18 10-29 38-85 128-29 17-35 26-4 28-7 27-10 28-20 27 48 12 57 19 28 22zM5813 3333l53 11 28-4 27-7 36-27 22-28 13-27 8-28 15-82 10-27 33-83 13-27 23-28 0-192-1088 0-21 110 22 55 14 55 57 82 16 28 42 54 44 72 29 13 86 32 57-11 57-15 114-4 29 7 85 14 57 19 58 22z" fill="#00c7ff"/>
<path d="M3810 4980l955 0-13-65-6-45 9-27 20-83-1-82-2-28-12-27-8-11-18-16-10-6-29-9-29-5-57-5-28 7-143 26-29 8-28 11-57-50-46-32-11-20-25-63-38-82-22-55-11-55-18-55-35-55-42-54-5-28-8-27-13-28-12-15-3-12 3-27 10-28 12-55 7-110-57-58-38-52 6-109 25-28 35-26 57-29 29-18 28-22 29-12 42-30 15-8 29-7 28 9 9 6 15 27 2 28 3 12 19 43 9 13 29 33 48 91 24 55 14 20 28 26 60 36 39 28 15 6 115-18 28-30 29-26 85-70 9-27 20-82-9-55-6-55-12-28-32-54-14-28-13-19-28-40-42-51-15-21-65-34-50-21-57-5-28-5-29-12-4-11 4-13 12-15 17-29 26-81 15-27 16-16 61-39 6-55 5-27 8-28-851 0zM4352 3378l-25-17-9-28 15-27 19-19 29-14 7 5 21 22 3 6 1 27-16 28-16 17zM5537 4952l25 28 185 0 5-2 5 2 171 0-20-55-28-55 14-11 29-14 28-10 29-6 29 14 28 27 12 27 17 21 7 7 21 13 0-521-57-25-57-29-57-7-57-10-57 11-57 8-115 7-11-23-10-28-22-27-14-21-19-34-14-28-33-82-26-55-22-35-14-20-23-27-18-28-26-27-37-28-53-25-86-25-29-7-114-16-57 23-39 23-18 6-28 21-29 29-21 26-36 57-29 20-28 26-28 35-21 109 6 83 6 55 4 27 7 27 26 54 28 29 29 15 3 12 13 28 12 55 8 27 11 27 45 55 22 38 57 10 57 5 29-13 28-9 57-10 22 7 36 17 57 44 28-6 29-11 27-17 35-27 19-28 10-27 6-28 74-65 29 10 28 19 8 9 17 27 1 55 4 55-11 28-19 27-28 23-29 13-21 19 21 69zM5979 3855l115-3 0-453-36 16-21 19-7 9-50 29-29 38-28 41-34 57-23 31-34 23 5 72 9 38 20 6 28 25 29 20zM5777 3306l32 6 57 18 28-14 29-19 19-19 20-27 15-28 4-109 31-83 11-27 19-28 23-27 29-27 0-138-1066 0-18 110 16 55 11 55 58 82 13 28 41 54 31 56 59 27 56 21 57-13 57-19 114-4 54 15 60 12 29 8 86 30z" fill="#00d7ff"/>
<path d="M3810 4980l935 0-12-110 18-55 13-55-2-27-4-28-8-27-26-37-19-18-39-19-28-9-29-5-30 6-84 12-28 6-30 9-28 11-28 14-57-52-57-42-14-13-15-39-19-44-14-27-34-82-19-62-11-76-36-55-42-54-8-28-17-35-6-20-7-27 13-99 7-38 8-83-54-55-18-23-20-32 2-109 21-28 34-27 20-12 29-14 85-54 29-12 27-18 30-16 29-8 28 2 9-5 3-28 19-27 26-26 29-15 19 13 9 10 9 18-1 27-13 28-23 24-39 3-11 27 1 28 20 43 29 33 15 34 29 55 39 82 31 34 114 69 29-4 86-15 60-57 68-55 19-54 14-55-13-110-12-28-32-54-14-28-18-27-72-92-29-16-60-30-26-11-85 3-29 3-8-22-7-27 15-51 17-32 11-27 4-28 7-27 18-31 29-18 22-6-18-55-26-55-749 0zM5625 4925l12 16 29-9 28-4 58-4 28-12 17-15 12-18 3-9 8-55 13-27 4-5 29-16 28 5 57 5 29 2 29-2 28-3 29-7 28-20 0-297-28-20-86-38-114-8-229 22-16-30-20-55-20-27-32-55-24-55-30-76-29-51-28-38-24-27-21-28-41-36-30-19-27-13-86-24-29-7-114-16-28 12-41 21-45 16-29 23-28 29-11 14-46 70-29 22-19 18-23 28-21 109 12 110 6 28 9 27 14 27 22 24 29 27 7 32 11 27 10 19 7 9 16 55 11 27 14 27 22 28 16 25 29 16 28 10 57 12 29-10 28-6 57-7 29 8 29 12 28 19 29 23 28-9 22-11 64-48 19-34 9-28 86-76 29 7 29 15 28 31 9 23 6 55 5 28 9 27-5 28-6 27-14 28-4 5-29 19-8 3 29 27zM5962 3827l18 10 86-6 28-4 0-406-32 22-53 32-29 15-45 63-31 55-38 51-5 3 5 18 12 65 8 27 33 28zM5730 3278l22 8 57 7 57 12 28-18 38-36 19-28-9-109 38-119 9-19 17-27 22-28 28-27 38-20 0-90-1045 0-14 110 11 55 7 55 13 20 8 7 21 25 17 30 11 28 21 27 18 27 18 33 29 21 29 14 57 23 57-16 57-22 114-5 57 20 86 21z" fill="#00e7ff"/>
<path d="M3810 4980l916 0-5-110 18-55 15-55-5-27-8-28-17-31-29-23-29-20-15-8-42-14-115 14-56 19-57 25-29-22-28-27-65-50-27-27-22-53-29-57-29-75-7-35-16-110-36-55-44-54-11-28-23-82 12-83 9-109 4-28-30-27-29-34-15-21-16-28-2-109 18-28 15-16 29-22 57-29 85-52 29-11 29-18 28-13 12-3 45-22 2-6 27-34 28-27 29-16 28 18 3 4 12 28-2 27-11 28-25 27-5 9-29 11-5 7-3 28 8 18 29 33 25 59 32 61 21 48 17 28 19 21 114 69 29-4 86-15 46-44 69-55 21-54 15-55-10-110-45-82-13-28-26-37-57-70-56-30-58-28-58 7-28 8-25 13-4 4-16-32-7-27-3-27 26-90 10-20-5-83-5-17-8-65-7-27-11-28-659 0zM5287 4760l8 7 16-7 40-27 58-47 16-36 59-54 39-33 31 5 26 7 29 19 15 29 7 27 6 36 57 24 58 14 57-8 54-11 117-1 29-19 35-35 50-33 0-124-16-7-41-25-34-30-23-11-114 1-114 5-44 5-71 16-28-54-7-17-9-27-6-28-19-27-30-55-15-35-17-48-25-54-34-55-22-28-50-55-32-27-20-13-26-15-31-11-86-20-114-16-42 20-74 27-27 23-29 32-39 55-16 28-30 25-27 30-23 109 16 110 9 28 14 27 11 16 29 26 19 68 9 21 27 34 9 27 21 50 29 45 15 15 14 11 28 16 57 18 29-6 85-8 29 7 29 10 13 7 15 9zM5948 3800l32 19 114-16 0-361-57 36-57 30-29 40-32 60-38 54 13 60 7 23 11 27zM5851 3278l15 2 36-29 23-28-9-55-14-54 49-150 28-70 115-61 0-49-1024 0-10 110 11 110 24 23 21 32 13 27 9 28 37 54 5 11 62 44 53 22 57-17 57-26 114-10 29 9 28 14 12 8 74 20 86 27z" fill="#00f7ff"/>
<path d="M3810 4980l899 0 2-110 33-110-8-27-11-28-22-27-8-7-29-16-57-28-114 11-35 12-22 12-57 24-29-20-49-43-65-52-26-30-31-66-24-44-10-28-7-27-22-165-38-55-44-54-31-110 16-110 2-110-28-27-14-17-27-38-16-28-5-109 15-28 23-27 10-9 31-19 26-10 114-65 29-12 29-16 15-6 47-28 23-10 13-17 28-28 16-14 24-13 5-7 28 13 14 21 7 28-3 27-10 28-22 27-14 23-9 4-13 28 22 26 36 84 21 40 30 69 27 37 114 69 115-20 32-31 68-55 14-27 27-82-8-110-45-82-13-28-40-55-35-42-86-44-29-13-57 12-28 14-20 18-9 5-26-5-7-27-3-28-1-54 32-110-2-28-6-55-15-68-5-14-14-27-10-14-14-14-614 0 0 602 22 57-11 27-11 16zM5276 4733l19 16 24-16 70-55 20-18 4-10 28-27 25-23 57-47 57 3 29 5 15 7 13 22 29 22 28 40 29 14 29 11 85-22 14-5 15-11 28-8 57-14 29-5 29-21 38-23 47-22 0-9-28-8-29-11-28-15-29-21-116 4-84 7-143 20-19-27-9-28-6-27-12-28-8-27-11-55-18-27-31-63-26-75-31-62-12-20-42-55-29-27-26-28-35-27-27-16-28-12-29-9-58-13-62-5-52-7-15 7-80 27-19 9-29 25-19 21-41 55-25 43-15 12-27 28-23 109 18 110 18 37 13 18 16 16 19 66 9 25 18 30 11 13 17 15 11 29 13 26 16 27 29 35 24 20 33 17 28 11 114-5 58 13zM5977 3800l14 0 46-8 57-14 0-314-56 34-58 29-19 26-27 55-36 54 7 28 19 55 14 27zM5739 3251l13 4 114 0 33-32-14-55-19-49-4-5 20-55 52-165 46-41 114-61 0-8-1002 0-5 110 15 110 21 27 13 28 10 27 7 28 27 42 29 22 57 40 29 14 28-9 86-40 114-14 57 10 29 11 9 6 19 18 7 9z" fill="#00fff7"/>
<path d="M3810 4980l882 0 6-55 3-55 32-110-9-28-17-27-12-14-29-21-57-24-114 8-47 24-67 26-42-26-62-55-38-27-28-28-20-27-27-55-34-55-6-43-5-67-13-110-38-55-43-54-30-110 17-110-5-110-27-27-21-28-17-27-15-28-3-46-3-8-17-28-9-8-28-16-9-3-20-15-28 0zM5248 4705l18 6 29 16 57-42 40-35 17-7 57-54 57-47 24-1 5-4 14-24 6-27 4-55-12-55-6-55-17-27-14-28-32-93-35-71-23-35-38-48-60-55-44-31-59-24-56-14-114-10-72 24-42 19-11 9-27 27-48 63-28 49-27 26-25 109 16 83 6 27 16 28 14 17 10 37 18 55 13 28 19 27 25 23 8 5 26 55 15 27 9 10 28 23 29 19 28 13 114 5zM5964 3772l16 11 29-5 57-14 28-4 0-274-28 17-86 42-6 8-25 55-34 54 9 28 23 55zM4592 3745l17 10 115-20 50-45 35-28 28-54 18-55-6-110-11-22-29-49-18-39-10-15-30-40-27-32-115-57-28 7-29 12-28 18-29 13-28 1-29 6-5 5 2 55-3 27-9 28-35 54-7 28 47 110 39 82 10 27 18 25zM3860 3525l7 12 57 1 6-13 18-27 32-28 30-14 28-9 53-32 61-32 29-11 22-11 46-28 46-22 32-33 25-22 10-5 19-26 28-9 22-20 9-28 6-54 21-62 13-48-3-28-10-56-18-53-11-25-22-30-36-28-532 0-10 13-22 42-6 17 0 471 5 6 44 110zM5697 3223l55 16 57-3 57-6 7-7-7-22-7-5-25-28-15-27-10-27 28-64 23-46 29-110 62-58 29-23 54-29-921 0 0 110 20 110 14 27 5 14 11 41 4 28 13 19 29 23 86 61 57-28 57-24 114-20 86-4 28-5 7 5 26 27 16 28z" fill="#00ffe7"/>
<path d="M3810 4980l865 0 10-55 6-55 32-110-13-27-20-28-35-27-17-9-29-11-57 6-28 5-29 9-62 27-52 18-34-18-37-27-25-28-18-14-29-18-28-22-23-28-17-27-18-35-33-48-16-27 3-110-11-110-40-55-17-20-23-34-30-110 17-110-4-55-8-55-25-27-19-28-22-38-29-18-14-26-14-18-29-23-27-14zM5293 4705l2 1 28-21 41-35 45-19 28-28 74-62 12-52 18-31 8-27-6-110-20-37-22-73-36-82-34-55-22-29-23-26-34-27-31-28-26-18-57-27-58-16-114-10-50 16-64 28-29 28-43 54-19 28-23 43-13 12-25 109 9 47 16 63 13 19 9 36 19 57 10 25 14 28 22 27 11 10 27 18 9 27 13 28 20 27 17 15 57 32 38 8 134 13 28 5zM5971 3745l9 14 57-10 57-5 0-236-89 45-25 19-16 36-31 54 18 47zM4568 3717l41 25 115-20 28-26 41-34 30-54 13-28 9-27-3-110-33-55-25-55-60-78-115-55-28 9-86 42-28 6-19 21-11 55-8 28-30 54-7 28 46 110 29 60 20 49 8 12zM3922 3498l3 0 23-28 33-20 57-18 57-33 57-27 28-11 47-28 59-27 9-6 22-22 31-27 33-44 19-11 9-9 11-19 10-27 5-27 36-110-11-55-8-28-24-54-17-28-30-29-35-26-460 0-19 19-25 36-32 73 0 385 30 36 55 135zM5751 3223l3 0 2-109 53-130 31-90 54-51 71-59-831 0 6 110 12 60 19 77 13 83 82 62 29 20 59-28 55-22 151-32 77-30 57 10 29 10 15 10 6 27z" fill="#00ffd7"/>
<path d="M3810 4980l849 0 13-55 9-55 14-55 17-55-17-29-23-26-34-23-29-13-53 9-32 9-57 27-56 19-30 8-29-12-40-24-17-13-14-14-14-18-13-10-16-8-29-19-28-28-18-27-11-21-45-61-31-55 7-28 8-54 2-28-10-110-45-60-34-49-23-86-6-24 18-110-7-55-5-27-8-28-22-27-27-42-68-41-24-27-22-17zM5217 4678l78 6 42-34 43-17 29-14 55-51 34-27 9-28 12-55 4-27 6-110-6-10-30-100-27-61-27-48-19-28-21-27-26-28-21-17-16-10-41-34-57-29-58-18-114-11-57 21-57 26-29 29-28 34-29 41-27 51-26 109 25 97 1 13 7 28 20 64 19 45 17 28 21 24 29 21 9 10 10 27 15 28 23 25 29 19 28 13 29 10 57 11 28 3zM4589 3717l20 13 115-21 57-50 29-51 25-55-2-110-24-38-4-17-18-27-11-28-52-68-115-55-57 24-57 29-28 12-3 3-12 28-17 55-26 55-6 27 46 110 18 37 28 71zM5976 3717l4 7 114 5 0-200-46 24-68 52-30 57zM3912 3443l12 17 29-21 28-12 57-11 52-28 91-41 24-14 63-27 27-17 41-38 22-28 23-34 20-21 14-27 46-137-6-28-17-53-30-56-27-32-57-43-13-8-388 0-28 23-27 32-16 28-42 85 0 315 31 39 25 27zM5285 3168l10 7 114-48 58-13 28-11 28-14 57-21 57-25 52-12 34-16 13-11 16-20 35-90 60-55 64-55-755 0 10 110 14 60 16 105 13 47 3 8z" fill="#00ffc7"/>
<path d="M3810 4980l100 0 14-13 16 13 702 0 18-55 10-55 30-110-18-27-28-28-16-11-29-15-57 14-28 12-29 21-19 7-95 27-29-10-38-17-19-12-28-26-32-17-27-28-34-27-22-29-24-26-15-27-18-25-18-30-28-55 13-28 5-16 9-38 4-28-8-110-34-44-28-43-17-22-12-46-16-64 19-110-4-27-13-55-10-28-21-27-12-19-107-64-7-6zM3924 4777l-7-17 7-5 101 5-72 14zM5098 4650l25 8 57 11 86-3 29-3 15-13 42-15 57-29 28-26 47-39 11-27 8-28 11-55 4-110-34-110-24-55-23-40-28-41-21-28-28-28-39-27-36-28-52-27-53-19-114-10-57 21-57 28-29 30-27 32-30 44-21 39-7 64-11 45 11 43 7 67 7 28 14 44 15 38 13 27 29 40 29 23 19 20 12 27 18 28 8 8 29 23 28 14zM4564 3690l45 27 115-21 39-34 18-26 16-28 26-55 0-28 4-27-5-55-13-22 0-6-7-27-22-27-11-28-45-58-115-54-70 30-52 27-20 16-16 39-8 28-22 54-7 28 81 193 23 26zM5983 3690l26 9 28 6 57 8 0-162-114 87-13 24 13 27zM3914 3388l10 22 29-5 85-4 57-29 57-24 30-15 66-27 47-28 30-27 41-55 15-27 20-28 32-82 18-55-16-55-13-28-41-61-57-45-47-31-289 0-35 12-29 14-30 29-27 40-23 42-34 70 0 247 32 40 49 55zM5276 3141l19 13 98-40 16-9 57-22 57-30 143-63 23-14 27-27 15-28 10-27 11-17 39-38 65-55-679 0 13 137 18 110 18 55 14 28z" fill="#00ffb7"/>
<path d="M4143 4952l9 9 6 19 467 0 13-28 9-27 19-81 23-84-21-27-31-28-28-16-57 18-28 16-29 27-35 10-74 28-10 0-24-9-33-19-24-11-28-18-29-6-28-10-16-10-13-12-9-15-11-28-9-9-36-18-22-27-10-28-6-27-17-28-23-44-9-38 23-55 9-27 6-28-7-110-22-29-28-43-27-37-15-55-13-55 20-110-13-55-9-28-13-27-16-22-57-37-57-33 0 1141 12-6 16-12 12-15 12-28 41-27 21-18 86-11 28-6 29 8 28 23 3 4 10 27-3 55-6 55 9 27 13 28zM5135 4650l45 10 58-5 57-8 57-22 55-29 30-28 33-27 23-55 13-55 3-110-33-110-25-55-52-82-22-27-25-24-29-21-18-10-10-9-28-19-29-16-29-12-29-10-114-11-57 22-53 27-33 34-28 34-29 43-14 27-13 109 12 110 15 52 11 30 12 28 15 27 19 27 58 55 14 28 21 28 22 18 28 17 57 17zM4585 3690l24 14 115-21 24-21 36-54 27-55 1-28 8-27-3-28-5-27-3-5-2-23-9-27-17-22-20-33-37-48-115-55-57 25-44 23-13 8-23 20-5 6-9 21-7 28-20 54-6 28 12 27 9 28 21 44 1 11 15 27 12 31 18 24 26 27zM6059 3690l35 7 0-112-28 23-74 54 17 10 28 12zM3934 3361l19 10 28 7 29 5 28 2 57-27 131-52 52-28 34-27 40-52 35-58 14-27 40-110-8-28-25-55-27-36-57-48-57-39-41-14-171 0-17 4-57 18-57 29-29 33-16 26-57 110-12 67 0 92 11 60 69 83 26 27 8 19zM5268 3114l27 20 48-20 66-36 57-26 57-36 57-22 57-25 29-19 27-29 17-27 13-27 17-28 12-16 43-39-601 0 6 110 18 110 18 55 13 27z" fill="#00ffa7"/>
<path d="M4208 4952l3 28 396 0 2-1 14-27 15-37 39-155-23-27-16-15-29-18-28 9-29 13-17 11-11 8-19 19-10 22-28 11-86 26-57-10-29-9-19-12-9-10-29 14-22 23-14 28-7 27zM3810 4733l0 26 57-35 28-22 29-27 29-7 51-18 6-4 17-23 9-27 7-55-12-28-8-27-10-55 33-82 8-28-5-110-77-109-27-110 20-110-12-48-14-34-16-28-113-70zM5173 4650l7 2 115-14 39-15 54-27 21-14 47-41 15-28 11-27 16-55 3-110-33-110-27-55-52-82-23-27-14-13-18-15-44-27-24-18-28-16-29-13-29-11-114-11-57 23-36 18-21 13-29 30-28 35-29 45-8 15-14 109 9 83 4 27 9 32 31 78 26 42 68 68 18 30 22 25 35 24 7 3 50 16zM4606 3690l3 2 115-21 9-9 20-27 33-55 20-27 3-46 3-9-3-21-4-62-11-27-70-93-115-55-57 25-57 33-28 30-8 33-17 54-5 28 6 27 11 28 13 22 3 33 23 27 16 28 22 27 29 27zM6039 3662l27 11 28 8 0-61zM3998 3361l40 9 57-26 29-11 28-7 52-20 63-31 32-24 25-29 19-26 47-82 22-55 19-55-10-28-12-27-16-28-12-15-17-12-40-34-57-41-57-22-42-13-37 0-93 19-57 22-26 14-31 22-5 6-24 33-54 104-22 110 17 82 8 27 51 62 29 31 57 38zM5272 3086l23 27 152-82 44-27 32-16 57-22 35-17 22-13 29-27 12-15 16-42 7-13 22-36 15-19-528 0 4 110 19 110 22 55z" fill="#00ff97"/>
<path d="M4264 4980l292 0 25-17 28-11 13-27 16-47 28-118-28-29-29-21-28 11-29 15-28 23-11 29-18 32-87 23-84 12-29 8-16 7-12 72zM3810 4705l0 25 38-25 34-27 42-41 29-12 28-23 22-34 9-27-10-55-5-55 13-27 31-83-4-110-36-55-40-54-26-110 21-110-18-55-14-29-57-40-57-35zM5101 4623l51 15 28 6 115-14 57-25 17-9 40-26 33-29 24-42 16-41 7-27 3-110-32-110-13-27-48-82-19-27-28-31-31-25-46-27-43-28-23-11-29-11-114-12-57 24-57 32-31 33-22 28-34 55-9 54-6 55 13 110 18 55 24 55 18 29 23 26 55 55 18 27 27 28 20 14zM4581 3662l28 17 86-16 29-8 33-47 46-55 5-55-1-55-4-28-12-27-18-27-49-56-115-56-85 42-29 19-21 23-20 82-11 28 5 27 19 36 6 47 77 82zM6085 3662l9 4 0-10zM3986 3333l24 12 28 10 51-22 63-16 58-23 57-30 18-13 10-9 29-35 26-39 29-54 42-110-11-28-29-51-29-20-85-66-57-24-58-19-114 23-46 20-39 24-29 24-21 34-43 83-25 110 13 54 18 55 47 55 28 28zM5275 3059l20 27 142-79 86-43 36-15 50-27 28-19 9-9 20-66 21-44-461 0 1 110 22 110 11 27z" fill="#00ff87"/>
<path d="M4455 4980l50 0 11-28 8-8 28-12 29-5 28-2 12-28 9-27 24-110-16-17-29-23-28 13-29 18-11 9-6 28-11 33-13 22-16 14-64 13zM3810 4678l0 24 34-24 80-74 13-8 16-14 12-14 16-25 0-112 29-61 18-49 0-110-37-55-40-54-26-110 22-110-9-27-14-33-71-50-43-27zM5130 4623l50 14 115-16 57-26 43-27 34-27 18-28 14-27 20-55 2-110-31-110-29-55-33-54-20-28-18-19-44-36-94-55-34-14-114-13-60 27-54 32-29 30-28 37-24 39-16 109 11 93 11 45 22 54 24 44 58 66 30 28 20 27 30 28 34 15zM4603 3662l6 4 22-4 35-1 29-6 29-19 54-56 3-6 18-21 6-28 2-27 0-28-6-55-30-54-19-23-7-5-21-23-17-4-41-25-15-3-42-19-57 27-57 35-10 12-7 28-10 27-1 21-18 34 5 27 13 24 8 59 24 27 53 53 9 2 20 17zM4024 3333l14 6 14-6 43-13 65-14 50-22 57-30 33-31 24-31 31-51 14-27 42-110-12-28-18-31-29-19-85-66-57-27-58-21-114 23-57 29-28 21-10 9-19 25-46 85-14 55-12 55 15 54 22 55 23 28 41 42 28 20zM5277 3031l18 27 100-54 71-33 57-31 29-13 54-33 18-55 13-55-395 0-2 110 24 110z" fill="#00ff78"/>
<path d="M4607 4897l2 1 11-28 10-55 13-55-34-30-28 15-23 15-1 28-5 44-2 11-10 27 12 9 29 13zM3810 4650l0 24 28-22 57-58 33-26 25-29 8-53 4-55 28-55 22-55 3-110-37-55-41-54-16-70-17-40 10-28 7-13 13-69-13-35-114-81zM5158 4623l22 6 115-17 37-16 20-11 27-17 36-27 22-31 14-24 22-55 2-110-32-110-29-55-32-54-30-37-29-26-28-20-99-55-16-6-114-13-57 26-57 33-29 31-28 39-17 28-10 54-8 55 6 49 9 61 19 55 29 59 18 23 49 55 31 28 22 27 23 21 57 23zM4572 3635l9 8 28 17 29 0 28-2 29-10 18-13 11-2 52-53 5-10 15-17 7-28 3-27-2-55-5-28-31-54-16-20-11-8-17-19-31-8-27-21-35-7-22-10-28 13-45 25-41 27-6 28-18 27-4 36-12 19 4 27 8 14 5 41 6 28 23 27 51 50zM3998 3306l40 19 29-9 57-12 28-4 58-26 57-31 21-20 22-27 35-55 15-27 7-28 13-27 21-55-20-40-25-15-39-28-50-41-57-29-58-23-114 23-30 16-40 27-22 27-19 28-30 55-29 110 8 27 19 50 16 32 22 28 26 27zM5295 3031l85-45 29-9 56-28 98-55 15-27 21-55 8-28-349 0-4 110 25 110z" fill="#00ff68"/>
<path d="M4607 4870l3 0 21-110-22-19-33 19 6 55 8 28zM3810 4623l0 21 17-21 26-27 42-37 26-18 3-5 9-23 7-27 9-55 30-55 23-55 6-110-55-79-24-30-5-23-18-32-11-26-8-29 8-30 10-25 19-34 4-21-4-11-65-44-49-36zM5103 4596l77 26 115-18 57-29 49-34 23-28 16-27 14-28 10-27 2-111-31-109-14-27-48-82-21-26-29-28-41-29-102-54-114-13-57 28-57 33-29 32-39 57-10 54-8 60 14 105 21 55 28 55 44 55 26 27 32 28 24 27 11 10zM4581 3635l28 23 57-4 37-19 21-4 50-51 7-14 11-13 9-28 4-27-3-55-5-28-17-27-14-27-14-17-15-11-13-15-36-12-22-17-57-12-57 29-41 27-15 28-22 27-7 45-6 10 3 27 3 5 6 50 8 28 14 16 7 11 50 48zM4026 3306l12 5 57-12 57-8 58-27 57-32 28-32 23-32 32-54 14-55 17-28 10-27-10-21-29-16-27-18-30-22-39-33-75-39-29-11-114 22-44 28-24 27-20 28-34 55-21 67-11 43 11 31 36 78 21 28 29 27zM5294 3004l29-22 11-6 46-15 29-5 86-46 25-16 19-27 13-23 26-60-303 0-8 110z" fill="#00ff58"/>
<path d="M4600 4788l9 25 11-53-11-9-15 9zM3810 4596l0 2 29-30 33-27 26-28 18-27 8-16 10-39 31-55 25-55 8-110-45-65-29-38-20-6-9-14-16-41-13-55 13-55 10-28 14-27-41-27-52-38zM5126 4596l54 18 113-18 59-31 34-24 23-24 21-31 26-55 2-110-31-110-29-55-34-54-12-16-29-29-28-22-25-16-90-46-114-13-57 28-54 31-32 35-32 48-20 109 15 110 22 55 15 32 14 23 44 55 28 28 29 24 28 30zM4585 3635l24 20 29 0 28-4 27-16 31-6 48-49 9-18 8-9 11-28 4-27-1-28-2-27-6-28-32-54-11-14-19-14-9-10-29-14-12-3-17-13-28-7-29-3-37 23-20 2-28 25-26 28-21 27-6 27-4 28 0 27 8 55 8 28 12 13 9 14 48 45zM4005 3278l33 20 57-10 57-6 58-27 53-32 32-38 29-42 17-29 3-28 8-38 7-17 22-26 0-2-57-33-29-20-35-29-37-27-42-22-29-12-114 22-19 12-25 27-22 28-37 55-19 55-15 55 10 27 36 82 24 28zM5294 2949l58-10 57-4 74-41 15-27 25-34 25-49-257 0-10 110z" fill="#00ff48"/>
<path d="M5149 4596l31 10 115-19 57-32 20-14 37-39 11-16 28-55 1-110-30-110-45-82-18-27-25-28-36-31-38-24-77-38-114-14-57 29-41 23-16 11-36 44-18 28-7 27-14 82 3 28 12 82 31 73 22 37 36 45 28 30 42 35 15 16 29 16zM3810 4541l0 12 57-49 15-18 18-28 14-27 10-10 29-49 24-51 12-110-65-89-60-20-12-55-6-55 12-83 8-27-41-27-15-12zM4589 3635l20 17 29 0 28-4 22-13 36-8 46-47 28-55 4-27 0-28-3-27-6-28-32-54-9-11-23-17-5-6-29-16-17-5-12-10-28-7-29-1-24 18-33 4-52 51-20 27-8 27-4 28 0 27 8 55 10 28 9 10 11 17 46 43zM4027 3278l11 7 51-7 63-5 58-28 36-22 21-16 30-39 35-54 2-55 3-28 8-27-50-31-85-66-29-18-29-13-85 16-29 8-43 49-21 27-18 28-12 27-20 58-7 25 47 109 26 28zM5294 2894l1 2 28 8 29 5 57 5 36-20 25-55 18-27 25-28-182 0-4 28-7 27-10 28z" fill="#00ff38"/>
<path d="M5171 4596l9 3 115-21 57-33 34-32 23-27 17-28 13-27 2-110-30-110-45-82-14-21-31-34-26-22-29-20-22-13-64-30-114-14-57 28-28 16-29 20-29 34-19 29-22 109 16 110 23 55 31 54 46 56 28 27 35 28 5 6 57 30zM3810 4513l0 6 38-33 19-23 21-32 36-34 12-21 28-55 5-27 10-83-55-76-57-16-43-17 4-220-18-13zM4592 3635l17 14 29 0 28-4 17-10 41-10 44-45 28-55 5-27-3-55-7-28-15-27-24-35-28-22-29-18-22-7-7-6-28-8-29 1-17 13-40 6-50 49-19 27-9 27-5 28 4 55 5 27 11 28 19 27 44 40zM4009 3251l29 20 114-7 58-29 19-12 38-30 28-37 27-42-6-83-9-27-40-27-32-28-36-28-47-29-57 14-57 20-28 32-34 46-24 55-19 55 47 109zM5399 2867l10 18 13-46 15-36 11-19-69 0 11 55z" fill="#00ff28"/>
<path d="M5124 4568l56 23 115-22 48-28 30-28 24-27 12-15 22-40 1-110-23-85-5-25-29-55-23-36-13-18-27-28-35-27-39-24-29-15-29-12-114-14-57 28-28 17-29 20-22 27-19 28-24 109 17 110 19 46 37 64 21 27 25 28 32 29 28 23zM3810 4486l0 4 31-32 26-33 28-28 29-24 29-58 13-76 3-28-45-62-75-20-39-15zM4596 3635l13 11 29 1 28-5 12-7 46-12 42-43 29-55 5-27-3-55-8-28-14-27-23-32-57-42-57-18-29 3-10 7-47 8-48 47-9 15-10 12-10 27-5 28 4 55 5 27 12 28 19 27 42 38zM4028 3251l10 7 114-3 9-4 52-28 30-27 24-16 46-66-9-55-10-28-54-55-59-47-29-18-57 17-57 23-42 53-15 31-28 70-3 9 46 109z" fill="#00ff18"/>
<path d="M5143 4568l37 15 115-22 34-20 23-20 34-35 23-30 14-25 0-110-14-53-12-57-45-79-22-30-28-28-36-27-28-18-58-28-114-11-59 29-26 16-29 21-15 18-20 28-24 109 17 110 13 32 44 78 47 55 52 44zM3810 4458l0 2 57-63 28-26 29-22 15-28 14-67 6-43-35-49-29-5-57-14-28-10zM4600 3635l9 8 29 1 28-5 6-4 52-14 40-41 29-55 6-27-4-55-8-28-13-27-20-27-30-26-29-19-29-10-6 0-22-7-86 18-28 25-18 19-11 19-7 8-11 27-5 28 0 27 3 28 6 27 13 28 18 27 40 35zM4013 3223l25 21 114 2 44-23 27-27 15-12 29-18 36-52-5-28-9-27-17-28-58-55-33-26-29-20-57 20-57 26-22 28-14 27-21 45-15 38z" fill="#00ff08"/>
<path d="M5162 4568l18 8 115-24 19-11 38-32 22-23 35-45 5-10 1-110-25-110-31-55-18-27-19-27-27-26-29-22-28-18-58-29-114-11-47 23-44 28-23 17-29 38-25 109 8 55 10 55 7 18 19 37 32 55 35 41 29 28 28 23zM3810 4403l0 27 28-33 21-21 67-55 24-110-26-35-86-16-28-8zM4603 3635l6 5 29 2 57-14 29-9 38-39 29-55 6-27 0-28-3-27-9-28-13-27-20-27-28-24-29-20-29-9-17-2-11-4-18 4-11 0-57 13-28 25-16 17-17 27-13 27-5 28 0 27 9 55 14 28 18 27 10 10 28 22 29 15zM4029 3223l9 8 114 6 27-14 24-27 35-28 29-15 27-39-8-28-12-27-7-11-21-17-26-27-32-28-36-26-66 26-48 26-17 29-27 55-11 28z" fill="#08ff00"/>
<path d="M5122 4541l58 27 58-11 57-13 5-3 34-28 28-27 18-21 25-34 2-110-24-110-31-54-19-28-20-27-18-18-57-41-58-30-114-10-57 29-58 42-21 28-21 82-5 27 19 115 25 50 33 55 28 33 22 22 35 30zM3810 4376l0 21 28-30 29-26 26-20 2-5 29-33 16-72-16-22-44-5-70-12zM4607 3635l2 2 29 2 57-12 29-10 36-37 30-55 6-27-4-55-9-28-12-27-19-25-28-25-29-19-29-10-28-4-57 8-29 8-43 40-29 54-6 28 0 27 4 28 6 27 13 28 19 27 36 30 29 16zM4088 3223l64 5 10-5 19-25 32-30 25-15 29-14 17-25-17-43-29-22-19-18-23-27-44-35-57 25-18 10-39 30-39 80 39 92z" fill="#18ff00"/>
<path d="M5138 4541l42 19 58-11 57-15 26-21 31-29 43-53 5-110-24-110-32-55-21-30-28-34-29-23-28-19-29-17-29-14-114-10-21 10-47 28-46 35-15 20-16 54-12 55 18 110 25 50 36 60 51 55 27 23zM3810 4349l0 15 28-28 18-15 11-28 18-27 10-10 29-17 6-28-6-8-114-12zM4619 3635l19 2 28-4 58-18 34-35 30-55 7-27-4-55-21-55-18-23-28-25-29-20-29-10-28-3-29 2-28 5-29 9-41 38-30 54-6 28 4 55 6 27 14 28 19 27 34 28 29 16 28 11zM4105 3196l47 15 29-36 8-7 41-27 37-15 8-12-8-20-29-19-20-16-26-28-21-27-19-15-33 15-52 44-29 20-22 46 22 53 29 14z" fill="#28ff00"/>
<path d="M5155 4541l25 12 57-12 58-17 28-24 29-28 33-41 7-110-23-110-33-55-41-56-32-26-25-17-58-32-114-10-57 32-38 27-19 16-9 12-16 54-13 55 9 56 10 54 28 55 16 27 32 44 57 55zM3810 4321l0 9 10-9 2-82 6-28-18-1zM4555 3608l26 15 28 10 29 2 28-4 29-7 29-11 32-33 17-27 14-28 7-27-1-28-4-27-9-28-12-27-16-22-28-25-29-19-29-10-28-4-29 2-28 6-29 9-39 36-30 54-7 28 4 55 7 27 13 28 20 27zM4117 3168l35 14 12-14 34-27 40-20 23-7-23-13-21-15-31-27-34-46-52 46-33 24-29 18-6 13 6 14 29 17z" fill="#38ff00"/>
<path d="M5171 4541l9 4 21-4 37-9 57-19 31-27 27-28 22-27 10-110-23-110-34-55-41-54-21-18-28-20-29-18-29-15-114-10-57 33-28 20-31 28-17 54-13 55 19 110 28 55 16 27 20 28 35 38 28 26zM4557 3608l24 14 28 10 29 1 28-3 29-7 29-12 30-31 17-27 14-28 7-27 0-28-4-27-21-55-15-20-28-25-29-20-29-10-28-4-57 8-29 10-37 34-31 54-6 28 0 27 3 28 7 27 13 28 21 27zM4125 3141l27 12 29-23 34-16-34-26-29-32-37 30-41 28z" fill="#48ff00"/>
<path d="M5127 4513l53 25 58-15 57-20 28-25 42-47 8-55 5-55-23-110-34-55-26-35-17-19-35-28-63-37-114-9-57 33-51 41-11 27-22 82 20 110 13 28 32 54 19 27 55 56zM4559 3608l22 12 28 11 29 1 28-3 29-7 29-13 28-29 18-27 13-28 8-27-1-28-4-27-5-16-15-39-14-18-28-26-29-19-29-11-28-3-29 2-28 5-29 11-35 32-32 54-6 28 0 27 4 28 7 27 13 28 21 27zM4132 3114l20 10 17-10-17-16z" fill="#58ff00"/>
<path d="M5144 4513l36 17 58-16 57-21 36-35 24-27 16-110-23-110-25-40-28-40-29-32-28-22-58-34-114-9-65 40-34 28-15 32-22 77 21 110 28 55 30 45 29 32 28 27zM4561 3608l20 11 28 10 29 2 28-3 29-8 28-12 29-30 17-25 13-28 8-27-1-28-4-27-9-28-11-27-13-16-28-26-29-19-29-11-28-4-29 2-28 6-29 12-33 29-32 54-7 28 0 27 4 28 7 27 13 28 20 25z" fill="#68ff00"/>
<path d="M5160 4513l20 9 58-17 28-10 29-13 50-51 7-31 12-79-23-110-46-69-35-40-37-28-43-25-114-9-57 36-28 22-4 4-15 27-10 24-16 58 20 110 29 55 24 36 15 19 26 27 16 15zM4564 3608l17 10 28 10 29 1 28-3 29-7 29-14 25-25 18-27 14-30 8-25-1-28-4-27-21-55-11-15-28-26-29-19-29-11-28-4-29 2-28 6-28 12-32 28-18 27-15 27-7 28 1 27 3 28 8 27 12 28 22 27z" fill="#78ff00"/>
<path d="M5177 4513l3 2 58-18 57-25 40-41 13-55 9-55-23-110-36-55-22-27-25-27-38-28-33-19-114-8-44 27-36 28-16 27-12 27-17 55 21 110 13 28 34 54 22 28 35 35zM4566 3608l15 8 28 11 29 1 28-3 29-7 29-14 23-24 19-27 15-33 6-22 0-28-6-31-19-51-10-13-28-26-29-19-29-12-28-4-29 3-28 5-29 13-29 26-18 27-15 27-7 28 0 27 3 28 8 27 13 28 17 22 28 24z" fill="#87ff00"/>
<path d="M5132 4486l48 21 58-19 57-26 30-31 8-28 17-82-23-110-37-55-52-58-35-24-23-13-114-8-34 21-37 28-18 27-13 27-17 55 20 110 30 55 41 55 28 28zM4568 3608l13 7 28 10 29 2 28-3 29-8 19-8 10-6 28-31 12-18 17-37 5-18-1-28-4-27-20-55-9-11-28-27-29-19-29-12-28-3-29 2-28 6-22 9-7 4-28 25-18 26-15 27-7 28 0 27 4 28 7 26 13 29 16 20 28 24z" fill="#97ff00"/>
<path d="M5149 4486l31 13 58-20 57-27 20-21 16-55 12-55-23-110-38-55-44-50-29-22-29-17-114-8-24 15-38 28-19 27-14 27-19 55 20 110 15 28 22 35 29 38 28 30zM4570 3608l11 6 28 10 29 2 28-4 29-7 16-7 13-8 20-20 19-27 18-41 4-14-1-28-3-20-11-35-11-27-7-9-28-27-29-19-29-12-28-4-29 2-28 6-29 13-28 26-16 24-15 27-8 28 0 27 4 28 6 22 14 33 15 18 28 25z" fill="#a7ff00"/>
<path d="M5167 4486l13 6 29-10 57-25 29-16 10-10 18-55 13-55-23-110-18-28-21-27-36-41-14-13-41-28-117-9-53 37-4 5-16 22-15 27-21 55 21 110 31 54 29 39 28 30zM4572 3608l37 15 29 1 28-3 29-7 13-6 16-9 28-32 10-14 19-45 3-10-3-41-12-42-11-27-6-8-28-27-31-20-27-11-28-4-29 2-28 6-29 14-28 26-15 22-15 27-8 28 0 27 4 28 5 18 16 37 13 16 28 25z" fill="#b7ff00"/>
<path d="M5119 4458l61 26 58-22 57-31 20-55 14-55-23-110-40-55-51-54-35-24-114-6-43 30-14 16-24 38-22 55 20 110 15 28 38 54 30 34zM4575 3608l34 13 29 2 28-3 40-12 18-11 28-32 8-12 21-49 0-40-13-49-11-27-33-33-34-22-24-10-28-4-29 3-28 6-29 13-28 27-14 20-15 29-8 26 4 55 21 55 12 15 13 12 15 13z" fill="#c7ff00"/>
<path d="M5137 4458l43 19 58-24 40-22 17-23 19-59 7-28-5-27-17-83-19-27-23-28-48-52-29-20-114-6-34 24-23 26-17 28-24 55 20 110 34 55 44 54zM4577 3608l32 12 29 2 28-3 37-11 21-13 15-15 13-17 7-10 22-53 0-23-7-34-7-28-12-27-31-32-38-23-20-8-28-4-29 2-28 6-29 14-28 27-12 18-17 33-6 22 0 27 3 28 22 55 24 27z" fill="#d7ff00"/>
<path d="M5155 4458l25 11 58-25 24-13 4-4 29-42 12-36 7-28-19-98-3-12-54-68-41-41-17-12-114-6-25 18-25 27-18 27-24 55 20 110 15 27 19 28 38 47zM4579 3608l30 11 29 1 28-3 34-9 24-15 13-13 21-27 22-55-2-28-6-27-7-28-11-27-30-31-41-24-17-7-28-4-29 2-28 6-29 15-18 16-21 27-18 38-5 17 0 27 4 28 21 55 25 27z" fill="#e7ff00"/>
<path d="M5174 4458l6 3 66-30 26-28 23-41 12-41-22-110-47-59-29-30-29-26-114-5-16 11-26 27-19 27-26 55 20 110 16 28 19 27 32 39zM4582 3608l27 10 29 1 28-3 31-8 27-16 28-33 16-34 9-27-1-28-5-27-7-28-11-27-29-29-44-26-14-6-28-4-29 3-31 7-26 13-16 15-21 27-20 42-4 13 0 27 4 29 21 54 26 27z" fill="#f7ff00"/>
<path d="M5125 4431l55 23 49-23 30-28 19-27 13-27 9-28-23-110-39-50-58-59-114-5-34 32-20 27-28 55 20 110 17 28 19 27 26 32zM4585 3608l24 8 29 2 28-3 28-7 30-18 10-10 21-27 20-55-1-28-11-55-12-27-27-28-47-27-11-4-28-4-29 2-28 6-29 15-14 13-22 27-24 55 0 27 3 21 23 62 6 8 28 26z" fill="#fff700"/>
<path d="M5143 4431l37 15 33-15 25-19 28-34 16-29 11-28-23-110-45-55-45-45-114-7-26 25-21 27-10 16-19 39 19 110 37 55 20 24zM4589 3608l20 7 29 2 28-4 23-5 35-20 28-33 21-57-1-28-5-27-6-28-9-22-28-30-50-30-8-3-28-4-29 2-22 5-35 16-13 12-21 27-23 50 0 44 4 16 20 55 33 32z" fill="#ffe700"/>
<path d="M5162 4431l18 7 17-7 12-8 29-24 19-23 16-27 12-28-22-110-46-55-37-37-114-8-18 18-22 27-17 27-14 28 20 110 17 28 34 44 30 10zM4593 3608l16 6 29 1 28-3 18-4 40-21 28-34 11-28 8-27-1-28-4-27-6-28-8-19-34-35-52-30-28-4-29 2-17 4-40 18-11 10-22 27-24 54 0 31 6 25 19 55 32 31z" fill="#ffd700"/>
<path d="M5116 4403l64 28 29-18 29-27 26-37 13-28-22-110-46-55-29-29-114-8-34 37-32 55 20 110 18 28 28 36zM4596 3608l13 4 29 2 28-3 13-3 45-23 28-37 17-50-1-28-4-27-5-28-7-16-28-31-9-7-49-29-28-4-40 5-46 20-28 30-27 60 0 27 15 55 10 28 27 27z" fill="#ffc700"/>
<path d="M5137 4403l43 19 29-20 27-26 19-27 15-28-22-110-47-55-21-20-114-10-27 30-33 55 19 110 41 57zM4600 3608l9 3 29 2 28-3 8-2 50-25 28-39 8-19 7-27-1-28-4-27-5-28-5-12-28-32-29-20-33-18-24-3-29 2-57 22-30 34-22 55 0 27 6 28 17 55 29 28 29 14z" fill="#ffb700"/>
<path d="M5158 4403l22 10 29-21 29-31 24-40-22-110-47-55-13-12-114-10-28 33-27 44 20 110 18 28 17 22zM4604 3608l5 2 29 1 31-3 55-26 28-41 13-43-1-28-8-55-4-9-28-32-16-13-42-23-13-5-15-2-29 2-28 13-29 10-29 32-20 55 0 27 5 28 16 52 28 28 29 15z" fill="#ffa700"/>
<path d="M5178 4403l4 0 32-27 24-28 16-27-21-110-53-59-114-11-28 35-21 35 19 110 30 42 29 9zM4607 3608l31 2 24-2 62-28 16-27 12-16 5-12 6-27-4-55-4-28-3-6-17-21-30-27-39-20-28-9-13 1-16 4-57 20-28 36-18 50-1 27 19 75 6 8 29 27 22 11z" fill="#ff9700"/>
<path d="M5129 4376l51 20 29-25 29-36 8-14-20-110-46-50-114-12-28 36-16 26 19 110 25 35zM4617 3608l33 0 45-18 22-10 7-5 13-22 15-20 8-35 0-28-8-58-28-33-29-23-57-22-29 6-28 11-29 8-28 39-15 45-1 27 11 55 5 14 10 14 30 27 17 8 28 18z" fill="#ff8700"/>
<path d="M5152 4376l28 11 29-26 30-40-21-110-38-42-114-12-21 27-18 27 20 110 20 28zM4637 3608l29-9 46-19 12-11 9-16 19-24 2-4 4-27 0-28-6-55-28-33-29-24-57-20-29 6-57 16-28 44-12 39-1 27 10 55 3 9 14 19 31 27 40 22z" fill="#ff7800"/>
<path d="M5175 4376l5 2 3-2 27-27 21-28-20-110-31-34-114-13-33 47 19 110 14 20 29 8zM4574 3580l35 18 29 5 28-8 40-15 18-16 6-11 22-28 4-27 0-28-4-41-5-14-20-27-32-28-57-18-29 5-28 8-20 6-9 6-28 42-10 34 0 27 10 59 18 24z" fill="#ff6800"/>
<path d="M5119 4349l61 20 22-20 21-28-19-110-24-26-114-13-28 39 19 110 9 13zM4578 3580l31 13 29 5 57-16 5-2 24-21 23-34 5-14 2-13 0-28-2-27-9-28-19-27-29-24-57-18-57 12-10 3-19 13-8 14-21 27-6 28-1 27 9 55 21 28z" fill="#ff5800"/>
<path d="M5145 4349l35 11 13-11 22-28-19-110-16-17-114-15-23 32 20 110 3 5zM4586 3580l23 9 29 5 55-14 31-26 18-29 10-27 0-29-5-26-9-28-14-21-6-6-23-18-17-9-40-11-57 10-29 20-23 35-9 28-1 27 3 28 8 27 22 30z" fill="#ff4800"/>
<path d="M5171 4349l9 3 4-3 23-28-18-110-9-9-114-15-17 24 17 100 10 10 76 21zM4597 3580l12 5 29 4 42-9 15-7 23-20 19-28 8-27 1-28-5-27-8-28-9-13-13-14-16-13-29-15-28-6-29 4-28 9-29 20-18 28-11 28-1 27 2 17 11 38 21 28 25 19z" fill="#ff3800"/>
<path d="M5106 4321l74 22 20-22-20-111-114-16-12 17 12 69 22 14 7 7zM4607 3580l31 4 28-4 29-13 16-14 13-15 7-13 8-27 0-28-3-27-8-28-4-6-20-21-9-7-46-20-11-3-29 4-28 11-21 15-8 8-12 19-9 28-3 27 13 55 11 17 11 11 18 13z" fill="#ff2800"/>
<path d="M5136 4321l44 13 12-13-12-69-28 3-12 11zM5064 4239l2 10 29 0 28-5 5-5 5-28-67-9-6 9zM4571 3553l10 7 57 19 28-11 29-7 29-31 8-32 1-28-2-27-7-25-29-32-57-18-57 11-29 25-7 11-5 28-2 27 8 55 6 10z" fill="#ff1800"/>
<path d="M5166 4321l14 4 4-4-4-22zM5065 4211l1 8 13-8zM4578 3553l60 7 57-5 13-30 16-15 2-12-2-61-22-22-7-10-19-17-10-3-28-3-57 4-31 29-2 55 3 55 1 3z" fill="#ff0800"/>
<path d="M4973 4980l8-3 28-17 10-8 19-22 17-33 9-27 26-27 30-28 32-24 28-18 29 25 58 45 28 18 26 9 16 110M4838 4938l-7-13-20-55 16-110 11-26 22 26 24 110-7 27-11 21-6 7-22 13M5523 4694l-14-44 14-12 16 12-16 44M4438 4490l-29-11-28-16-20-32-5-55-5-27-11-28 16-110 25-15 57-14 29-11 28-14 18 27 39 87 28 50-11 55-5 55-17 27-23 26-29 21-28-6-29-9M6094 4290l-57-14-171-22-114 1-115 11-36-55-49-133-16-31-34-55 4-28 7-27 10-19 15-36 14-26 28-23 14-6 43-10 86 18 57 20 29 14 24 13 147 103 114-16M4152 4112l-7-10 7-27 21 27-21 10M4495 4061l-10-14-12-28-9-27 17-55 14-30 37-25 20-5 29-4 143-17 28-14 19-15 10-11 10-16 11-28 36-31 28-4 29-9 16-11 16-27 6-28 11-109-21-84-4-26-9-28-15-37-29-52-18-20-10-8-55-75-11-27-16-28-32-29-60-25-17-55-11-55 30-28 29-21 29-18 114 0 57 25 57 32 4 10 25 30 55 80 59 68 28 41 13 28 16 23 28 29 95 30 20 10 128-10 100-3 114 1 57 26 29 9 57 12 86 13 28 13 15 11 14 16 7 12-36 50-28 44-57 21-29 14-28 18-115-28-36 46-48 54-18 28-64 82-12 28-22 23-7 4-21 9-29-12-28-7-285-45-58 7-57 13-14 8-15 12-13 15-15 27-10 28-27 27-20 29-29 9-30 17-23 28-32 31-115 32-114 6M4152 3868l-16-96-20-27-25-28-24-22-29-21-10-12 10-52 16-30 18-27 52-23 28-16 29 1 29-4 21-13-9-28 3-27 13-19 29-8 11 27-1 27-10 27-4 1 4 2 5 25 25 28 13 27 14 18 10 10 18 13 29 13 14 28 5 55 6 28 3 10 11 17-11 11-28 16-114 8-57 16-29 16-18 16-11 13M4381 3340l-17-7 17-19 4 19-4 7M6094 3231l-3-8 3-6M4709 4980l2-110 33-110-8-27-11-28-22-27-8-7-29-16-57-28-114 11-35 12-22 12-57 24-29-20-49-43-65-52-26-30-31-66-24-44-10-28-7-27-22-165-38-55-44-54-31-110 16-110 2-110-28-27-14-17-27-38-16-28-5-109 15-28 23-27 10-9 31-19 26-10 114-65 29-12 29-16 15-6 47-28 23-10 13-17 28-28 16-14 24-13 5-7 28 13 14 21 7 28-3 27-10 28-22 27-14 23-9 4-13 28 22 26 36 84 21 40 30 69 27 37 114 69 115-20 32-31 68-55 14-27 27-82-8-110-45-82-13-28-40-55-35-42-86-44-29-13-57 12-28 14-20 18-9 5-26-5-7-27-3-28-1-54 32-110-2-28-6-55-15-68-5-14-14-27-10-14-14-14M6094 4537l-28-8-29-11-28-15-29-21-116 4-84 7-143 20-19-27-9-28-6-27-12-28-8-27-11-55-18-27-15-28-16-35-26-75-31-62-12-20-42-55-29-27-26-28-35-27-27-16-28-12-29-9-58-13-62-5-52-7-15 7-80 27-19 9-29 25-19 21-41 55-25 43-15 12-27 28-23 109 18 110 18 37 13 18 16 16 19 66 9 25 18 30 11 13 17 15 11 29 13 26 16 27 21 27 32 28 33 17 28 11 114-5 23 4 35 9 28 13 10 6 19 16 28-19 66-52 20-18 4-10 28-27 25-23 57-47 57 3 29 5 15 7 13 22 29 22 28 40 29 14 29 11 85-22 14-5 15-11 28-8 57-14 29-5 29-21 38-23 47-22M6094 3464l-56 34-58 29-19 26-27 55-36 54 7 28 19 55 14 27 39 28 14 0 46-8 57-14M3810 3386l22 57-11 27-11 16M5092 2784l-5 110 15 110 21 27 23 55 7 28 27 42 54 40 40 27 21 9 28-9 86-40 114-14 57 10 29 11 9 6 19 18 7 9 108 32 114 0 33-32-14-55-19-49-4-5 20-55 52-165 46-41 114-61M4505 4980l11-28 8-8 28-12 29-5 28-2 12-28 9-27 24-110-16-17-29-23-28 13-29 18-11 9-6 28-11 33-13 22-16 14-64 13 24 110M3810 4702l34-24 80-74 13-8 16-14 12-14 16-25 0-112 29-61 18-49 0-110-37-55-40-54-26-110 22-110-9-27-14-33-71-50-43-27M5130 4623l50 14 115-16 57-26 43-27 34-27 18-28 14-27 20-55 2-110-31-110-29-55-33-54-20-28-18-19-44-36-94-55-34-14-114-13-60 27-54 32-29 30-28 37-24 39-16 109 11 93 11 45 22 54 24 44 58 66 30 28 20 27 30 28 34 15 35 12M4603 3662l6 4 22-4 35-1 29-6 29-19 54-56 3-6 18-21 6-28 2-27 0-28-6-55-30-54-19-23-7-5-21-23-17-4-41-25-15-3-42-19-57 27-57 35-10 12-7 28-10 27-1 21-18 34 5 27 13 24 8 59 24 27 53 53 9 2 20 17 22 10M4024 3333l14 6 14-6 43-13 65-14 50-22 57-30 33-31 24-31 31-51 14-27 42-110-12-28-18-31-29-19-85-66-57-27-58-21-114 23-57 29-28 21-10 9-19 25-46 85-14 55-12 55 15 54 22 55 23 28 41 42 28 20 43 20M5242 2784l-2 110 24 110 13 27 18 27 100-54 71-33 57-31 29-13 54-33 18-55 13-55M5162 4568l18 8 115-24 19-11 38-32 22-23 35-45 5-10 1-110-25-110-31-55-18-27-19-27-27-26-29-22-28-18-58-29-114-11-47 23-44 28-23 17-29 38-25 109 8 55 10 55 7 18 19 37 32 55 35 41 29 28 28 23 96 45M3810 4430l28-33 21-21 67-55 24-110-26-35-86-16-28-8M4603 3635l6 5 29 2 57-14 29-9 38-39 29-55 6-27 0-28-3-27-9-28-13-27-20-27-28-24-29-20-29-9-17-2-11-4-18 4-11 0-57 13-28 25-16 17-17 27-13 27-5 28 0 27 9 55 14 28 18 27 10 10 28 22 29 15 22 8M4029 3223l9 8 114 6 27-14 24-27 35-28 29-15 27-39-8-28-12-27-7-11-21-17-26-27-32-28-36-26-66 26-48 26-17 29-27 55-11 28 46 109M5177 4513l3 2 58-18 57-25 40-41 13-55 9-55-23-110-36-55-22-27-25-27-38-28-33-19-114-8-44 27-36 28-16 27-12 27-17 55 21 110 13 28 34 54 22 28 35 35 111 47M4566 3608l15 8 28 11 29 1 28-3 29-7 29-14 23-24 19-27 15-33 6-22 0-28-6-31-19-51-10-13-28-26-29-19-29-12-28-4-29 3-28 5-29 13-29 26-18 27-15 27-7 28 0 27 3 28 8 27 13 28 17 22 28 24 14 9M5125 4431l55 23 49-23 30-28 19-27 13-27 9-28-23-110-39-50-58-59-114-5-34 32-20 27-28 55 20 110 17 28 19 27 26 32 59 23M4585 3608l24 8 29 2 28-3 28-7 30-18 10-10 21-27 20-55-1-28-11-55-12-27-27-28-47-27-11-4-28-4-29 2-28 6-29 15-14 13-22 27-24 55 0 27 3 21 23 62 6 8 28 26 33 21M5152 4376l28 11 29-26 30-40-21-110-38-42-114-12-21 27-18 27 20 110 20 28 85 27M4637 3608l29-9 46-19 12-11 9-16 19-24 2-4 4-27 0-28-6-55-28-33-29-24-57-20-29 6-57 16-28 44-12 39-1 27 10 55 3 9 14 19 31 27 40 22 28 6" fill="none" stroke="#112" stroke-opacity="0.85" stroke-width="5" stroke-dasharray="24 9 8 9"/>
</g>
</g>
<path d="M391.4 288.4H599V488.0H391.4ZM598.0 354.2 L588.2 333.3 L552.3 299.7 L530.2 289.4 L460.2 289.4 L438.1 299.7 L402.2 333.3 L392.4 354.2 L392.4 422.2 L402.2 443.1 L438.1 476.7 L460.2 487.0 L530.2 487.0 L552.3 476.7 L588.2 443.1 L598.0 422.2Z" fill="#fff" fill-rule="evenodd"/>
<rect x="392.4" y="289.4" width="205.6" height="197.6" fill="none" stroke="#5a5a5a" stroke-width="1.35"/>
<text x="403.8" y="501.2" font-size="8.3" text-anchor="middle" fill="#181818">-40</text>
<text x="385.7" y="479.0" font-size="8.3" text-anchor="end" fill="#181818">-40</text>
<text x="449.5" y="501.2" font-size="8.3" text-anchor="middle" fill="#181818">-20</text>
<text x="385.7" y="435.1" font-size="8.3" text-anchor="end" fill="#181818">-20</text>
<text x="495.2" y="501.2" font-size="8.3" text-anchor="middle" fill="#181818">0</text>
<text x="385.7" y="391.2" font-size="8.3" text-anchor="end" fill="#181818">0</text>
<text x="540.9" y="501.2" font-size="8.3" text-anchor="middle" fill="#181818">20</text>
<text x="385.7" y="347.3" font-size="8.3" text-anchor="end" fill="#181818">20</text>
<text x="586.6" y="501.2" font-size="8.3" text-anchor="middle" fill="#181818">40</text>
<text x="385.7" y="303.4" font-size="8.3" text-anchor="end" fill="#181818">40</text>
<text x="495.2" y="516.6" font-size="10.4" text-anchor="middle" fill="#181818">X Range (mm)</text>
<text transform="translate(368.7 388.2) rotate(-90)" font-size="10.4" text-anchor="middle" fill="#181818">Y Range (mm)</text>
</g>
<rect x="631.3" y="289.2" width="16.9" height="4.6" fill="#808080"/>
<rect x="631.3" y="480.04" width="16.9" height="3.26" fill="#0008ff"/>
<rect x="631.3" y="477.08" width="16.9" height="3.26" fill="#0018ff"/>
<rect x="631.3" y="474.12" width="16.9" height="3.26" fill="#0028ff"/>
<rect x="631.3" y="471.16" width="16.9" height="3.26" fill="#0038ff"/>
<rect x="631.3" y="468.20" width="16.9" height="3.26" fill="#0048ff"/>
<rect x="631.3" y="465.23" width="16.9" height="3.26" fill="#0058ff"/>
<rect x="631.3" y="462.27" width="16.9" height="3.26" fill="#0068ff"/>
<rect x="631.3" y="459.31" width="16.9" height="3.26" fill="#0078ff"/>
<rect x="631.3" y="456.35" width="16.9" height="3.26" fill="#0087ff"/>
<rect x="631.3" y="453.39" width="16.9" height="3.26" fill="#0097ff"/>
<rect x="631.3" y="450.43" width="16.9" height="3.26" fill="#00a7ff"/>
<rect x="631.3" y="447.47" width="16.9" height="3.26" fill="#00b7ff"/>
<rect x="631.3" y="444.51" width="16.9" height="3.26" fill="#00c7ff"/>
<rect x="631.3" y="441.55" width="16.9" height="3.26" fill="#00d7ff"/>
<rect x="631.3" y="438.59" width="16.9" height="3.26" fill="#00e7ff"/>
<rect x="631.3" y="435.62" width="16.9" height="3.26" fill="#00f7ff"/>
<rect x="631.3" y="432.66" width="16.9" height="3.26" fill="#00fff7"/>
<rect x="631.3" y="429.70" width="16.9" height="3.26" fill="#00ffe7"/>
<rect x="631.3" y="426.74" width="16.9" height="3.26" fill="#00ffd7"/>
<rect x="631.3" y="423.78" width="16.9" height="3.26" fill="#00ffc7"/>
<rect x="631.3" y="420.82" width="16.9" height="3.26" fill="#00ffb7"/>
<rect x="631.3" y="417.86" width="16.9" height="3.26" fill="#00ffa7"/>
<rect x="631.3" y="414.90" width="16.9" height="3.26" fill="#00ff97"/>
<rect x="631.3" y="411.94" width="16.9" height="3.26" fill="#00ff87"/>
<rect x="631.3" y="408.98" width="16.9" height="3.26" fill="#00ff78"/>
<rect x="631.3" y="406.02" width="16.9" height="3.26" fill="#00ff68"/>
<rect x="631.3" y="403.05" width="16.9" height="3.26" fill="#00ff58"/>
<rect x="631.3" y="400.09" width="16.9" height="3.26" fill="#00ff48"/>
<rect x="631.3" y="397.13" width="16.9" height="3.26" fill="#00ff38"/>
<rect x="631.3" y="394.17" width="16.9" height="3.26" fill="#00ff28"/>
<rect x="631.3" y="391.21" width="16.9" height="3.26" fill="#00ff18"/>
<rect x="631.3" y="388.25" width="16.9" height="3.26" fill="#00ff08"/>
<rect x="631.3" y="385.29" width="16.9" height="3.26" fill="#08ff00"/>
<rect x="631.3" y="382.33" width="16.9" height="3.26" fill="#18ff00"/>
<rect x="631.3" y="379.37" width="16.9" height="3.26" fill="#28ff00"/>
<rect x="631.3" y="376.41" width="16.9" height="3.26" fill="#38ff00"/>
<rect x="631.3" y="373.45" width="16.9" height="3.26" fill="#48ff00"/>
<rect x="631.3" y="370.48" width="16.9" height="3.26" fill="#58ff00"/>
<rect x="631.3" y="367.52" width="16.9" height="3.26" fill="#68ff00"/>
<rect x="631.3" y="364.56" width="16.9" height="3.26" fill="#78ff00"/>
<rect x="631.3" y="361.60" width="16.9" height="3.26" fill="#87ff00"/>
<rect x="631.3" y="358.64" width="16.9" height="3.26" fill="#97ff00"/>
<rect x="631.3" y="355.68" width="16.9" height="3.26" fill="#a7ff00"/>
<rect x="631.3" y="352.72" width="16.9" height="3.26" fill="#b7ff00"/>
<rect x="631.3" y="349.76" width="16.9" height="3.26" fill="#c7ff00"/>
<rect x="631.3" y="346.80" width="16.9" height="3.26" fill="#d7ff00"/>
<rect x="631.3" y="343.84" width="16.9" height="3.26" fill="#e7ff00"/>
<rect x="631.3" y="340.88" width="16.9" height="3.26" fill="#f7ff00"/>
<rect x="631.3" y="337.91" width="16.9" height="3.26" fill="#fff700"/>
<rect x="631.3" y="334.95" width="16.9" height="3.26" fill="#ffe700"/>
<rect x="631.3" y="331.99" width="16.9" height="3.26" fill="#ffd700"/>
<rect x="631.3" y="329.03" width="16.9" height="3.26" fill="#ffc700"/>
<rect x="631.3" y="326.07" width="16.9" height="3.26" fill="#ffb700"/>
<rect x="631.3" y="323.11" width="16.9" height="3.26" fill="#ffa700"/>
<rect x="631.3" y="320.15" width="16.9" height="3.26" fill="#ff9700"/>
<rect x="631.3" y="317.19" width="16.9" height="3.26" fill="#ff8700"/>
<rect x="631.3" y="314.23" width="16.9" height="3.26" fill="#ff7800"/>
<rect x="631.3" y="311.27" width="16.9" height="3.26" fill="#ff6800"/>
<rect x="631.3" y="308.30" width="16.9" height="3.26" fill="#ff5800"/>
<rect x="631.3" y="305.34" width="16.9" height="3.26" fill="#ff4800"/>
<rect x="631.3" y="302.38" width="16.9" height="3.26" fill="#ff3800"/>
<rect x="631.3" y="299.42" width="16.9" height="3.26" fill="#ff2800"/>
<rect x="631.3" y="296.46" width="16.9" height="3.26" fill="#ff1800"/>
<rect x="631.3" y="293.50" width="16.9" height="3.26" fill="#ff0800"/>
<rect x="631.3" y="483.0" width="16.9" height="3.9" fill="#000"/>
<line x1="648.2" y1="483.0" x2="651.8" y2="483.0" stroke="#333" stroke-width="0.8"/>
<text x="654.6" y="485.3" font-size="6.5" fill="#151515">5.000E-10</text>
<line x1="648.2" y1="459.3" x2="651.8" y2="459.3" stroke="#333" stroke-width="0.8"/>
<text x="654.6" y="461.7" font-size="6.5" fill="#151515">1.800E-08</text>
<line x1="648.2" y1="435.6" x2="651.8" y2="435.6" stroke="#333" stroke-width="0.8"/>
<text x="654.6" y="438.0" font-size="6.5" fill="#151515">3.550E-08</text>
<line x1="648.2" y1="411.9" x2="651.8" y2="411.9" stroke="#333" stroke-width="0.8"/>
<text x="654.6" y="414.3" font-size="6.5" fill="#151515">5.300E-08</text>
<line x1="648.2" y1="388.2" x2="651.8" y2="388.2" stroke="#333" stroke-width="0.8"/>
<text x="654.6" y="390.6" font-size="6.5" fill="#151515">7.050E-08</text>
<line x1="648.2" y1="364.6" x2="651.8" y2="364.6" stroke="#333" stroke-width="0.8"/>
<text x="654.6" y="366.9" font-size="6.5" fill="#151515">8.800E-08</text>
<line x1="648.2" y1="340.9" x2="651.8" y2="340.9" stroke="#333" stroke-width="0.8"/>
<text x="654.6" y="343.2" font-size="6.5" fill="#151515">1.055E-07</text>
<line x1="648.2" y1="317.2" x2="651.8" y2="317.2" stroke="#333" stroke-width="0.8"/>
<text x="654.6" y="319.5" font-size="6.5" fill="#151515">1.230E-07</text>
<line x1="648.2" y1="293.5" x2="651.8" y2="293.5" stroke="#333" stroke-width="0.8"/>
<text x="654.6" y="295.8" font-size="6.5" fill="#151515">1.405E-07</text>
<text x="640" y="282.8" font-size="10.4" text-anchor="middle" fill="#222">C</text>
<text x="340.8" y="248.6" font-size="18" text-anchor="middle" font-family="'Liberation Serif',serif" fill="#111">(a)</text>
<text x="342" y="533" font-size="18" text-anchor="middle" font-family="'Liberation Serif',serif" fill="#111">(b)</text>
</svg>
</body></html>
